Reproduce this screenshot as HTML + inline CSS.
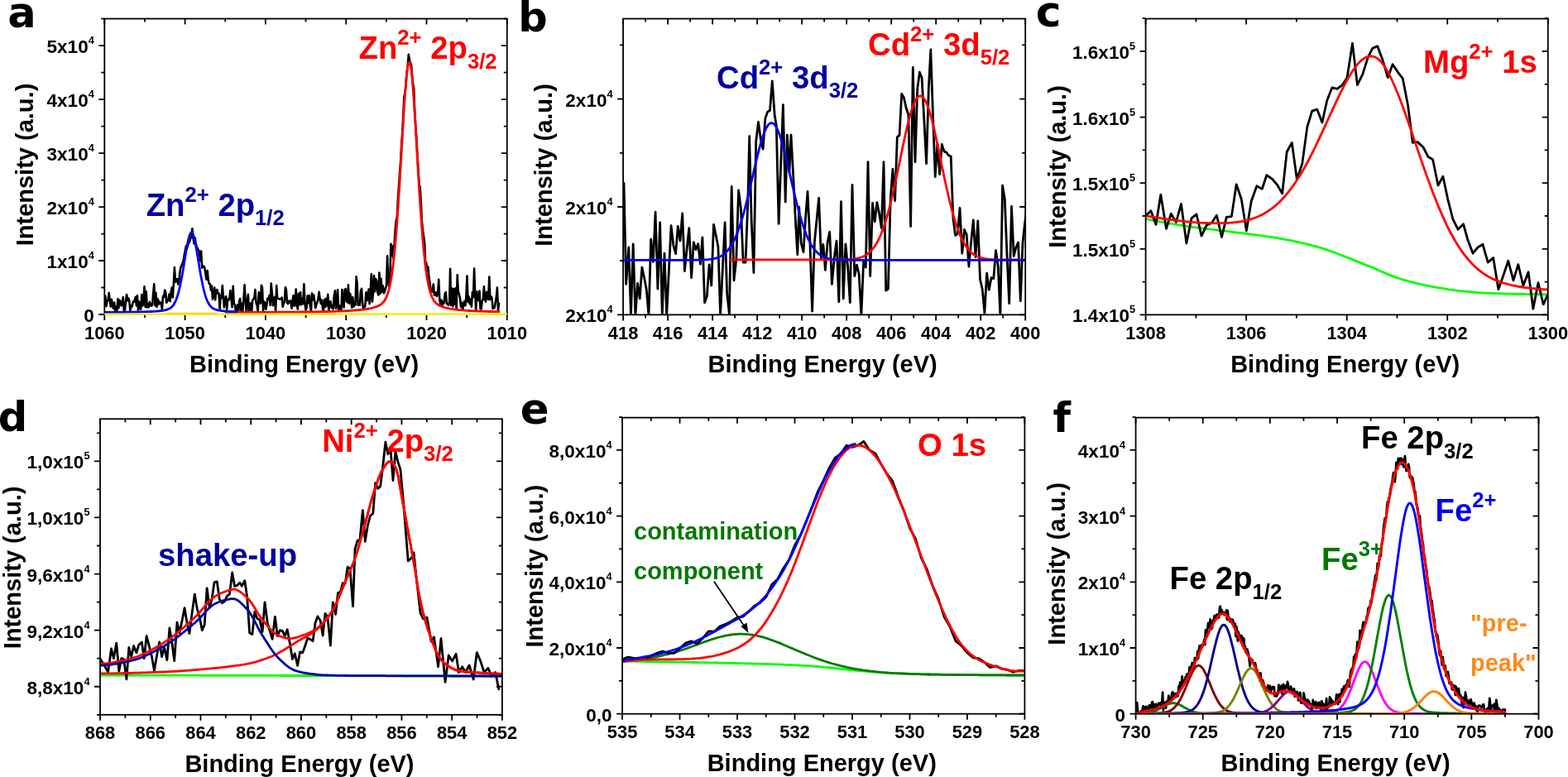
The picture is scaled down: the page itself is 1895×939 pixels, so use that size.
<!DOCTYPE html><html><head><meta charset="utf-8"><style>html,body{margin:0;padding:0;background:#fff;overflow:hidden}svg{display:block}text{font-family:'Liberation Sans', Arial, sans-serif;font-weight:bold}</style></head><body>
<svg width="1895" height="939" viewBox="0 0 1895 939">
<rect width="100%" height="100%" fill="#fff"/>
<text x="9.3" y="33.2" style="font-family:'DejaVu Sans', 'Liberation Sans', sans-serif" font-size="51">a</text>
<text x="626.3" y="37.9" style="font-family:'DejaVu Sans', 'Liberation Sans', sans-serif" font-size="49.5">b</text>
<text x="1251.8" y="32" style="font-family:'DejaVu Sans', 'Liberation Sans', sans-serif" font-size="52">c</text>
<text x="-2.3" y="520.7" style="font-family:'DejaVu Sans', 'Liberation Sans', sans-serif" font-size="49.5">d</text>
<text x="628.8" y="512.2" style="font-family:'DejaVu Sans', 'Liberation Sans', sans-serif" font-size="51.4">e</text>
<text x="1272.6" y="522.2" style="font-family:'DejaVu Sans', 'Liberation Sans', sans-serif" font-size="49.5">f</text>
<clipPath id="clipa"><rect x="126.3" y="22.6" width="486.5" height="357.4"/></clipPath>
<g clip-path="url(#clipa)">
<polyline points="126.3,368.1 127.4,357.9 128.4,370.1 129.5,364.1 130.6,362.6 131.7,354.0 132.7,363.2 133.8,370.5 134.9,361.9 135.9,369.2 137.0,372.7 138.1,365.5 139.2,375.7 140.2,370.9 141.3,376.6 142.4,361.2 143.4,372.2 144.5,362.8 145.6,364.3 146.7,369.5 147.7,365.8 148.8,359.1 149.9,376.9 150.9,375.2 152.0,364.3 153.1,356.0 154.2,363.5 155.2,360.5 156.3,363.6 157.4,375.2 158.4,369.6 159.5,370.6 160.6,365.7 161.7,363.6 162.7,364.5 163.8,359.1 164.9,369.1 165.9,357.2 167.0,374.6 168.1,364.5 169.2,372.8 170.2,373.7 171.3,356.1 172.4,369.4 173.4,365.8 174.5,346.3 175.6,370.7 176.7,352.2 177.7,371.4 178.8,367.3 179.9,371.2 180.9,364.8 182.0,368.4 183.1,369.8 184.2,368.0 185.2,354.1 186.3,343.2 187.4,369.3 188.4,353.8 189.5,370.9 190.6,361.3 191.7,367.8 192.7,364.4 193.8,365.4 194.9,368.0 195.9,373.7 197.0,357.7 198.1,359.3 199.2,350.5 200.2,353.3 201.3,365.8 202.4,363.5 203.4,362.5 204.5,355.6 205.6,364.1 206.7,352.3 207.7,347.4 208.8,359.4 209.9,341.8 210.9,323.1 212.0,340.8 213.1,337.2 214.2,337.4 215.2,343.6 216.3,340.2 217.4,329.1 218.4,323.0 219.5,321.1 220.6,318.0 221.7,314.9 222.7,308.3 223.8,303.0 224.9,297.2 225.9,300.3 227.0,296.3 228.1,293.5 229.2,292.0 230.2,287.6 231.3,287.2 232.4,276.2 233.4,286.3 234.5,294.5 235.6,287.4 236.7,294.4 237.7,298.4 238.8,300.5 239.9,302.2 240.9,304.4 242.0,315.1 243.1,303.5 244.2,323.7 245.2,321.8 246.3,321.7 247.4,323.7 248.4,331.6 249.5,337.9 250.6,327.0 251.7,337.7 252.7,342.9 253.8,343.3 254.9,350.8 255.9,345.5 257.0,361.7 258.1,357.5 259.2,347.5 260.2,362.4 261.3,350.7 262.4,350.2 263.4,354.7 264.5,354.5 265.6,373.2 266.7,357.4 267.7,360.1 268.8,345.0 269.9,359.0 270.9,371.4 272.0,360.8 273.1,358.1 274.2,374.0 275.2,361.8 276.3,362.7 277.4,359.8 278.4,351.1 279.5,361.6 280.6,371.3 281.7,345.8 282.7,366.7 283.8,368.1 284.9,376.2 285.9,373.5 287.0,368.4 288.1,376.3 289.2,363.2 290.2,360.9 291.3,376.4 292.4,367.1 293.4,376.4 294.5,360.3 295.6,344.3 296.7,363.2 297.7,376.5 298.8,365.0 299.9,355.9 300.9,376.5 302.0,370.8 303.1,366.2 304.2,376.6 305.2,363.1 306.3,361.6 307.4,359.6 308.4,350.1 309.5,365.5 310.6,369.1 311.7,376.6 312.7,353.3 313.8,361.3 314.9,366.8 315.9,344.8 317.0,347.8 318.1,375.5 319.2,364.6 320.2,365.9 321.3,373.7 322.4,368.3 323.4,360.5 324.5,361.9 325.6,357.0 326.7,369.0 327.7,342.5 328.8,354.1 329.9,369.1 330.9,363.8 332.0,358.7 333.1,376.7 334.2,345.0 335.2,360.7 336.3,360.7 337.4,361.4 338.4,361.5 339.5,361.3 340.6,359.5 341.7,370.6 342.7,366.7 343.8,365.2 344.9,347.3 345.9,350.1 347.0,365.8 348.1,367.1 349.1,363.8 350.2,365.2 351.3,363.3 352.4,372.7 353.4,365.5 354.5,357.1 355.6,369.8 356.6,366.3 357.7,349.6 358.8,370.1 359.9,373.6 360.9,354.7 362.0,368.1 363.1,353.2 364.1,368.3 365.2,360.4 366.3,367.2 367.4,343.3 368.4,366.3 369.5,374.6 370.6,371.7 371.6,357.3 372.7,366.2 373.8,357.3 374.9,369.9 375.9,376.4 377.0,354.5 378.1,362.5 379.1,356.4 380.2,363.7 381.3,372.3 382.4,367.8 383.4,365.4 384.5,361.5 385.6,352.8 386.6,361.1 387.7,367.0 388.8,362.4 389.9,372.2 390.9,376.1 392.0,362.0 393.1,371.0 394.1,360.8 395.2,369.5 396.3,355.9 397.4,376.0 398.4,365.0 399.5,364.2 400.6,371.9 401.6,369.5 402.7,373.4 403.8,357.5 404.9,351.4 405.9,372.8 407.0,367.1 408.1,350.2 409.1,375.6 410.2,370.0 411.3,369.5 412.4,375.5 413.4,350.0 414.5,367.2 415.6,371.5 416.6,350.3 417.7,349.1 418.8,364.1 419.9,365.3 420.9,344.3 422.0,366.8 423.1,354.7 424.1,359.7 425.2,371.7 426.3,359.2 427.4,370.4 428.4,368.0 429.5,368.5 430.6,334.3 431.6,342.1 432.7,368.7 433.8,367.7 434.9,368.6 435.9,352.1 437.0,348.8 438.1,365.8 439.1,373.4 440.2,370.2 441.3,370.5 442.4,353.2 443.4,363.4 444.5,356.4 445.6,349.6 446.6,367.1 447.7,352.9 448.8,331.2 449.9,364.7 450.9,355.7 452.0,333.1 453.1,352.1 454.1,337.0 455.2,339.7 456.3,353.3 457.4,356.4 458.4,329.5 459.5,354.8 460.6,336.8 461.6,352.6 462.7,345.4 463.8,354.3 464.9,352.3 465.9,348.3 467.0,345.6 468.1,309.3 469.1,337.1 470.2,346.5 471.3,339.1 472.4,294.8 473.4,309.1 474.5,297.6 475.6,312.9 476.6,294.5 477.7,277.7 478.8,266.6 479.9,261.6 480.9,240.7 482.0,224.9 483.1,208.5 484.1,196.2 485.2,176.1 486.3,160.2 487.4,139.0 488.4,116.1 489.5,113.2 490.6,101.7 491.6,88.5 492.7,80.2 493.8,65.8 494.9,72.3 495.9,75.8 497.0,78.1 498.1,91.0 499.1,101.9 500.2,106.5 501.3,136.8 502.4,153.5 503.4,167.5 504.5,188.8 505.6,206.0 506.6,223.3 507.7,226.3 508.8,245.4 509.9,267.3 510.9,277.6 512.0,285.5 513.1,293.2 514.1,318.5 515.2,317.4 516.3,327.2 517.4,322.6 518.4,335.3 519.5,341.2 520.6,350.9 521.6,351.9 522.7,352.6 523.8,343.5 524.9,356.6 525.9,356.8 527.0,353.4 528.1,357.9 529.1,354.3 530.2,337.7 531.3,361.5 532.4,369.2 533.4,362.5 534.5,370.1 535.6,365.0 536.6,366.4 537.7,354.9 538.8,353.1 539.9,366.8 540.9,367.9 542.0,368.9 543.1,365.6 544.1,324.8 545.2,368.9 546.3,348.5 547.4,370.1 548.4,349.2 549.5,367.4 550.6,348.4 551.6,373.7 552.7,332.2 553.8,352.2 554.9,355.9 555.9,360.0 557.0,370.7 558.1,365.5 559.1,374.5 560.2,369.2 561.3,364.0 562.4,369.3 563.4,358.3 564.5,333.5 565.6,364.9 566.6,358.5 567.7,367.3 568.8,361.6 569.9,370.7 570.9,353.2 572.0,358.9 573.1,324.6 574.1,352.3 575.2,375.5 576.3,352.4 577.4,361.0 578.4,363.1 579.5,351.5 580.6,373.4 581.6,373.5 582.7,363.9 583.8,361.6 584.9,346.4 585.9,362.0 587.0,364.6 588.1,352.8 589.1,359.1 590.2,362.0 591.3,334.5 592.4,361.9 593.4,358.2 594.5,360.2 595.6,373.1 596.6,372.1 597.7,371.9 598.8,364.9 599.9,358.6 600.9,347.6 602.0,374.9 603.1,366.7" fill="none" stroke="#000" stroke-width="2.6" stroke-linejoin="round" stroke-linecap="round" />
<polyline points="273.1,377.5 274.2,377.5 275.2,377.5 276.3,377.5 277.4,377.5 278.4,377.5 279.5,377.5 280.6,377.5 281.7,377.5 282.7,377.5 283.8,377.5 284.9,377.5 285.9,377.4 287.0,377.4 288.1,377.4 289.2,377.4 290.2,377.4 291.3,377.4 292.4,377.4 293.4,377.4 294.5,377.4 295.6,377.4 296.7,377.4 297.7,377.4 298.8,377.4 299.9,377.4 300.9,377.4 302.0,377.4 303.1,377.4 304.2,377.4 305.2,377.4 306.3,377.4 307.4,377.4 308.4,377.4 309.5,377.4 310.6,377.4 311.7,377.4 312.7,377.4 313.8,377.4 314.9,377.4 315.9,377.3 317.0,377.3 318.1,377.3 319.2,377.3 320.2,377.3 321.3,377.3 322.4,377.3 323.4,377.3 324.5,377.3 325.6,377.3 326.7,377.3 327.7,377.3 328.8,377.3 329.9,377.3 330.9,377.3 332.0,377.3 333.1,377.3 334.2,377.3 335.2,377.3 336.3,377.2 337.4,377.2 338.4,377.2 339.5,377.2 340.6,377.2 341.7,377.2 342.7,377.2 343.8,377.2 344.9,377.2 345.9,377.2 347.0,377.2 348.1,377.2 349.1,377.2 350.2,377.2 351.3,377.1 352.4,377.1 353.4,377.1 354.5,377.1 355.6,377.1 356.6,377.1 357.7,377.1 358.8,377.1 359.9,377.1 360.9,377.1 362.0,377.0 363.1,377.0 364.1,377.0 365.2,377.0 366.3,377.0 367.4,377.0 368.4,377.0 369.5,377.0 370.6,376.9 371.6,376.9 372.7,376.9 373.8,376.9 374.9,376.9 375.9,376.9 377.0,376.9 378.1,376.8 379.1,376.8 380.2,376.8 381.3,376.8 382.4,376.8 383.4,376.8 384.5,376.7 385.6,376.7 386.6,376.7 387.7,376.7 388.8,376.7 389.9,376.6 390.9,376.6 392.0,376.6 393.1,376.6 394.1,376.5 395.2,376.5 396.3,376.5 397.4,376.5 398.4,376.4 399.5,376.4 400.6,376.4 401.6,376.4 402.7,376.3 403.8,376.3 404.9,376.3 405.9,376.2 407.0,376.2 408.1,376.1 409.1,376.1 410.2,376.1 411.3,376.0 412.4,376.0 413.4,375.9 414.5,375.9 415.6,375.8 416.6,375.8 417.7,375.7 418.8,375.7 419.9,375.6 420.9,375.6 422.0,375.5 423.1,375.4 424.1,375.4 425.2,375.3 426.3,375.2 427.4,375.1 428.4,375.1 429.5,375.0 430.6,374.9 431.6,374.8 432.7,374.7 433.8,374.6 434.9,374.5 435.9,374.4 437.0,374.2 438.1,374.1 439.1,374.0 440.2,373.8 441.3,373.7 442.4,373.5 443.4,373.4 444.5,373.2 445.6,373.0 446.6,372.8 447.7,372.6 448.8,372.3 449.9,372.1 450.9,371.8 452.0,371.5 453.1,371.2 454.1,370.9 455.2,370.5 456.3,370.1 457.4,369.6 458.4,369.0 459.5,368.4 460.6,367.7 461.6,366.8 462.7,365.8 463.8,364.5 464.9,363.0 465.9,361.2 467.0,359.0 468.1,356.4 469.1,353.2 470.2,349.3 471.3,344.7 472.4,339.2 473.4,332.7 474.5,325.1 475.6,316.4 476.6,306.4 477.7,295.0 478.8,282.4 479.9,268.4 480.9,253.2 482.0,236.8 483.1,219.6 484.1,201.6 485.2,183.2 486.3,164.7 487.4,146.6 488.4,129.5 489.5,113.7 490.6,99.9 491.6,88.7 492.7,80.6 493.8,76.0 494.9,75.0 495.9,77.9 497.0,84.4 498.1,94.2 499.1,106.8 500.2,121.7 501.3,138.3 502.4,156.0 503.4,174.3 504.5,192.8 505.6,211.0 506.6,228.7 507.7,245.5 508.8,261.3 509.9,275.8 510.9,289.1 512.0,301.1 513.1,311.7 514.1,321.1 515.2,329.2 516.3,336.2 517.4,342.2 518.4,347.2 519.5,351.4 520.6,354.9 521.6,357.8 522.7,360.2 523.8,362.2 524.9,363.9 525.9,365.2 527.0,366.3 528.1,367.3 529.1,368.1 530.2,368.7 531.3,369.3 532.4,369.8 533.4,370.3 534.5,370.7 535.6,371.1 536.6,371.4 537.7,371.7 538.8,372.0 539.9,372.2 540.9,372.5 542.0,372.7 543.1,372.9 544.1,373.1 545.2,373.3 546.3,373.4 547.4,373.6 548.4,373.8 549.5,373.9 550.6,374.0 551.6,374.2 552.7,374.3 553.8,374.4 554.9,374.5 555.9,374.6 557.0,374.7 558.1,374.8 559.1,374.9 560.2,375.0 561.3,375.1 562.4,375.2 563.4,375.3 564.5,375.3 565.6,375.4 566.6,375.5 567.7,375.5 568.8,375.6 569.9,375.7 570.9,375.7 572.0,375.8 573.1,375.8 574.1,375.9 575.2,375.9 576.3,376.0 577.4,376.0 578.4,376.0 579.5,376.1 580.6,376.1 581.6,376.2 582.7,376.2 583.8,376.2 584.9,376.3 585.9,376.3 587.0,376.3 588.1,376.4 589.1,376.4 590.2,376.4 591.3,376.5 592.4,376.5 593.4,376.5 594.5,376.5 595.6,376.6 596.6,376.6 597.7,376.6 598.8,376.6 599.9,376.7 600.9,376.7 602.0,376.7 603.1,376.7" fill="none" stroke="#ff0000" stroke-width="2.8" stroke-linejoin="round" stroke-linecap="round" />
<polyline points="126.3,377.4 127.4,377.4 128.4,377.4 129.5,377.4 130.6,377.4 131.7,377.4 132.7,377.4 133.8,377.4 134.9,377.4 135.9,377.4 137.0,377.4 138.1,377.4 139.2,377.4 140.2,377.4 141.3,377.3 142.4,377.3 143.4,377.3 144.5,377.3 145.6,377.3 146.7,377.3 147.7,377.3 148.8,377.3 149.9,377.3 150.9,377.3 152.0,377.2 153.1,377.2 154.2,377.2 155.2,377.2 156.3,377.2 157.4,377.2 158.4,377.2 159.5,377.1 160.6,377.1 161.7,377.1 162.7,377.1 163.8,377.1 164.9,377.0 165.9,377.0 167.0,377.0 168.1,377.0 169.2,376.9 170.2,376.9 171.3,376.9 172.4,376.9 173.4,376.8 174.5,376.8 175.6,376.8 176.7,376.7 177.7,376.7 178.8,376.6 179.9,376.6 180.9,376.6 182.0,376.5 183.1,376.5 184.2,376.4 185.2,376.3 186.3,376.3 187.4,376.2 188.4,376.1 189.5,376.1 190.6,376.0 191.7,375.9 192.7,375.8 193.8,375.7 194.9,375.6 195.9,375.4 197.0,375.3 198.1,375.1 199.2,374.9 200.2,374.7 201.3,374.4 202.4,374.1 203.4,373.6 204.5,373.1 205.6,372.5 206.7,371.7 207.7,370.8 208.8,369.6 209.9,368.1 210.9,366.3 212.0,364.2 213.1,361.6 214.2,358.6 215.2,355.1 216.3,351.1 217.4,346.5 218.4,341.4 219.5,335.9 220.6,329.9 221.7,323.6 222.7,317.0 223.8,310.5 224.9,304.0 225.9,297.9 227.0,292.4 228.1,287.7 229.2,284.1 230.2,281.8 231.3,280.9 232.4,281.5 233.4,283.6 234.5,287.0 235.6,291.6 236.7,297.0 237.7,303.0 238.8,309.4 239.9,316.0 240.9,322.5 242.0,328.9 243.1,334.9 244.2,340.5 245.2,345.7 246.3,350.4 247.4,354.5 248.4,358.1 249.5,361.2 250.6,363.8 251.7,366.0 252.7,367.8 253.8,369.4 254.9,370.6 255.9,371.6 257.0,372.4 258.1,373.0 259.2,373.6 260.2,374.0 261.3,374.3 262.4,374.6 263.4,374.9 264.5,375.1 265.6,375.2 266.7,375.4 267.7,375.5 268.8,375.7 269.9,375.8 270.9,375.9 272.0,376.0 273.1,376.0 274.2,376.1 275.2,376.2 276.3,376.3 277.4,376.3 278.4,376.4 279.5,376.4 280.6,376.5 281.7,376.5 282.7,376.6 283.8,376.6 284.9,376.7 285.9,376.7" fill="none" stroke="#0000ff" stroke-width="2.8" stroke-linejoin="round" stroke-linecap="round" />
</g>
<rect x="126.3" y="22.6" width="486.5" height="357.4" fill="none" stroke="#000" stroke-width="1.8"/>
<path d="M126.3 380v7M126.3 22.6v7M174.95 380v4M174.95 22.6v4M223.6 380v7M223.6 22.6v7M272.25 380v4M272.25 22.6v4M320.9 380v7M320.9 22.6v7M369.55 380v4M369.55 22.6v4M418.2 380v7M418.2 22.6v7M466.85 380v4M466.85 22.6v4M515.5 380v7M515.5 22.6v7M564.15 380v4M564.15 22.6v4M612.8 380v7M612.8 22.6v7M126.3 380h-7M612.8 380h-7M126.3 315.02h-7M612.8 315.02h-7M126.3 250.04h-7M612.8 250.04h-7M126.3 185.05h-7M612.8 185.05h-7M126.3 120.07h-7M612.8 120.07h-7M126.3 55.09h-7M612.8 55.09h-7M126.3 347.51h-4M612.8 347.51h-4M126.3 282.53h-4M612.8 282.53h-4M126.3 217.55h-4M612.8 217.55h-4M126.3 152.56h-4M612.8 152.56h-4M126.3 87.58h-4M612.8 87.58h-4M126.3 22.6h-4M612.8 22.6h-4" fill="none" stroke="#000" stroke-width="1.8"/>
<text transform="translate(126.3,409.5) scale(0.955,1)" text-anchor="middle" font-size="22.9">1060</text>
<text transform="translate(223.6,409.5) scale(0.955,1)" text-anchor="middle" font-size="22.9">1050</text>
<text transform="translate(320.9,409.5) scale(0.955,1)" text-anchor="middle" font-size="22.9">1040</text>
<text transform="translate(418.2,409.5) scale(0.955,1)" text-anchor="middle" font-size="22.9">1030</text>
<text transform="translate(515.5,409.5) scale(0.955,1)" text-anchor="middle" font-size="22.9">1020</text>
<text transform="translate(612.8,409.5) scale(0.955,1)" text-anchor="middle" font-size="22.9">1010</text>
<text transform="translate(113.8,389) scale(0.985,1)" text-anchor="end" font-size="22.9">0</text>
<text transform="translate(113.8,324.02) scale(0.985,1)" text-anchor="end" font-size="22.9">1x10<tspan font-size="13.00" dy="-11">4</tspan></text>
<text transform="translate(113.8,259.04) scale(0.985,1)" text-anchor="end" font-size="22.9">2x10<tspan font-size="13.00" dy="-11">4</tspan></text>
<text transform="translate(113.8,194.05) scale(0.985,1)" text-anchor="end" font-size="22.9">3x10<tspan font-size="13.00" dy="-11">4</tspan></text>
<text transform="translate(113.8,129.07) scale(0.985,1)" text-anchor="end" font-size="22.9">4x10<tspan font-size="13.00" dy="-11">4</tspan></text>
<text transform="translate(113.8,64.09) scale(0.985,1)" text-anchor="end" font-size="22.9">5x10<tspan font-size="13.00" dy="-11">4</tspan></text>
<text x="367.55" y="449.8" text-anchor="middle" font-size="29">Binding Energy (eV)</text>
<text transform="translate(40.1,199) rotate(-90)" text-anchor="middle" font-size="29">Intensity (a.u.)</text>
<line x1="199.27" y1="378.4" x2="262.52" y2="378.4" stroke="#ff9900" stroke-width="1"/><line x1="126.3" y1="379.7" x2="612.8" y2="379.7" stroke="#f0f000" stroke-width="2.4"/>
<clipPath id="clipb"><rect x="753.1" y="22.6" width="486.1" height="357.8"/></clipPath>
<g clip-path="url(#clipb)">
<polyline points="754.0,221.3 756.7,343.4 759.8,298.8 762.5,381.2 765.2,295.0 767.9,381.2 770.6,342.4 773.2,360.9 775.9,323.1 778.6,335.7 781.3,350.2 784.0,381.2 786.7,289.1 789.4,316.3 792.1,256.2 794.9,349.2 797.6,268.8 800.3,381.2 803.0,306.2 805.7,381.2 808.4,326.9 811.1,272.7 813.9,296.9 816.6,306.6 819.3,273.3 822.0,291.1 824.7,257.8 827.4,327.5 830.1,300.8 832.8,275.6 835.6,335.7 838.3,292.6 841.0,301.7 843.7,294.6 846.4,319.2 848.9,286.8 851.6,365.7 854.4,357.9 857.1,319.8 859.8,345.0 862.5,271.3 865.2,284.3 867.9,297.9 870.6,381.2 873.3,326.0 876.1,268.8 878.6,354.4 881.4,379.3 884.2,225.3 887.0,338.8 889.8,314.0 892.6,230.0 895.4,251.7 898.2,317.1 901.0,317.1 903.8,245.5 905.7,164.7 908.1,264.2 910.9,329.5 913.7,170.9 916.5,147.5 919.3,167.8 922.1,180.2 924.9,142.9 927.7,135.1 930.5,133.5 933.3,97.8 936.1,138.2 938.3,152.2 941.1,270.4 943.9,192.6 946.4,126.7 949.2,244.0 951.4,163.1 953.9,208.2 956.0,163.1 958.8,214.4 961.6,270.4 963.8,307.7 965.7,250.2 968.2,293.7 971.0,304.6 973.5,264.2 976.0,231.5 978.8,289.1 981.6,376.2 984.4,292.2 987.2,264.2 989.6,239.3 992.4,312.4 994.9,295.3 997.4,326.4 1000.2,292.2 1002.7,280.4 1005.4,343.4 1008.3,311.4 1011.0,291.1 1013.8,364.7 1016.5,243.6 1019.2,360.9 1021.9,295.0 1024.6,322.1 1027.3,365.7 1030.0,223.3 1032.8,333.7 1035.5,320.2 1038.2,331.8 1040.9,381.2 1043.6,316.3 1046.3,323.1 1049.0,195.7 1051.7,333.7 1054.5,245.5 1057.2,267.8 1059.9,244.6 1062.6,258.1 1065.3,275.6 1068.0,195.7 1070.7,351.2 1073.4,349.2 1076.2,240.7 1078.9,204.4 1081.6,242.6 1084.3,165.7 1087.0,163.7 1089.7,113.3 1092.4,118.2 1095.2,130.8 1097.9,138.5 1100.6,273.6 1103.3,81.4 1106.0,195.7 1108.7,107.5 1111.4,87.2 1114.1,94.0 1116.9,146.3 1119.6,197.6 1122.3,107.5 1124.8,60.0 1127.5,138.5 1130.2,213.6 1132.9,173.4 1135.6,210.7 1138.3,174.4 1141.1,183.1 1143.8,184.1 1146.5,188.0 1149.2,188.9 1151.9,264.0 1154.6,284.3 1157.3,282.4 1160.0,251.4 1162.8,306.2 1165.5,277.5 1168.2,283.3 1170.9,322.1 1173.6,293.0 1176.3,265.9 1179.0,310.5 1181.8,266.9 1184.5,337.6 1187.2,349.2 1189.9,378.3 1192.6,330.2 1195.3,350.2 1198.0,335.7 1200.8,336.6 1203.5,302.7 1206.2,322.1 1208.9,381.2 1211.6,224.2 1214.3,240.7 1217.0,308.5 1219.7,366.7 1222.5,249.4 1225.2,309.5 1227.9,298.8 1230.6,293.0 1233.3,363.8 1236.0,293.0 1238.7,268.8 1241.0,250.0" fill="none" stroke="#000" stroke-width="2.8" stroke-linejoin="round" stroke-linecap="round" />
<polyline points="882.7,313.9 885.4,313.9 888.1,313.9 890.8,313.9 893.5,313.9 896.2,313.9 898.9,313.9 901.6,313.9 904.3,313.9 907.0,313.9 909.7,313.9 912.4,313.9 915.1,313.9 917.8,313.9 920.5,313.9 923.2,313.9 925.9,313.9 928.6,313.9 931.3,313.9 934.0,313.9 936.7,313.9 939.4,313.9 942.1,313.9 944.8,313.9 947.5,313.9 950.2,313.9 952.9,313.9 955.6,313.9 958.3,313.9 961.0,313.9 963.7,313.9 966.4,313.9 969.1,313.9 971.8,313.9 974.5,313.9 977.2,313.9 979.9,313.9 982.6,313.9 985.3,313.9 988.0,313.9 990.7,313.9 993.4,313.9 996.2,313.9 998.9,313.9 1001.6,313.9 1004.3,313.9 1007.0,313.9 1009.7,313.9 1012.4,313.8 1015.1,313.8 1017.8,313.8 1020.5,313.7 1023.2,313.6 1025.9,313.5 1028.6,313.3 1031.3,313.0 1034.0,312.6 1036.7,312.1 1039.4,311.4 1042.1,310.5 1044.8,309.2 1047.5,307.6 1050.2,305.6 1052.9,303.0 1055.6,299.8 1058.3,295.9 1061.0,291.2 1063.7,285.5 1066.4,278.9 1069.1,271.2 1071.8,262.5 1074.5,252.7 1077.2,242.0 1079.9,230.3 1082.6,218.0 1085.3,205.1 1088.0,192.0 1090.7,178.9 1093.4,166.2 1096.1,154.2 1098.8,143.3 1101.5,133.8 1104.2,126.1 1106.9,120.4 1109.6,116.9 1112.3,115.7 1115.0,116.9 1117.7,120.4 1120.4,126.1 1123.1,133.8 1125.8,143.3 1128.5,154.2 1131.2,166.2 1133.9,178.9 1136.6,192.0 1139.3,205.1 1142.0,218.0 1144.7,230.3 1147.4,242.0 1150.1,252.7 1152.8,262.5 1155.5,271.2 1158.2,278.9 1160.9,285.5 1163.6,291.2 1166.3,295.9 1169.0,299.8 1171.7,303.0 1174.4,305.6 1177.1,307.6 1179.8,309.2 1182.5,310.5 1185.2,311.4 1187.9,312.1 1190.6,312.6 1193.3,313.0 1196.0,313.3 1198.7,313.5 1201.4,313.6 1204.1,313.7 1206.8,313.8 1209.5,313.8 1212.2,313.8 1214.9,313.9 1217.6,313.9 1220.3,313.9 1223.0,313.9 1225.7,313.9 1228.4,313.9 1231.1,313.9 1233.8,313.9 1236.5,313.9 1239.2,313.9" fill="none" stroke="#ff0000" stroke-width="2.8" stroke-linejoin="round" stroke-linecap="round" />
<polyline points="753.1,314.3 755.8,314.3 758.5,314.3 761.2,314.3 763.9,314.3 766.6,314.3 769.3,314.3 772.0,314.3 774.7,314.3 777.4,314.3 780.1,314.3 782.8,314.3 785.5,314.3 788.2,314.3 790.9,314.3 793.6,314.3 796.3,314.3 799.0,314.3 801.7,314.3 804.4,314.3 807.1,314.3 809.8,314.3 812.5,314.3 815.2,314.3 817.9,314.3 820.6,314.3 823.3,314.3 826.0,314.3 828.7,314.3 831.4,314.3 834.1,314.3 836.8,314.3 839.5,314.2 842.2,314.2 844.9,314.2 847.6,314.1 850.3,314.0 853.0,313.9 855.7,313.7 858.4,313.4 861.1,313.0 863.8,312.4 866.5,311.6 869.2,310.6 871.9,309.2 874.6,307.3 877.3,305.0 880.0,302.1 882.7,298.4 885.4,293.9 888.1,288.6 890.8,282.2 893.5,274.9 896.2,266.5 898.9,257.2 901.6,246.9 904.3,235.9 907.0,224.4 909.7,212.6 912.4,200.8 915.1,189.4 917.8,178.8 920.5,169.2 923.2,161.2 925.9,154.9 928.6,150.7 931.3,148.6 934.0,148.8 936.7,151.3 939.4,156.0 942.1,162.7 944.8,171.0 947.5,180.8 950.2,191.6 952.9,203.1 955.6,214.9 958.3,226.7 961.0,238.2 963.7,249.0 966.4,259.1 969.1,268.3 971.8,276.4 974.5,283.6 977.2,289.7 979.9,294.9 982.6,299.2 985.3,302.7 988.0,305.5 990.7,307.8 993.4,309.5 996.2,310.8 998.9,311.8 1001.6,312.5 1004.3,313.1 1007.0,313.4 1009.7,313.7 1012.4,313.9 1015.1,314.0 1017.8,314.1 1020.5,314.2 1023.2,314.2 1025.9,314.2 1028.6,314.3 1031.3,314.3 1034.0,314.3 1036.7,314.3 1039.4,314.3 1042.1,314.3 1044.8,314.3 1047.5,314.3 1050.2,314.3 1052.9,314.3 1055.6,314.3 1058.3,314.3 1061.0,314.3 1063.7,314.3 1066.4,314.3 1069.1,314.3 1071.8,314.3 1074.5,314.3 1077.2,314.3 1079.9,314.3 1082.6,314.3 1085.3,314.3 1088.0,314.3 1090.7,314.3 1093.4,314.3 1096.1,314.3 1098.8,314.3 1101.5,314.3 1104.2,314.3 1106.9,314.3 1109.6,314.3 1112.3,314.3 1115.0,314.3 1117.7,314.3 1120.4,314.3 1123.1,314.3 1125.8,314.3 1128.5,314.3 1131.2,314.3 1133.9,314.3 1136.6,314.3 1139.3,314.3 1142.0,314.3 1144.7,314.3 1147.4,314.3 1150.1,314.3 1152.8,314.3 1155.5,314.3 1158.2,314.3 1160.9,314.3 1163.6,314.3 1166.3,314.3 1169.0,314.3 1171.7,314.3 1174.4,314.3 1177.1,314.3 1179.8,314.3 1182.5,314.3 1185.2,314.3 1187.9,314.3 1190.6,314.3 1193.3,314.3 1196.0,314.3 1198.7,314.3 1201.4,314.3 1204.1,314.3 1206.8,314.3 1209.5,314.3 1212.2,314.3 1214.9,314.3 1217.6,314.3 1220.3,314.3 1223.0,314.3 1225.7,314.3 1228.4,314.3 1231.1,314.3 1233.8,314.3 1236.5,314.3 1239.2,314.3" fill="none" stroke="#0000ff" stroke-width="2.8" stroke-linejoin="round" stroke-linecap="round" />
</g>
<rect x="753.1" y="22.6" width="486.1" height="357.8" fill="none" stroke="#000" stroke-width="1.8"/>
<path d="M753.1 380.4v7M753.1 22.6v7M780.11 380.4v4M780.11 22.6v4M807.11 380.4v7M807.11 22.6v7M834.12 380.4v4M834.12 22.6v4M861.12 380.4v7M861.12 22.6v7M888.13 380.4v4M888.13 22.6v4M915.13 380.4v7M915.13 22.6v7M942.14 380.4v4M942.14 22.6v4M969.14 380.4v7M969.14 22.6v7M996.15 380.4v4M996.15 22.6v4M1023.16 380.4v7M1023.16 22.6v7M1050.16 380.4v4M1050.16 22.6v4M1077.17 380.4v7M1077.17 22.6v7M1104.17 380.4v4M1104.17 22.6v4M1131.18 380.4v7M1131.18 22.6v7M1158.18 380.4v4M1158.18 22.6v4M1185.19 380.4v7M1185.19 22.6v7M1212.19 380.4v4M1212.19 22.6v4M1239.2 380.4v7M1239.2 22.6v7M753.1 380.4h-7M1239.2 380.4h-7M753.1 250h-7M1239.2 250h-7M753.1 119.6h-7M1239.2 119.6h-7M753.1 315.2h-4M1239.2 315.2h-4M753.1 184.8h-4M1239.2 184.8h-4M753.1 54.4h-4M1239.2 54.4h-4" fill="none" stroke="#000" stroke-width="1.8"/>
<text transform="translate(753.1,409.9) scale(0.955,1)" text-anchor="middle" font-size="22.9">418</text>
<text transform="translate(807.11,409.9) scale(0.955,1)" text-anchor="middle" font-size="22.9">416</text>
<text transform="translate(861.12,409.9) scale(0.955,1)" text-anchor="middle" font-size="22.9">414</text>
<text transform="translate(915.13,409.9) scale(0.955,1)" text-anchor="middle" font-size="22.9">412</text>
<text transform="translate(969.14,409.9) scale(0.955,1)" text-anchor="middle" font-size="22.9">410</text>
<text transform="translate(1023.16,409.9) scale(0.955,1)" text-anchor="middle" font-size="22.9">408</text>
<text transform="translate(1077.17,409.9) scale(0.955,1)" text-anchor="middle" font-size="22.9">406</text>
<text transform="translate(1131.18,409.9) scale(0.955,1)" text-anchor="middle" font-size="22.9">404</text>
<text transform="translate(1185.19,409.9) scale(0.955,1)" text-anchor="middle" font-size="22.9">402</text>
<text transform="translate(1239.2,409.9) scale(0.955,1)" text-anchor="middle" font-size="22.9">400</text>
<text transform="translate(740.6,389.4) scale(0.985,1)" text-anchor="end" font-size="22.9">2x10<tspan font-size="13.00" dy="-11">4</tspan></text>
<text transform="translate(740.6,259) scale(0.985,1)" text-anchor="end" font-size="22.9">2x10<tspan font-size="13.00" dy="-11">4</tspan></text>
<text transform="translate(740.6,128.6) scale(0.985,1)" text-anchor="end" font-size="22.9">2x10<tspan font-size="13.00" dy="-11">4</tspan></text>
<text x="994.15" y="450.2" text-anchor="middle" font-size="29">Binding Energy (eV)</text>
<text transform="translate(666.9,199.5) rotate(-90)" text-anchor="middle" font-size="29">Intensity (a.u.)</text>

<clipPath id="clipc"><rect x="1384.6" y="22.6" width="486.2" height="357.8"/></clipPath>
<g clip-path="url(#clipc)">
<polyline points="1384.6,264.5 1387.0,265.0 1389.5,265.5 1391.9,266.0 1394.4,266.4 1396.8,266.9 1399.3,267.4 1401.7,267.8 1404.1,268.3 1406.6,268.7 1409.0,269.2 1411.5,269.6 1413.9,270.0 1416.4,270.4 1418.8,270.9 1421.2,271.3 1423.7,271.7 1426.1,272.1 1428.6,272.5 1431.0,272.8 1433.5,273.2 1435.9,273.6 1438.4,273.9 1440.8,274.3 1443.2,274.6 1445.7,275.0 1448.1,275.3 1450.6,275.6 1453.0,275.9 1455.5,276.2 1457.9,276.5 1460.3,276.8 1462.8,277.1 1465.2,277.4 1467.7,277.7 1470.1,278.0 1472.6,278.3 1475.0,278.6 1477.4,278.9 1479.9,279.1 1482.3,279.4 1484.8,279.7 1487.2,280.0 1489.7,280.3 1492.1,280.6 1494.5,281.0 1497.0,281.3 1499.4,281.6 1501.9,281.9 1504.3,282.2 1506.8,282.5 1509.2,282.9 1511.6,283.2 1514.1,283.5 1516.5,283.8 1519.0,284.1 1521.4,284.4 1523.9,284.8 1526.3,285.1 1528.7,285.4 1531.2,285.8 1533.6,286.1 1536.1,286.5 1538.5,286.9 1541.0,287.3 1543.4,287.7 1545.9,288.1 1548.3,288.5 1550.7,288.9 1553.2,289.3 1555.6,289.8 1558.1,290.3 1560.5,290.7 1563.0,291.2 1565.4,291.8 1567.8,292.3 1570.3,292.8 1572.7,293.4 1575.2,294.0 1577.6,294.5 1580.1,295.2 1582.5,295.8 1584.9,296.4 1587.4,297.0 1589.8,297.7 1592.3,298.4 1594.7,299.1 1597.2,299.8 1599.6,300.6 1602.0,301.4 1604.5,302.2 1606.9,303.1 1609.4,304.0 1611.8,304.9 1614.3,305.8 1616.7,306.8 1619.1,307.7 1621.6,308.6 1624.0,309.5 1626.5,310.5 1628.9,311.4 1631.4,312.4 1633.8,313.4 1636.3,314.4 1638.7,315.4 1641.1,316.4 1643.6,317.4 1646.0,318.4 1648.5,319.4 1650.9,320.4 1653.4,321.4 1655.8,322.3 1658.2,323.3 1660.7,324.3 1663.1,325.4 1665.6,326.4 1668.0,327.5 1670.5,328.5 1672.9,329.6 1675.3,330.6 1677.8,331.6 1680.2,332.6 1682.7,333.6 1685.1,334.5 1687.6,335.4 1690.0,336.2 1692.4,337.0 1694.9,337.8 1697.3,338.5 1699.8,339.2 1702.2,339.9 1704.7,340.5 1707.1,341.2 1709.5,341.8 1712.0,342.4 1714.4,343.0 1716.9,343.5 1719.3,344.1 1721.8,344.6 1724.2,345.1 1726.7,345.6 1729.1,346.1 1731.5,346.5 1734.0,347.0 1736.4,347.4 1738.9,347.8 1741.3,348.2 1743.8,348.6 1746.2,349.0 1748.6,349.4 1751.1,349.8 1753.5,350.1 1756.0,350.4 1758.4,350.8 1760.9,351.1 1763.3,351.3 1765.7,351.6 1768.2,351.8 1770.6,352.1 1773.1,352.3 1775.5,352.6 1778.0,352.8 1780.4,353.0 1782.8,353.3 1785.3,353.5 1787.7,353.7 1790.2,353.8 1792.6,354.0 1795.1,354.1 1797.5,354.3 1799.9,354.4 1802.4,354.4 1804.8,354.5 1807.3,354.6 1809.7,354.7 1812.2,354.8 1814.6,354.8 1817.0,354.9 1819.5,355.0 1821.9,355.1 1824.4,355.1 1826.8,355.2 1829.3,355.2 1831.7,355.3 1834.2,355.4 1836.6,355.4 1839.0,355.5 1841.5,355.5 1843.9,355.6 1846.4,355.6 1848.8,355.6 1851.3,355.7 1853.7,355.7 1856.1,355.7 1858.6,355.7 1861.0,355.8 1863.5,355.8 1865.9,355.8 1868.4,355.8 1870.8,355.8" fill="none" stroke="#00ff00" stroke-width="2.8" stroke-linejoin="round" stroke-linecap="round" />
<polyline points="1384.0,261.6 1390.9,254.7 1397.0,271.3 1402.8,235.3 1409.5,276.3 1415.3,258.3 1421.4,268.5 1427.5,246.4 1433.9,294.0 1440.0,263.8 1446.0,258.8 1452.1,285.2 1458.2,272.1 1464.3,269.4 1470.4,260.2 1476.5,286.5 1482.3,262.4 1488.4,261.6 1494.2,222.8 1500.3,240.8 1506.4,278.8 1512.3,243.0 1518.9,224.8 1525.3,228.4 1530.8,211.7 1537.7,216.5 1543.8,223.7 1549.7,233.9 1555.2,183.5 1561.3,172.4 1567.4,216.7 1573.8,197.9 1579.8,153.6 1585.7,134.2 1591.8,132.2 1597.9,148.0 1603.7,121.7 1609.8,105.9 1616.1,107.3 1622.3,102.6 1628.1,93.7 1634.5,52.3 1640.4,102.6 1646.8,89.8 1653.2,69.4 1658.8,58.4 1664.7,55.8 1670.8,71.9 1677.2,93.7 1683.1,77.8 1689.5,87.3 1695.3,94.9 1701.5,126.9 1707.3,172.3 1713.2,171.6 1720.1,178.0 1726.0,189.5 1731.6,192.8 1738.0,224.0 1743.9,213.2 1750.0,241.8 1755.9,264.8 1762.0,277.2 1768.5,270.7 1773.9,289.9 1780.1,306.2 1785.9,299.0 1792.0,295.3 1798.2,317.1 1804.7,311.6 1810.9,349.7 1816.7,333.4 1822.8,315.3 1829.0,338.8 1834.8,319.6 1840.9,345.3 1847.1,328.7 1852.9,373.2 1859.0,341.7 1865.2,367.8 1871.0,355.1" fill="none" stroke="#000" stroke-width="2.8" stroke-linejoin="round" stroke-linecap="round" />
<polyline points="1384.6,260.8 1387.0,261.2 1389.5,261.6 1391.9,262.0 1394.4,262.4 1396.8,262.8 1399.3,263.2 1401.7,263.6 1404.1,264.0 1406.6,264.3 1409.0,264.7 1411.5,265.0 1413.9,265.4 1416.4,265.7 1418.8,266.0 1421.2,266.3 1423.7,266.7 1426.1,266.9 1428.6,267.2 1431.0,267.5 1433.5,267.8 1435.9,268.0 1438.4,268.2 1440.8,268.5 1443.2,268.7 1445.7,268.8 1448.1,269.0 1450.6,269.2 1453.0,269.3 1455.5,269.4 1457.9,269.5 1460.3,269.6 1462.8,269.7 1465.2,269.7 1467.7,269.7 1470.1,269.8 1472.6,269.7 1475.0,269.7 1477.4,269.7 1479.9,269.6 1482.3,269.5 1484.8,269.3 1487.2,269.2 1489.7,269.0 1492.1,268.7 1494.5,268.5 1497.0,268.1 1499.4,267.8 1501.9,267.3 1504.3,266.8 1506.8,266.3 1509.2,265.6 1511.6,264.9 1514.1,264.2 1516.5,263.3 1519.0,262.3 1521.4,261.3 1523.9,260.1 1526.3,258.9 1528.7,257.5 1531.2,256.0 1533.6,254.4 1536.1,252.7 1538.5,250.9 1541.0,248.9 1543.4,246.8 1545.9,244.5 1548.3,242.1 1550.7,239.5 1553.2,236.8 1555.6,233.9 1558.1,230.9 1560.5,227.7 1563.0,224.3 1565.4,220.8 1567.8,217.1 1570.3,213.3 1572.7,209.3 1575.2,205.1 1577.6,200.8 1580.1,196.3 1582.5,191.7 1584.9,186.9 1587.4,182.0 1589.8,177.0 1592.3,171.9 1594.7,166.7 1597.2,161.5 1599.6,156.2 1602.0,150.9 1604.5,145.5 1606.9,140.2 1609.4,134.9 1611.8,129.6 1614.3,124.4 1616.7,119.2 1619.1,114.1 1621.6,109.2 1624.0,104.3 1626.5,99.7 1628.9,95.3 1631.4,91.1 1633.8,87.1 1636.3,83.5 1638.7,80.2 1641.1,77.2 1643.6,74.6 1646.0,72.4 1648.5,70.6 1650.9,69.3 1653.4,68.4 1655.8,67.9 1658.2,68.0 1660.7,68.6 1663.1,69.7 1665.6,71.4 1668.0,73.6 1670.5,76.4 1672.9,79.8 1675.3,83.6 1677.8,87.9 1680.2,92.6 1682.7,97.7 1685.1,103.2 1687.6,109.0 1690.0,115.0 1692.4,121.3 1694.9,127.8 1697.3,134.5 1699.8,141.4 1702.2,148.4 1704.7,155.5 1707.1,162.7 1709.5,169.9 1712.0,177.1 1714.4,184.3 1716.9,191.4 1719.3,198.5 1721.8,205.5 1724.2,212.4 1726.7,219.1 1729.1,225.7 1731.5,232.2 1734.0,238.5 1736.4,244.6 1738.9,250.6 1741.3,256.3 1743.8,261.9 1746.2,267.2 1748.6,272.4 1751.1,277.3 1753.5,282.0 1756.0,286.5 1758.4,290.8 1760.9,294.8 1763.3,298.6 1765.7,302.3 1768.2,305.7 1770.6,308.9 1773.1,312.0 1775.5,314.9 1778.0,317.6 1780.4,320.1 1782.8,322.5 1785.3,324.7 1787.7,326.7 1790.2,328.6 1792.6,330.4 1795.1,332.0 1797.5,333.5 1799.9,334.9 1802.4,336.2 1804.8,337.4 1807.3,338.4 1809.7,339.4 1812.2,340.4 1814.6,341.2 1817.0,342.0 1819.5,342.7 1821.9,343.4 1824.4,344.0 1826.8,344.6 1829.3,345.1 1831.7,345.6 1834.2,346.1 1836.6,346.5 1839.0,346.9 1841.5,347.3 1843.9,347.6 1846.4,347.9 1848.8,348.2 1851.3,348.5 1853.7,348.7 1856.1,349.0 1858.6,349.2 1861.0,349.4 1863.5,349.6 1865.9,349.7 1868.4,349.9 1870.8,350.1" fill="none" stroke="#ff0000" stroke-width="2.8" stroke-linejoin="round" stroke-linecap="round" />
</g>
<rect x="1384.6" y="22.6" width="486.2" height="357.8" fill="none" stroke="#000" stroke-width="1.8"/>
<path d="M1384.6 380.4v7M1384.6 22.6v7M1445.38 380.4v4M1445.38 22.6v4M1506.15 380.4v7M1506.15 22.6v7M1566.92 380.4v4M1566.92 22.6v4M1627.7 380.4v7M1627.7 22.6v7M1688.47 380.4v4M1688.47 22.6v4M1749.25 380.4v7M1749.25 22.6v7M1810.03 380.4v4M1810.03 22.6v4M1870.8 380.4v7M1870.8 22.6v7M1384.6 380.4h-7M1870.8 380.4h-7M1384.6 300.8h-7M1870.8 300.8h-7M1384.6 221.2h-7M1870.8 221.2h-7M1384.6 141.6h-7M1870.8 141.6h-7M1384.6 62h-7M1870.8 62h-7M1384.6 340.6h-4M1870.8 340.6h-4M1384.6 261h-4M1870.8 261h-4M1384.6 181.4h-4M1870.8 181.4h-4M1384.6 101.8h-4M1870.8 101.8h-4M1384.6 22.2h-4M1870.8 22.2h-4" fill="none" stroke="#000" stroke-width="1.8"/>
<text transform="translate(1384.6,409.9) scale(0.955,1)" text-anchor="middle" font-size="22.9">1308</text>
<text transform="translate(1506.15,409.9) scale(0.955,1)" text-anchor="middle" font-size="22.9">1306</text>
<text transform="translate(1627.7,409.9) scale(0.955,1)" text-anchor="middle" font-size="22.9">1304</text>
<text transform="translate(1749.25,409.9) scale(0.955,1)" text-anchor="middle" font-size="22.9">1302</text>
<text transform="translate(1870.8,409.9) scale(0.955,1)" text-anchor="middle" font-size="22.9">1300</text>
<text transform="translate(1372.1,389.4) scale(0.985,1)" text-anchor="end" font-size="22.9">1.4x10<tspan font-size="13.00" dy="-11">5</tspan></text>
<text transform="translate(1372.1,309.8) scale(0.985,1)" text-anchor="end" font-size="22.9">1.5x10<tspan font-size="13.00" dy="-11">5</tspan></text>
<text transform="translate(1372.1,230.2) scale(0.985,1)" text-anchor="end" font-size="22.9">1.5x10<tspan font-size="13.00" dy="-11">5</tspan></text>
<text transform="translate(1372.1,150.6) scale(0.985,1)" text-anchor="end" font-size="22.9">1.6x10<tspan font-size="13.00" dy="-11">5</tspan></text>
<text transform="translate(1372.1,71) scale(0.985,1)" text-anchor="end" font-size="22.9">1.6x10<tspan font-size="13.00" dy="-11">5</tspan></text>
<text x="1625.7" y="450.2" text-anchor="middle" font-size="29">Binding Energy (eV)</text>
<text transform="translate(1287.6,201.5) rotate(-90)" text-anchor="middle" font-size="29">Intensity (a.u.)</text>

<clipPath id="clipd"><rect x="121" y="506.3" width="485.9" height="357.5"/></clipPath>
<g clip-path="url(#clipd)">
<polyline points="121.0,816.0 123.0,816.0 125.1,816.0 127.1,816.0 129.1,816.0 131.2,816.0 133.2,816.0 135.2,816.0 137.3,816.0 139.3,816.0 141.3,816.0 143.4,816.0 145.4,816.1 147.4,816.1 149.5,816.1 151.5,816.1 153.5,816.1 155.6,816.1 157.6,816.1 159.6,816.1 161.7,816.1 163.7,816.1 165.7,816.1 167.8,816.1 169.8,816.1 171.8,816.1 173.9,816.1 175.9,816.1 177.9,816.1 180.0,816.1 182.0,816.1 184.0,816.1 186.1,816.1 188.1,816.1 190.1,816.1 192.2,816.1 194.2,816.2 196.2,816.2 198.3,816.2 200.3,816.2 202.3,816.2 204.4,816.2 206.4,816.2 208.4,816.2 210.5,816.2 212.5,816.2 214.5,816.2 216.6,816.2 218.6,816.2 220.6,816.2 222.7,816.2 224.7,816.2 226.7,816.2 228.8,816.2 230.8,816.2 232.8,816.2 234.9,816.2 236.9,816.2 238.9,816.2 241.0,816.2 243.0,816.3 245.0,816.3 247.0,816.3 249.1,816.3 251.1,816.3 253.1,816.3 255.2,816.3 257.2,816.3 259.2,816.3 261.3,816.3 263.3,816.3 265.3,816.3 267.4,816.3 269.4,816.3 271.4,816.3 273.5,816.3 275.5,816.3 277.5,816.3 279.6,816.3 281.6,816.3 283.6,816.3 285.7,816.3 287.7,816.3 289.7,816.3 291.8,816.4 293.8,816.4 295.8,816.4 297.9,816.4 299.9,816.4 301.9,816.4 304.0,816.4 306.0,816.4 308.0,816.4 310.1,816.4 312.1,816.4 314.1,816.4 316.2,816.4 318.2,816.4 320.2,816.4 322.3,816.4 324.3,816.4 326.3,816.4 328.4,816.4 330.4,816.4 332.4,816.4 334.5,816.4 336.5,816.4 338.5,816.4 340.6,816.5 342.6,816.5 344.6,816.5 346.7,816.5 348.7,816.5 350.7,816.5 352.8,816.5 354.8,816.5 356.8,816.5 358.9,816.5 360.9,816.5 362.9,816.5 365.0,816.5 367.0,816.5 369.0,816.5 371.1,816.5 373.1,816.5 375.1,816.5 377.2,816.5 379.2,816.5 381.2,816.5 383.3,816.5 385.3,816.5 387.3,816.5 389.4,816.6 391.4,816.6 393.4,816.6 395.5,816.6 397.5,816.6 399.5,816.6 401.6,816.6 403.6,816.6 405.6,816.6 407.7,816.6 409.7,816.6 411.7,816.6 413.8,816.6 415.8,816.6 417.8,816.6 419.9,816.6 421.9,816.6 423.9,816.6 426.0,816.6 428.0,816.6 430.0,816.6 432.1,816.6 434.1,816.6 436.1,816.6 438.2,816.7 440.2,816.7 442.2,816.7 444.3,816.7 446.3,816.7 448.3,816.7 450.4,816.7 452.4,816.7 454.4,816.7 456.5,816.7 458.5,816.7 460.5,816.7 462.6,816.7 464.6,816.7 466.6,816.7 468.7,816.7 470.7,816.7 472.7,816.7 474.8,816.7 476.8,816.7 478.8,816.7 480.9,816.7 482.9,816.7 484.9,816.7 486.9,816.8 489.0,816.8 491.0,816.8 493.0,816.8 495.1,816.8 497.1,816.8 499.1,816.8 501.2,816.8 503.2,816.8 505.2,816.8 507.3,816.8 509.3,816.8 511.3,816.8 513.4,816.8 515.4,816.8 517.4,816.8 519.5,816.8 521.5,816.8 523.5,816.8 525.6,816.8 527.6,816.8 529.6,816.8 531.7,816.8 533.7,816.8 535.7,816.9 537.8,816.9 539.8,816.9 541.8,816.9 543.9,816.9 545.9,816.9 547.9,816.9 550.0,816.9 552.0,816.9 554.0,816.9 556.1,816.9 558.1,816.9 560.1,816.9 562.2,816.9 564.2,816.9 566.2,816.9 568.3,816.9 570.3,816.9 572.3,816.9 574.4,816.9 576.4,816.9 578.4,816.9 580.5,816.9 582.5,816.9 584.5,817.0 586.6,817.0 588.6,817.0 590.6,817.0 592.7,817.0 594.7,817.0 596.7,817.0 598.8,817.0 600.8,817.0 602.8,817.0 604.9,817.0 606.9,817.0" fill="none" stroke="#00ff00" stroke-width="2.8" stroke-linejoin="round" stroke-linecap="round" />
<polyline points="120.9,795.7 123.8,800.5 126.8,805.3 130.6,812.1 134.5,784.0 137.4,795.7 140.7,777.2 143.8,811.2 146.7,795.7 149.6,796.6 152.9,820.9 155.8,782.5 158.7,793.7 161.6,780.5 164.9,788.9 167.8,779.2 171.3,775.9 174.2,795.7 177.1,768.5 180.6,782.1 183.5,793.7 186.4,810.2 189.3,793.7 192.6,775.9 195.6,793.7 198.5,782.1 201.9,797.6 204.9,758.8 207.8,776.3 210.7,798.6 214.0,752.1 216.9,764.7 219.8,751.1 223.1,734.6 226.0,753.0 228.9,765.6 232.0,741.4 235.3,718.1 238.2,735.6 241.1,745.3 244.3,761.7 247.2,755.0 250.1,710.8 253.2,734.6 256.1,724.0 259.0,703.6 262.3,703.0 265.2,724.0 268.5,728.8 271.4,726.9 274.5,720.1 277.4,718.1 280.7,692.0 283.6,708.4 286.5,707.5 289.8,704.2 292.3,708.4 295.8,701.7 298.7,722.0 301.6,764.7 304.9,766.6 307.8,739.5 310.7,747.2 314.0,749.1 317.1,763.7 320.0,727.8 323.3,753.0 326.2,762.7 329.1,772.4 332.4,745.3 335.3,768.5 338.3,761.7 341.4,762.7 344.3,768.5 347.2,760.8 350.5,778.2 353.4,796.6 356.3,789.8 359.6,804.4 362.5,787.9 365.7,788.9 368.8,780.2 371.7,771.4 374.6,772.4 378.1,774.7 381.0,753.0 383.9,744.9 387.2,750.1 390.1,768.1 393.0,741.4 395.9,745.3 399.4,780.2 402.3,727.8 405.6,742.4 408.5,716.2 411.4,715.2 414.3,704.6 417.2,705.0 420.1,685.2 423.0,687.1 426.5,732.7 429.1,663.1 432.0,653.4 434.9,652.4 438.4,616.6 441.3,654.4 444.2,636.0 447.5,623.4 450.8,620.5 453.7,583.6 456.8,590.4 459.7,587.5 462.6,564.3 465.9,534.2 468.8,548.8 472.1,543.9 475.0,580.7 477.9,545.9 481.0,558.4 483.9,567.2 487.7,608.1 493.2,677.9 497.2,674.5 500.0,667.7 503.4,700.1 508.1,741.0 511.6,747.8 516.0,746.1 521.1,775.0 524.5,769.9 529.6,805.7 533.0,771.6 538.1,824.4 542.2,792.0 546.6,798.9 551.1,790.3 554.5,812.5 558.6,805.7 562.6,812.5 567.1,804.0 572.2,821.0 576.3,788.6 580.7,798.9 585.1,812.5 589.9,807.4 594.3,817.6 598.7,812.5 602.8,832.9" fill="none" stroke="#000" stroke-width="2.8" stroke-linejoin="round" stroke-linecap="round" />
<polyline points="121.0,813.9 123.0,813.9 125.1,813.9 127.1,813.9 129.1,813.9 131.2,813.8 133.2,813.8 135.2,813.8 137.3,813.8 139.3,813.7 141.3,813.7 143.4,813.7 145.4,813.6 147.4,813.6 149.5,813.5 151.5,813.5 153.5,813.5 155.6,813.4 157.6,813.3 159.6,813.3 161.7,813.2 163.7,813.2 165.7,813.1 167.8,813.1 169.8,813.0 171.8,812.9 173.9,812.9 175.9,812.8 177.9,812.7 180.0,812.6 182.0,812.6 184.0,812.5 186.1,812.4 188.1,812.4 190.1,812.3 192.2,812.2 194.2,812.1 196.2,812.1 198.3,812.0 200.3,811.9 202.3,811.8 204.4,811.7 206.4,811.6 208.4,811.5 210.5,811.4 212.5,811.3 214.5,811.1 216.6,811.0 218.6,810.9 220.6,810.7 222.7,810.6 224.7,810.4 226.7,810.3 228.8,810.1 230.8,810.0 232.8,809.8 234.9,809.6 236.9,809.5 238.9,809.3 241.0,809.1 243.0,808.9 245.0,808.8 247.0,808.6 249.1,808.4 251.1,808.2 253.1,808.1 255.2,807.9 257.2,807.7 259.2,807.5 261.3,807.3 263.3,807.1 265.3,806.9 267.4,806.7 269.4,806.4 271.4,806.2 273.5,806.0 275.5,805.7 277.5,805.5 279.6,805.2 281.6,804.9 283.6,804.7 285.7,804.4 287.7,804.1 289.7,803.8 291.8,803.5 293.8,803.1 295.8,802.8 297.9,802.4 299.9,802.1 301.9,801.6 304.0,801.2 306.0,800.7 308.0,800.2 310.1,799.6 312.1,799.0 314.1,798.4 316.2,797.7 318.2,797.0 320.2,796.3 322.3,795.6 324.3,794.8 326.3,794.0 328.4,793.2 330.4,792.3 332.4,791.4 334.5,790.4 336.5,789.3 338.5,788.1 340.6,787.0 342.6,785.7 344.6,784.5 346.7,783.2 348.7,781.9 350.7,780.7 352.8,779.4 354.8,778.1 356.8,776.8 358.9,775.6 360.9,774.4 362.9,773.2 365.0,772.1 367.0,771.0 369.0,769.9 371.1,768.8 373.1,767.6 375.1,766.4 377.2,765.0 379.2,763.6 381.2,762.0 383.3,760.4 385.3,758.6 387.3,756.6 389.4,754.5 391.4,752.3 393.4,749.9 395.5,747.4 397.5,744.7 399.5,741.8 401.6,738.6 403.6,734.9 405.6,730.8 407.7,726.3 409.7,721.6 411.7,716.7 413.8,711.7 415.8,706.7 417.8,701.8 419.9,697.1 421.9,692.5 423.9,687.8 426.0,682.9 428.0,677.7 430.0,671.9 432.1,665.4 434.1,658.5 436.1,651.3 438.2,644.0 440.2,636.9 442.2,629.3 444.3,621.6 446.3,614.0 448.3,606.5 450.4,599.5 452.4,593.0 454.4,586.9 456.5,580.9 458.5,575.5 460.5,570.8 462.6,567.2 464.6,564.0 466.6,561.0 468.7,558.7 470.7,557.6 472.7,557.9 474.8,559.6 476.8,562.3 478.8,566.3 480.9,574.3 482.9,584.9 484.9,596.6 486.9,607.8 489.0,618.6 491.0,630.0 493.0,641.5 495.1,652.5 497.1,663.4 499.1,674.3 501.2,685.8 503.2,698.5 505.2,711.4 507.3,722.8 509.3,732.2 511.3,740.5 513.4,748.0 515.4,754.9 517.4,761.3 519.5,767.2 521.5,772.7 523.5,778.2 525.6,783.5 527.6,788.2 529.6,792.1 531.7,795.2 533.7,797.9 535.7,800.2 537.8,802.1 539.8,803.5 541.8,804.9 543.9,806.2 545.9,807.4 547.9,808.4 550.0,809.3 552.0,810.1 554.0,810.6 556.1,811.0 558.1,811.2 560.1,811.5 562.2,811.7 564.2,811.9 566.2,812.1 568.3,812.2 570.3,812.4 572.3,812.5 574.4,812.7 576.4,812.8 578.4,812.9 580.5,813.1 582.5,813.2 584.5,813.3 586.6,813.5 588.6,813.6 590.6,813.7 592.7,813.8 594.7,813.9 596.7,814.0 598.8,814.1 600.8,814.1 602.8,814.2 604.9,814.3 606.9,814.3" fill="none" stroke="#ff0000" stroke-width="2.8" stroke-linejoin="round" stroke-linecap="round" />
<polyline points="121.0,802.1 123.0,802.0 125.1,801.9 127.1,801.8 129.1,801.6 131.2,801.4 133.2,801.1 135.2,800.8 137.3,800.5 139.3,800.1 141.3,799.7 143.4,799.3 145.4,798.9 147.4,798.4 149.5,798.0 151.5,797.5 153.5,797.0 155.6,796.5 157.6,796.0 159.6,795.4 161.7,794.9 163.7,794.2 165.7,793.5 167.8,792.7 169.8,791.9 171.8,791.0 173.9,790.1 175.9,789.1 177.9,788.1 180.0,787.1 182.0,786.0 184.0,784.9 186.1,783.7 188.1,782.5 190.1,781.4 192.2,780.2 194.2,778.9 196.2,777.7 198.3,776.5 200.3,775.2 202.3,773.9 204.4,772.5 206.4,771.0 208.4,769.5 210.5,768.0 212.5,766.4 214.5,764.7 216.6,763.0 218.6,761.3 220.6,759.5 222.7,757.8 224.7,755.9 226.7,754.1 228.8,752.2 230.8,750.4 232.8,748.5 234.9,746.6 236.9,744.7 238.9,742.6 241.0,740.4 243.0,738.0 245.0,735.6 247.0,733.2 249.1,730.8 251.1,728.4 253.1,726.2 255.2,724.3 257.2,722.5 259.2,721.1 261.3,719.9 263.3,718.8 265.3,717.8 267.4,716.8 269.4,716.0 271.4,715.2 273.5,714.5 275.5,713.8 277.5,713.2 279.6,712.6 281.6,712.2 283.6,712.2 285.7,712.7 287.7,713.6 289.7,714.8 291.8,716.3 293.8,718.0 295.8,719.7 297.9,721.4 299.9,723.4 301.9,725.8 304.0,728.6 306.0,731.7 308.0,735.0 310.1,738.4 312.1,741.7 314.1,744.8 316.2,747.7 318.2,750.2 320.2,752.6 322.3,755.1 324.3,757.5 326.3,759.8 328.4,762.0 330.4,763.9 332.4,765.6 334.5,767.1 336.5,768.1 338.5,769.0 340.6,769.7 342.6,770.4 344.6,770.9 346.7,771.3 348.7,771.5 350.7,771.6 352.8,771.5 354.8,771.2 356.8,770.7 358.9,770.1 360.9,769.5 362.9,768.8 365.0,768.1 367.0,767.4 369.0,766.7 371.1,765.9 373.1,765.0 375.1,764.1 377.2,763.0 379.2,761.9 381.2,760.6 383.3,759.1 385.3,757.5 387.3,755.7 389.4,753.7 391.4,751.6 393.4,749.3 395.5,746.8 397.5,744.2 399.5,741.3 401.6,738.2 403.6,734.5 405.6,730.5 407.7,726.0 409.7,721.3 411.7,716.5 413.8,711.5 415.8,706.5 417.8,701.7 419.9,697.0 421.9,692.4 423.9,687.7 426.0,682.9 428.0,677.7 430.0,671.9 432.1,665.4 434.1,658.4 436.1,651.2 438.2,644.0 440.2,636.9 442.2,629.3 444.3,621.6 446.3,614.0 448.3,606.5 450.4,599.5 452.4,593.1 454.4,586.9 456.5,581.0 458.5,575.5 460.5,570.8 462.6,567.3 464.6,564.0 466.6,561.0 468.7,558.8 470.7,557.6 472.7,557.9 474.8,559.7 476.8,562.3 478.8,566.4 480.9,574.3 482.9,585.0 484.9,596.7 486.9,607.9 489.0,618.7 491.0,630.1 493.0,641.5 495.1,652.6 497.1,663.5 499.1,674.4 501.2,685.9 503.2,698.6 505.2,711.5 507.3,722.9 509.3,732.3 511.3,740.6 513.4,748.1 515.4,755.0 517.4,761.4 519.5,767.3 521.5,772.8 523.5,778.3 525.6,783.6 527.6,788.3 529.6,792.2 531.7,795.3 533.7,798.0 535.7,800.3 537.8,802.1 539.8,803.6 541.8,805.0 543.9,806.3 545.9,807.5 547.9,808.5 550.0,809.4 552.0,810.1 554.0,810.7 556.1,811.0 558.1,811.3 560.1,811.6 562.2,811.8 564.2,812.0 566.2,812.1 568.3,812.3 570.3,812.4 572.3,812.6 574.4,812.7 576.4,812.9 578.4,813.0 580.5,813.1 582.5,813.3 584.5,813.4 586.6,813.5 588.6,813.6 590.6,813.7 592.7,813.8 594.7,813.9 596.7,814.0 598.8,814.1 600.8,814.1 602.8,814.2 604.9,814.3 606.9,814.3" fill="none" stroke="#ff0000" stroke-width="2.8" stroke-linejoin="round" stroke-linecap="round" />
<polyline points="121.0,804.2 123.0,804.1 125.1,804.1 127.1,803.9 129.1,803.8 131.2,803.6 133.2,803.3 135.2,803.0 137.3,802.7 139.3,802.4 141.3,802.1 143.4,801.7 145.4,801.3 147.4,800.9 149.5,800.5 151.5,800.0 153.5,799.6 155.6,799.1 157.6,798.7 159.6,798.2 161.7,797.7 163.7,797.1 165.7,796.5 167.8,795.8 169.8,795.0 171.8,794.2 173.9,793.4 175.9,792.5 177.9,791.5 180.0,790.5 182.0,789.5 184.0,788.5 186.1,787.4 188.1,786.3 190.1,785.2 192.2,784.1 194.2,783.0 196.2,781.8 198.3,780.7 200.3,779.5 202.3,778.3 204.4,777.0 206.4,775.6 208.4,774.2 210.5,772.8 212.5,771.3 214.5,769.8 216.6,768.2 218.6,766.6 220.6,765.0 222.7,763.4 224.7,761.7 226.7,760.1 228.8,758.4 230.8,756.6 232.8,754.9 234.9,753.2 236.9,751.5 238.9,749.6 241.0,747.5 243.0,745.3 245.0,743.1 247.0,740.8 249.1,738.6 251.1,736.5 253.1,734.5 255.2,732.7 257.2,731.1 259.2,729.9 261.3,728.9 263.3,728.0 265.3,727.2 267.4,726.5 269.4,725.9 271.4,725.3 273.5,724.9 275.5,724.4 277.5,724.0 279.6,723.7 281.6,723.6 283.6,723.9 285.7,724.6 287.7,725.8 289.7,727.4 291.8,729.2 293.8,731.2 295.8,733.3 297.9,735.4 299.9,737.7 301.9,740.5 304.0,743.8 306.0,747.4 308.0,751.2 310.1,755.2 312.1,759.1 314.1,762.8 316.2,766.4 318.2,769.6 320.2,772.8 322.3,775.9 324.3,779.1 326.3,782.2 328.4,785.2 330.4,788.0 332.4,790.7 334.5,793.1 336.5,795.3 338.5,797.3 340.6,799.2 342.6,801.1 344.6,802.9 346.7,804.5 348.7,806.1 350.7,807.4 352.8,808.6 354.8,809.6 356.8,810.4 358.9,811.0 360.9,811.6 362.9,812.1 365.0,812.6 367.0,813.0 369.0,813.3 371.1,813.7 373.1,814.0 375.1,814.3 377.2,814.5 379.2,814.8 381.2,815.0 383.3,815.3 385.3,815.5 387.3,815.6 389.4,815.8 391.4,815.9 393.4,815.9 395.5,816.0 397.5,816.1 399.5,816.1 401.6,816.2 403.6,816.2 405.6,816.3 407.7,816.3 409.7,816.4 411.7,816.4 413.8,816.4 415.8,816.5 417.8,816.5 419.9,816.5 421.9,816.5 423.9,816.6 426.0,816.6 428.0,816.6 430.0,816.6 432.1,816.6 434.1,816.6 436.1,816.6 438.2,816.6 440.2,816.6 442.2,816.7 444.3,816.7 446.3,816.7 448.3,816.7 450.4,816.7 452.4,816.7 454.4,816.7 456.5,816.7 458.5,816.7 460.5,816.7 462.6,816.7 464.6,816.7 466.6,816.8 468.7,816.8 470.7,816.8 472.7,816.8 474.8,816.8 476.8,816.8 478.8,816.8 480.9,816.8 482.9,816.8 484.9,816.8 486.9,816.8 489.0,816.8 491.0,816.8 493.0,816.8 495.1,816.8 497.1,816.9 499.1,816.9 501.2,816.9 503.2,816.9 505.2,816.9 507.3,816.9 509.3,816.9 511.3,816.9 513.4,816.9 515.4,816.9 517.4,816.9 519.5,816.9 521.5,816.9 523.5,816.9 525.6,816.9 527.6,816.9 529.6,816.9 531.7,816.9 533.7,816.9 535.7,816.9 537.8,816.9 539.8,816.9 541.8,816.9 543.9,817.0 545.9,817.0 547.9,817.0 550.0,817.0 552.0,817.0 554.0,817.0 556.1,817.0 558.1,817.0 560.1,817.0 562.2,817.0 564.2,817.0 566.2,817.0 568.3,817.0 570.3,817.0 572.3,817.0 574.4,817.0 576.4,817.0 578.4,817.0 580.5,817.0 582.5,817.0 584.5,817.0 586.6,817.0 588.6,817.0 590.6,817.0 592.7,817.0 594.7,817.0 596.7,817.0 598.8,817.0 600.8,817.0 602.8,817.0 604.9,817.0 606.9,817.0" fill="none" stroke="#0000a0" stroke-width="2.8" stroke-linejoin="round" stroke-linecap="round" />
</g>
<rect x="121" y="506.3" width="485.9" height="357.5" fill="none" stroke="#000" stroke-width="1.8"/>
<path d="M121 863.8v7M121 506.3v7M151.37 863.8v4M151.37 506.3v4M181.74 863.8v7M181.74 506.3v7M212.11 863.8v4M212.11 506.3v4M242.47 863.8v7M242.47 506.3v7M272.84 863.8v4M272.84 506.3v4M303.21 863.8v7M303.21 506.3v7M333.58 863.8v4M333.58 506.3v4M363.95 863.8v7M363.95 506.3v7M394.32 863.8v4M394.32 506.3v4M424.69 863.8v7M424.69 506.3v7M455.06 863.8v4M455.06 506.3v4M485.42 863.8v7M485.42 506.3v7M515.79 863.8v4M515.79 506.3v4M546.16 863.8v7M546.16 506.3v7M576.53 863.8v4M576.53 506.3v4M606.9 863.8v7M606.9 506.3v7M121 829.75h-7M606.9 829.75h-7M121 761.65h-7M606.9 761.65h-7M121 693.55h-7M606.9 693.55h-7M121 625.45h-7M606.9 625.45h-7M121 557.35h-7M606.9 557.35h-7M121 863.8h-4M606.9 863.8h-4M121 795.7h-4M606.9 795.7h-4M121 727.6h-4M606.9 727.6h-4M121 659.5h-4M606.9 659.5h-4M121 591.4h-4M606.9 591.4h-4M121 523.3h-4M606.9 523.3h-4" fill="none" stroke="#000" stroke-width="1.8"/>
<text transform="translate(121,893.3) scale(0.955,1)" text-anchor="middle" font-size="22.9">868</text>
<text transform="translate(181.74,893.3) scale(0.955,1)" text-anchor="middle" font-size="22.9">866</text>
<text transform="translate(242.47,893.3) scale(0.955,1)" text-anchor="middle" font-size="22.9">864</text>
<text transform="translate(303.21,893.3) scale(0.955,1)" text-anchor="middle" font-size="22.9">862</text>
<text transform="translate(363.95,893.3) scale(0.955,1)" text-anchor="middle" font-size="22.9">860</text>
<text transform="translate(424.69,893.3) scale(0.955,1)" text-anchor="middle" font-size="22.9">858</text>
<text transform="translate(485.42,893.3) scale(0.955,1)" text-anchor="middle" font-size="22.9">856</text>
<text transform="translate(546.16,893.3) scale(0.955,1)" text-anchor="middle" font-size="22.9">854</text>
<text transform="translate(606.9,893.3) scale(0.955,1)" text-anchor="middle" font-size="22.9">852</text>
<text transform="translate(108.5,838.75) scale(0.985,1)" text-anchor="end" font-size="22.9">8,8x10<tspan font-size="13.00" dy="-11">4</tspan></text>
<text transform="translate(108.5,770.65) scale(0.985,1)" text-anchor="end" font-size="22.9">9,2x10<tspan font-size="13.00" dy="-11">4</tspan></text>
<text transform="translate(108.5,702.55) scale(0.985,1)" text-anchor="end" font-size="22.9">9,6x10<tspan font-size="13.00" dy="-11">4</tspan></text>
<text transform="translate(108.5,634.45) scale(0.985,1)" text-anchor="end" font-size="22.9">1,0x10<tspan font-size="13.00" dy="-11">5</tspan></text>
<text transform="translate(108.5,566.35) scale(0.985,1)" text-anchor="end" font-size="22.9">1,0x10<tspan font-size="13.00" dy="-11">5</tspan></text>
<text x="361.95" y="932.8" text-anchor="middle" font-size="29">Binding Energy (eV)</text>
<text transform="translate(25,685.95) rotate(-90)" text-anchor="middle" font-size="29">Intensity (a.u.)</text>

<clipPath id="clipe"><rect x="752.1" y="504.7" width="486.3" height="358"/></clipPath>
<g clip-path="url(#clipe)">
<polyline points="752.1,799.0 754.5,799.0 757.0,799.1 759.4,799.1 761.9,799.2 764.3,799.2 766.8,799.2 769.2,799.3 771.6,799.3 774.1,799.3 776.5,799.4 779.0,799.4 781.4,799.5 783.9,799.5 786.3,799.5 788.8,799.6 791.2,799.6 793.6,799.7 796.1,799.7 798.5,799.8 801.0,799.8 803.4,799.8 805.9,799.9 808.3,799.9 810.7,800.0 813.2,800.0 815.6,800.1 818.1,800.1 820.5,800.1 823.0,800.2 825.4,800.2 827.9,800.3 830.3,800.3 832.7,800.4 835.2,800.4 837.6,800.5 840.1,800.5 842.5,800.5 845.0,800.6 847.4,800.6 849.8,800.7 852.3,800.7 854.7,800.8 857.2,800.8 859.6,800.9 862.1,800.9 864.5,801.0 867.0,801.0 869.4,801.1 871.8,801.1 874.3,801.2 876.7,801.2 879.2,801.3 881.6,801.3 884.1,801.4 886.5,801.5 888.9,801.5 891.4,801.6 893.8,801.6 896.3,801.7 898.7,801.8 901.2,801.8 903.6,801.9 906.1,801.9 908.5,802.0 910.9,802.1 913.4,802.1 915.8,802.2 918.3,802.3 920.7,802.4 923.2,802.4 925.6,802.5 928.0,802.6 930.5,802.7 932.9,802.7 935.4,802.8 937.8,802.9 940.3,803.0 942.7,803.1 945.2,803.2 947.6,803.3 950.0,803.4 952.5,803.5 954.9,803.6 957.4,803.7 959.8,803.8 962.3,803.9 964.7,804.0 967.1,804.1 969.6,804.3 972.0,804.4 974.5,804.6 976.9,804.7 979.4,804.9 981.8,805.1 984.3,805.3 986.7,805.5 989.1,805.7 991.6,805.9 994.0,806.1 996.5,806.4 998.9,806.6 1001.4,806.8 1003.8,807.0 1006.2,807.2 1008.7,807.5 1011.1,807.7 1013.6,808.0 1016.0,808.2 1018.5,808.5 1020.9,808.8 1023.4,809.1 1025.8,809.3 1028.2,809.6 1030.7,809.9 1033.1,810.1 1035.6,810.4 1038.0,810.6 1040.5,810.8 1042.9,811.0 1045.3,811.2 1047.8,811.4 1050.2,811.6 1052.7,811.8 1055.1,812.0 1057.6,812.2 1060.0,812.4 1062.5,812.6 1064.9,812.8 1067.3,812.9 1069.8,813.1 1072.2,813.2 1074.7,813.4 1077.1,813.5 1079.6,813.6 1082.0,813.7 1084.4,813.8 1086.9,813.9 1089.3,814.0 1091.8,814.1 1094.2,814.2 1096.7,814.3 1099.1,814.4 1101.6,814.4 1104.0,814.5 1106.4,814.6 1108.9,814.7 1111.3,814.7 1113.8,814.8 1116.2,814.9 1118.7,814.9 1121.1,815.0 1123.5,815.0 1126.0,815.1 1128.4,815.1 1130.9,815.2 1133.3,815.2 1135.8,815.2 1138.2,815.3 1140.7,815.3 1143.1,815.3 1145.5,815.4 1148.0,815.4 1150.4,815.4 1152.9,815.5 1155.3,815.5 1157.8,815.5 1160.2,815.5 1162.6,815.6 1165.1,815.6 1167.5,815.6 1170.0,815.6 1172.4,815.7 1174.9,815.7 1177.3,815.7 1179.8,815.7 1182.2,815.7 1184.6,815.8 1187.1,815.8 1189.5,815.8 1192.0,815.8 1194.4,815.8 1196.9,815.9 1199.3,815.9 1201.7,815.9 1204.2,815.9 1206.6,815.9 1209.1,815.9 1211.5,815.9 1214.0,815.9 1216.4,816.0 1218.9,816.0 1221.3,816.0 1223.7,816.0 1226.2,816.0 1228.6,816.0 1231.1,816.0 1233.5,816.0 1236.0,816.0 1238.4,816.0" fill="none" stroke="#00ff00" stroke-width="2.8" stroke-linejoin="round" stroke-linecap="round" />
<polyline points="752.1,797.9 754.5,797.8 757.0,797.7 759.4,797.5 761.9,797.4 764.3,797.2 766.8,797.1 769.2,796.9 771.6,796.7 774.1,796.4 776.5,796.2 779.0,795.9 781.4,795.6 783.9,795.2 786.3,794.9 788.8,794.5 791.2,794.1 793.6,793.6 796.1,793.1 798.5,792.6 801.0,792.1 803.4,791.5 805.9,790.9 808.3,790.3 810.7,789.7 813.2,789.0 815.6,788.3 818.1,787.5 820.5,786.8 823.0,786.0 825.4,785.2 827.9,784.3 830.3,783.5 832.7,782.6 835.2,781.7 837.6,780.8 840.1,779.9 842.5,779.0 845.0,778.1 847.4,777.2 849.8,776.3 852.3,775.4 854.7,774.6 857.2,773.7 859.6,772.9 862.1,772.1 864.5,771.4 867.0,770.7 869.4,770.0 871.8,769.4 874.3,768.8 876.7,768.2 879.2,767.8 881.6,767.4 884.1,767.0 886.5,766.7 888.9,766.5 891.4,766.3 893.8,766.2 896.3,766.2 898.7,766.3 901.2,766.4 903.6,766.6 906.1,766.8 908.5,767.1 910.9,767.5 913.4,768.0 915.8,768.5 918.3,769.1 920.7,769.7 923.2,770.4 925.6,771.1 928.0,771.9 930.5,772.8 932.9,773.6 935.4,774.5 937.8,775.5 940.3,776.4 942.7,777.4 945.2,778.4 947.6,779.5 950.0,780.5 952.5,781.5 954.9,782.6 957.4,783.6 959.8,784.7 962.3,785.7 964.7,786.8 967.1,787.8 969.6,788.8 972.0,789.8 974.5,790.9 976.9,791.8 979.4,792.8 981.8,793.8 984.3,794.7 986.7,795.6 989.1,796.5 991.6,797.4 994.0,798.2 996.5,799.0 998.9,799.8 1001.4,800.6 1003.8,801.3 1006.2,802.0 1008.7,802.6 1011.1,803.3 1013.6,803.9 1016.0,804.6 1018.5,805.2 1020.9,805.7 1023.4,806.3 1025.8,806.8 1028.2,807.3 1030.7,807.8 1033.1,808.3 1035.6,808.7 1038.0,809.1 1040.5,809.5 1042.9,809.9 1045.3,810.2 1047.8,810.5 1050.2,810.8 1052.7,811.1 1055.1,811.4 1057.6,811.7 1060.0,811.9 1062.5,812.2 1064.9,812.4 1067.3,812.6 1069.8,812.8 1072.2,813.0 1074.7,813.2 1077.1,813.3 1079.6,813.5 1082.0,813.6 1084.4,813.7 1086.9,813.8 1089.3,813.9 1091.8,814.0 1094.2,814.1 1096.7,814.2 1099.1,814.3 1101.6,814.4 1104.0,814.5 1106.4,814.6 1108.9,814.6 1111.3,814.7 1113.8,814.8 1116.2,814.8 1118.7,814.9 1121.1,815.0 1123.5,815.0 1126.0,815.1 1128.4,815.1 1130.9,815.2 1133.3,815.2 1135.8,815.2 1138.2,815.3 1140.7,815.3 1143.1,815.3 1145.5,815.4 1148.0,815.4 1150.4,815.4 1152.9,815.5 1155.3,815.5 1157.8,815.5 1160.2,815.5 1162.6,815.6 1165.1,815.6 1167.5,815.6 1170.0,815.6 1172.4,815.7 1174.9,815.7 1177.3,815.7 1179.8,815.7 1182.2,815.7 1184.6,815.8 1187.1,815.8 1189.5,815.8 1192.0,815.8 1194.4,815.8 1196.9,815.9 1199.3,815.9 1201.7,815.9 1204.2,815.9 1206.6,815.9 1209.1,815.9 1211.5,815.9 1214.0,815.9 1216.4,816.0 1218.9,816.0 1221.3,816.0 1223.7,816.0 1226.2,816.0 1228.6,816.0 1231.1,816.0 1233.5,816.0 1236.0,816.0 1238.4,816.0" fill="none" stroke="#007a00" stroke-width="2.8" stroke-linejoin="round" stroke-linecap="round" />
<polyline points="752.1,796.9 759.0,794.1 766.0,795.4 772.9,795.8 779.9,796.4 786.8,792.5 793.8,789.4 800.7,787.2 807.7,789.2 814.6,789.4 821.6,783.6 828.5,777.2 835.5,774.9 842.4,778.1 849.4,771.2 856.3,762.8 863.3,763.2 870.2,756.7 877.1,754.2 884.1,750.7 891.0,746.2 898.0,745.1 904.9,738.9 911.9,732.1 918.8,728.2 925.8,721.6 932.7,706.6 939.7,700.0 946.6,687.0 953.6,676.4 960.5,659.1 967.5,646.8 974.4,630.1 981.4,612.6 988.3,594.3 995.2,580.6 1002.2,565.4 1009.1,553.4 1016.1,548.3 1023.0,538.4 1030.0,540.3 1036.9,538.2 1043.9,533.5 1050.8,544.0 1057.8,548.0 1064.7,560.6 1071.7,572.5 1078.6,581.1 1085.6,600.8 1092.5,617.4 1099.5,638.1 1106.4,651.0 1113.4,674.3 1120.3,688.1 1127.2,708.0 1134.2,723.8 1141.1,745.5 1148.1,757.6 1155.0,774.7 1162.0,780.4 1168.9,788.8 1175.9,794.8 1182.8,795.7 1189.8,800.4 1196.7,806.7 1203.7,804.8 1210.6,808.3 1217.6,809.5 1224.5,812.2 1231.5,810.3 1238.4,810.6" fill="none" stroke="#000" stroke-width="2.8" stroke-linejoin="round" stroke-linecap="round" />
<polyline points="752.1,800.0 754.5,799.6 757.0,799.2 759.4,798.9 761.9,798.6 764.3,798.3 766.8,798.1 769.2,797.8 771.6,797.7 774.1,797.5 776.5,797.4 779.0,797.2 781.4,797.1 783.9,797.1 786.3,797.0 788.8,796.9 791.2,796.9 793.6,796.9 796.1,796.8 798.5,796.8 801.0,796.8 803.4,796.8 805.9,796.8 808.3,796.8 810.7,796.8 813.2,796.8 815.6,796.8 818.1,796.7 820.5,796.7 823.0,796.6 825.4,796.6 827.9,796.5 830.3,796.4 832.7,796.3 835.2,796.2 837.6,796.0 840.1,795.8 842.5,795.6 845.0,795.4 847.4,795.1 849.8,794.8 852.3,794.5 854.7,794.1 857.2,793.7 859.6,793.3 862.1,792.8 864.5,792.3 867.0,791.7 869.4,791.1 871.8,790.4 874.3,789.7 876.7,788.9 879.2,788.1 881.6,787.3 884.1,786.3 886.5,785.3 888.9,784.2 891.4,783.0 893.8,781.7 896.3,780.3 898.7,778.8 901.2,777.1 903.6,775.3 906.1,773.4 908.5,771.2 910.9,769.0 913.4,766.5 915.8,763.8 918.3,761.0 920.7,757.9 923.2,754.6 925.6,751.1 928.0,747.5 930.5,743.6 932.9,739.5 935.4,735.3 937.8,730.9 940.3,726.3 942.7,721.6 945.2,716.7 947.6,711.6 950.0,706.3 952.5,700.8 954.9,695.0 957.4,689.1 959.8,682.9 962.3,676.6 964.7,670.2 967.1,663.7 969.6,657.2 972.0,650.5 974.5,643.8 976.9,637.0 979.4,630.3 981.8,623.6 984.3,617.0 986.7,610.5 989.1,604.2 991.6,598.0 994.0,592.1 996.5,586.4 998.9,581.0 1001.4,575.9 1003.8,571.1 1006.2,566.5 1008.7,562.3 1011.1,558.4 1013.6,554.8 1016.0,551.5 1018.5,548.5 1020.9,545.9 1023.4,543.7 1025.8,541.8 1028.2,540.3 1030.7,539.1 1033.1,538.4 1035.6,538.0 1038.0,538.0 1040.5,538.4 1042.9,539.2 1045.3,540.3 1047.8,541.8 1050.2,543.7 1052.7,545.8 1055.1,548.3 1057.6,551.1 1060.0,554.2 1062.5,557.5 1064.9,561.2 1067.3,565.1 1069.8,569.2 1072.2,573.6 1074.7,578.3 1077.1,583.1 1079.6,588.2 1082.0,593.5 1084.4,599.0 1086.9,604.6 1089.3,610.4 1091.8,616.3 1094.2,622.4 1096.7,628.6 1099.1,634.9 1101.6,641.2 1104.0,647.6 1106.4,654.1 1108.9,660.6 1111.3,667.1 1113.8,673.6 1116.2,680.1 1118.7,686.6 1121.1,693.0 1123.5,699.3 1126.0,705.6 1128.4,711.8 1130.9,717.9 1133.3,723.8 1135.8,729.6 1138.2,735.3 1140.7,740.8 1143.1,746.1 1145.5,751.1 1148.0,756.0 1150.4,760.6 1152.9,765.0 1155.3,769.1 1157.8,772.9 1160.2,776.5 1162.6,779.7 1165.1,782.6 1167.5,785.3 1170.0,787.7 1172.4,790.0 1174.9,791.9 1177.3,793.8 1179.8,795.4 1182.2,796.9 1184.6,798.2 1187.1,799.4 1189.5,800.5 1192.0,801.5 1194.4,802.5 1196.9,803.4 1199.3,804.3 1201.7,805.1 1204.2,805.9 1206.6,806.7 1209.1,807.4 1211.5,808.1 1214.0,808.7 1216.4,809.3 1218.9,809.8 1221.3,810.3 1223.7,810.6 1226.2,810.9 1228.6,811.1 1231.1,811.2 1233.5,811.2 1236.0,811.1 1238.4,811.0" fill="none" stroke="#ff0000" stroke-width="2.8" stroke-linejoin="round" stroke-linecap="round" />
<polyline points="752.1,798.9 754.5,798.3 757.0,797.8 759.4,797.3 761.9,796.8 764.3,796.4 766.8,795.9 769.2,795.5 771.6,795.0 774.1,794.6 776.5,794.1 779.0,793.7 781.4,793.2 783.9,792.8 786.3,792.3 788.8,791.8 791.2,791.3 793.6,790.8 796.1,790.3 798.5,789.7 801.0,789.1 803.4,788.5 805.9,787.9 808.3,787.2 810.7,786.5 813.2,785.7 815.6,785.0 818.1,784.2 820.5,783.3 823.0,782.4 825.4,781.5 827.9,780.5 830.3,779.6 832.7,778.5 835.2,777.5 837.6,776.4 840.1,775.2 842.5,774.1 845.0,772.9 847.4,771.7 849.8,770.5 852.3,769.2 854.7,767.9 857.2,766.6 859.6,765.3 862.1,764.0 864.5,762.7 867.0,761.3 869.4,760.0 871.8,758.7 874.3,757.3 876.7,756.0 879.2,754.6 881.6,753.3 884.1,751.9 886.5,750.6 888.9,749.2 891.4,747.8 893.8,746.3 896.3,744.8 898.7,743.3 901.2,741.7 903.6,740.0 906.1,738.2 908.5,736.4 910.9,734.4 913.4,732.3 915.8,730.1 918.3,727.8 920.7,725.3 923.2,722.6 925.6,719.8 928.0,716.8 930.5,713.7 932.9,710.4 935.4,707.0 937.8,703.5 940.3,699.8 942.7,695.9 945.2,692.0 947.6,687.8 950.0,683.4 952.5,678.9 954.9,674.1 957.4,669.1 959.8,663.9 962.3,658.5 964.7,653.0 967.1,647.4 969.6,641.7 972.0,635.9 974.5,630.1 976.9,624.1 979.4,618.2 981.8,612.3 984.3,606.4 986.7,600.6 989.1,595.0 991.6,589.5 994.0,584.2 996.5,579.1 998.9,574.3 1001.4,569.7 1003.8,565.3 1006.2,561.3 1008.7,557.5 1011.1,553.9 1013.6,550.7 1016.0,547.8 1018.5,545.2 1020.9,542.9 1023.4,540.9 1025.8,539.3 1028.2,538.0 1030.7,537.1 1033.1,536.5" fill="none" stroke="#0000ff" stroke-width="2.8" stroke-linejoin="round" stroke-linecap="round" />
</g>
<rect x="752.1" y="504.7" width="486.3" height="358" fill="none" stroke="#000" stroke-width="1.8"/>
<path d="M752.1 862.7v7M752.1 504.7v7M786.84 862.7v4M786.84 504.7v4M821.57 862.7v7M821.57 504.7v7M856.31 862.7v4M856.31 504.7v4M891.04 862.7v7M891.04 504.7v7M925.78 862.7v4M925.78 504.7v4M960.51 862.7v7M960.51 504.7v7M995.25 862.7v4M995.25 504.7v4M1029.99 862.7v7M1029.99 504.7v7M1064.72 862.7v4M1064.72 504.7v4M1099.46 862.7v7M1099.46 504.7v7M1134.19 862.7v4M1134.19 504.7v4M1168.93 862.7v7M1168.93 504.7v7M1203.66 862.7v4M1203.66 504.7v4M1238.4 862.7v7M1238.4 504.7v7M752.1 862.7h-7M1238.4 862.7h-7M752.1 783h-7M1238.4 783h-7M752.1 703.3h-7M1238.4 703.3h-7M752.1 623.6h-7M1238.4 623.6h-7M752.1 543.9h-7M1238.4 543.9h-7M752.1 822.85h-4M1238.4 822.85h-4M752.1 743.15h-4M1238.4 743.15h-4M752.1 663.45h-4M1238.4 663.45h-4M752.1 583.75h-4M1238.4 583.75h-4M752.1 504.05h-4M1238.4 504.05h-4" fill="none" stroke="#000" stroke-width="1.8"/>
<text transform="translate(752.1,892.2) scale(0.955,1)" text-anchor="middle" font-size="22.9">535</text>
<text transform="translate(821.57,892.2) scale(0.955,1)" text-anchor="middle" font-size="22.9">534</text>
<text transform="translate(891.04,892.2) scale(0.955,1)" text-anchor="middle" font-size="22.9">533</text>
<text transform="translate(960.51,892.2) scale(0.955,1)" text-anchor="middle" font-size="22.9">532</text>
<text transform="translate(1029.99,892.2) scale(0.955,1)" text-anchor="middle" font-size="22.9">531</text>
<text transform="translate(1099.46,892.2) scale(0.955,1)" text-anchor="middle" font-size="22.9">530</text>
<text transform="translate(1168.93,892.2) scale(0.955,1)" text-anchor="middle" font-size="22.9">529</text>
<text transform="translate(1238.4,892.2) scale(0.955,1)" text-anchor="middle" font-size="22.9">528</text>
<text transform="translate(739.6,871.7) scale(0.985,1)" text-anchor="end" font-size="22.9">0,0</text>
<text transform="translate(739.6,792) scale(0.985,1)" text-anchor="end" font-size="22.9">2,0x10<tspan font-size="13.00" dy="-11">4</tspan></text>
<text transform="translate(739.6,712.3) scale(0.985,1)" text-anchor="end" font-size="22.9">4,0x10<tspan font-size="13.00" dy="-11">4</tspan></text>
<text transform="translate(739.6,632.6) scale(0.985,1)" text-anchor="end" font-size="22.9">6,0x10<tspan font-size="13.00" dy="-11">4</tspan></text>
<text transform="translate(739.6,552.9) scale(0.985,1)" text-anchor="end" font-size="22.9">8,0x10<tspan font-size="13.00" dy="-11">4</tspan></text>
<text x="993.25" y="931.7" text-anchor="middle" font-size="29">Binding Energy (eV)</text>
<text transform="translate(655.5,684.2) rotate(-90)" text-anchor="middle" font-size="29">Intensity (a.u.)</text>

<clipPath id="clipf"><rect x="1372.6" y="504.7" width="486.9" height="358"/></clipPath>
<g clip-path="url(#clipf)">
<polyline points="1372.6,862.2 1373.4,862.2 1374.2,849.2 1375.0,858.7 1375.8,862.2 1376.7,862.2 1377.5,861.1 1378.3,862.2 1379.1,859.3 1379.9,860.1 1380.7,858.4 1381.5,853.3 1382.3,854.0 1383.1,858.7 1384.0,854.7 1384.8,861.9 1385.6,854.0 1386.4,862.2 1387.2,856.2 1388.0,861.7 1388.8,852.4 1389.6,852.6 1390.5,856.0 1391.3,856.6 1392.1,848.9 1392.9,848.2 1393.7,856.3 1394.5,851.2 1395.3,859.3 1396.1,855.8 1396.9,851.0 1397.8,854.6 1398.6,857.1 1399.4,852.6 1400.2,849.8 1401.0,850.5 1401.8,851.4 1402.6,849.3 1403.4,854.0 1404.2,851.4 1405.1,836.6 1405.9,858.5 1406.7,848.6 1407.5,849.2 1408.3,850.8 1409.1,855.7 1409.9,847.6 1410.7,850.5 1411.6,847.5 1412.4,840.7 1413.2,849.1 1414.0,849.4 1414.8,843.7 1415.6,843.9 1416.4,837.3 1417.2,836.4 1418.0,840.2 1418.9,843.5 1419.7,838.2 1420.5,840.4 1421.3,842.2 1422.1,837.8 1422.9,838.7 1423.7,841.2 1424.5,829.4 1425.3,836.3 1426.2,824.6 1427.0,832.7 1427.8,830.6 1428.6,817.4 1429.4,822.9 1430.2,825.7 1431.0,822.9 1431.8,823.6 1432.7,818.1 1433.5,822.4 1434.3,814.6 1435.1,816.0 1435.9,814.1 1436.7,819.2 1437.5,806.5 1438.3,809.2 1439.1,813.9 1440.0,804.9 1440.8,800.9 1441.6,805.3 1442.4,801.3 1443.2,804.0 1444.0,795.2 1444.8,797.9 1445.6,798.0 1446.4,797.7 1447.3,787.4 1448.1,795.7 1448.9,784.6 1449.7,780.3 1450.5,780.7 1451.3,783.3 1452.1,779.6 1452.9,780.9 1453.8,779.3 1454.6,776.8 1455.4,772.7 1456.2,779.2 1457.0,761.3 1457.8,761.4 1458.6,764.6 1459.4,759.8 1460.2,752.9 1461.1,758.3 1461.9,756.7 1462.7,748.3 1463.5,759.9 1464.3,760.0 1465.1,758.2 1465.9,749.7 1466.7,750.9 1467.5,744.4 1468.4,748.4 1469.2,743.6 1470.0,746.8 1470.8,742.7 1471.6,747.2 1472.4,745.5 1473.2,746.3 1474.0,734.3 1474.8,732.8 1475.7,741.3 1476.5,737.1 1477.3,740.8 1478.1,740.4 1478.9,740.0 1479.7,743.2 1480.5,742.2 1481.3,742.4 1482.2,737.5 1483.0,748.8 1483.8,738.2 1484.6,748.2 1485.4,746.1 1486.2,751.1 1487.0,747.9 1487.8,749.5 1488.6,750.5 1489.5,748.6 1490.3,750.7 1491.1,754.0 1491.9,755.7 1492.7,753.9 1493.5,769.0 1494.3,757.4 1495.1,761.8 1495.9,774.6 1496.8,763.9 1497.6,771.4 1498.4,772.8 1499.2,771.1 1500.0,767.9 1500.8,769.2 1501.6,777.1 1502.4,771.0 1503.3,771.8 1504.1,782.6 1504.9,781.0 1505.7,788.6 1506.5,787.2 1507.3,784.7 1508.1,787.5 1508.9,790.7 1509.7,797.1 1510.6,805.2 1511.4,795.7 1512.2,796.0 1513.0,799.6 1513.8,798.3 1514.6,802.3 1515.4,802.8 1516.2,802.8 1517.0,801.2 1517.9,806.6 1518.7,811.3 1519.5,809.6 1520.3,817.1 1521.1,816.6 1521.9,814.0 1522.7,823.2 1523.5,813.5 1524.4,824.3 1525.2,828.7 1526.0,821.9 1526.8,824.0 1527.6,829.7 1528.4,833.1 1529.2,830.5 1530.0,830.9 1530.8,834.8 1531.7,833.2 1532.5,828.2 1533.3,833.1 1534.1,834.4 1534.9,829.0 1535.7,837.0 1536.5,832.7 1537.3,831.3 1538.1,830.1 1539.0,832.4 1539.8,830.2 1540.6,841.1 1541.4,840.9 1542.2,841.5 1543.0,841.3 1543.8,838.7 1544.6,838.4 1545.4,827.7 1546.3,835.6 1547.1,832.0 1547.9,832.4 1548.7,828.5 1549.5,838.5 1550.3,833.7 1551.1,827.0 1551.9,834.9 1552.8,832.5 1553.6,828.7 1554.4,831.7 1555.2,829.9 1556.0,824.0 1556.8,827.2 1557.6,835.6 1558.4,835.2 1559.2,835.2 1560.1,829.7 1560.9,832.4 1561.7,835.5 1562.5,838.5 1563.3,832.8 1564.1,832.5 1564.9,841.8 1565.7,838.1 1566.5,836.8 1567.4,836.0 1568.2,836.9 1569.0,846.5 1569.8,844.6 1570.6,839.7 1571.4,837.0 1572.2,849.3 1573.0,849.5 1573.9,848.6 1574.7,847.8 1575.5,837.5 1576.3,840.5 1577.1,848.5 1577.9,845.6 1578.7,848.3 1579.5,845.7 1580.3,845.7 1581.2,851.0 1582.0,847.7 1582.8,849.7 1583.6,851.1 1584.4,851.4 1585.2,855.5 1586.0,856.7 1586.8,846.0 1587.6,850.7 1588.5,849.5 1589.3,855.3 1590.1,848.2 1590.9,855.8 1591.7,855.6 1592.5,855.3 1593.3,849.2 1594.1,852.3 1595.0,848.9 1595.8,854.8 1596.6,857.1 1597.4,847.2 1598.2,849.9 1599.0,852.5 1599.8,850.9 1600.6,858.9 1601.4,852.2 1602.3,853.6 1603.1,844.1 1603.9,858.3 1604.7,852.5 1605.5,854.7 1606.3,851.6 1607.1,842.4 1607.9,844.2 1608.7,845.0 1609.6,851.6 1610.4,847.2 1611.2,850.5 1612.0,849.4 1612.8,848.7 1613.6,850.8 1614.4,847.3 1615.2,839.3 1616.0,842.4 1616.9,851.0 1617.7,839.3 1618.5,848.2 1619.3,848.4 1620.1,838.4 1620.9,841.1 1621.7,833.0 1622.5,840.5 1623.4,833.0 1624.2,829.5 1625.0,831.7 1625.8,829.9 1626.6,827.7 1627.4,829.1 1628.2,825.8 1629.0,821.9 1629.8,826.3 1630.7,830.0 1631.5,818.3 1632.3,812.8 1633.1,809.1 1633.9,812.8 1634.7,806.6 1635.5,804.8 1636.3,793.7 1637.1,794.1 1638.0,790.8 1638.8,796.0 1639.6,787.9 1640.4,775.7 1641.2,784.4 1642.0,783.8 1642.8,781.3 1643.6,761.8 1644.5,770.7 1645.3,770.5 1646.1,766.9 1646.9,755.7 1647.7,751.9 1648.5,754.8 1649.3,752.6 1650.1,753.5 1650.9,751.0 1651.8,744.7 1652.6,746.2 1653.4,735.7 1654.2,734.1 1655.0,733.6 1655.8,732.8 1656.6,725.8 1657.4,728.6 1658.2,721.8 1659.1,712.7 1659.9,713.0 1660.7,705.2 1661.5,700.9 1662.3,694.9 1663.1,701.9 1663.9,695.6 1664.7,681.0 1665.6,687.2 1666.4,681.8 1667.2,671.7 1668.0,670.2 1668.8,672.1 1669.6,659.2 1670.4,654.6 1671.2,652.2 1672.0,638.4 1672.9,632.3 1673.7,626.5 1674.5,626.7 1675.3,625.5 1676.1,613.6 1676.9,606.6 1677.7,608.2 1678.5,601.3 1679.3,600.7 1680.2,593.5 1681.0,589.1 1681.8,585.6 1682.6,582.4 1683.4,575.0 1684.2,571.1 1685.0,579.0 1685.8,582.4 1686.7,572.1 1687.5,558.9 1688.3,563.7 1689.1,566.6 1689.9,554.0 1690.7,557.3 1691.5,556.7 1692.3,554.0 1693.1,553.8 1694.0,561.0 1694.8,555.1 1695.6,556.2 1696.4,564.3 1697.2,554.7 1698.0,551.2 1698.8,562.5 1699.6,569.2 1700.4,563.4 1701.3,565.4 1702.1,560.9 1702.9,564.4 1703.7,576.3 1704.5,577.9 1705.3,578.0 1706.1,576.0 1706.9,577.0 1707.7,580.9 1708.6,583.9 1709.4,595.0 1710.2,593.5 1711.0,599.0 1711.8,608.3 1712.6,613.0 1713.4,613.9 1714.2,622.3 1715.1,625.7 1715.9,623.4 1716.7,636.3 1717.5,640.6 1718.3,646.6 1719.1,654.8 1719.9,657.4 1720.7,670.4 1721.5,670.7 1722.4,677.9 1723.2,684.5 1724.0,688.3 1724.8,697.4 1725.6,703.6 1726.4,708.8 1727.2,709.1 1728.0,713.9 1728.8,720.5 1729.7,728.4 1730.5,726.1 1731.3,735.4 1732.1,739.2 1732.9,746.0 1733.7,749.7 1734.5,761.3 1735.3,764.2 1736.2,770.5 1737.0,766.8 1737.8,771.5 1738.6,777.2 1739.4,788.6 1740.2,792.2 1741.0,786.3 1741.8,794.5 1742.6,803.6 1743.5,793.8 1744.3,799.9 1745.1,808.2 1745.9,808.8 1746.7,804.3 1747.5,816.7 1748.3,816.7 1749.1,817.7 1749.9,811.9 1750.8,818.2 1751.6,825.9 1752.4,824.4 1753.2,827.3 1754.0,824.6 1754.8,833.2 1755.6,827.7 1756.4,833.7 1757.3,832.6 1758.1,828.7 1758.9,839.8 1759.7,830.0 1760.5,833.2 1761.3,837.8 1762.1,832.7 1762.9,832.1 1763.7,839.8 1764.6,839.5 1765.4,841.0 1766.2,845.0 1767.0,852.9 1767.8,842.9 1768.6,855.2 1769.4,847.0 1770.2,846.4 1771.0,836.6 1771.9,841.9 1772.7,849.7 1773.5,851.4 1774.3,846.4 1775.1,851.4 1775.9,854.3 1776.7,848.9 1777.5,845.1 1778.3,848.1 1779.2,851.2 1780.0,853.9 1780.8,856.2 1781.6,849.7 1782.4,853.8 1783.2,852.9 1784.0,854.4 1784.8,858.9 1785.7,859.9 1786.5,853.0 1787.3,852.7 1788.1,852.5 1788.9,853.3 1789.7,853.9 1790.5,855.1 1791.3,853.8 1792.1,851.7 1793.0,851.4 1793.8,856.4 1794.6,862.2 1795.4,858.6 1796.2,859.0 1797.0,857.8 1797.8,855.9 1798.6,862.2 1799.4,855.3 1800.3,843.9 1801.1,851.7 1801.9,857.4 1802.7,852.7 1803.5,853.3 1804.3,853.3 1805.1,851.6 1805.9,857.5 1806.8,850.2 1807.6,862.2 1808.4,845.9 1809.2,851.5 1810.0,857.4 1810.8,858.9 1811.6,855.9 1812.4,858.5 1813.2,858.2 1814.1,858.1 1814.9,860.0 1815.7,858.8 1816.5,857.6 1817.3,857.5 1818.1,861.8 1818.9,857.7" fill="none" stroke="#000" stroke-width="2.8" stroke-linejoin="round" stroke-linecap="round" />
<polyline points="1372.6,862.5 1373.4,862.5 1374.2,862.5 1375.0,862.5 1375.8,862.5 1376.7,862.4 1377.5,862.4 1378.3,862.4 1379.1,862.3 1379.9,862.3 1380.7,862.2 1381.5,862.2 1382.3,862.1 1383.1,862.1 1384.0,862.0 1384.8,861.9 1385.6,861.8 1386.4,861.7 1387.2,861.6 1388.0,861.4 1388.8,861.3 1389.6,861.1 1390.5,860.9 1391.3,860.7 1392.1,860.5 1392.9,860.3 1393.7,860.0 1394.5,859.7 1395.3,859.4 1396.1,859.1 1396.9,858.8 1397.8,858.4 1398.6,858.0 1399.4,857.6 1400.2,857.2 1401.0,856.8 1401.8,856.3 1402.6,855.9 1403.4,855.4 1404.2,855.0 1405.1,854.5 1405.9,854.0 1406.7,853.6 1407.5,853.1 1408.3,852.7 1409.1,852.3 1409.9,851.8 1410.7,851.5 1411.6,851.1 1412.4,850.8 1413.2,850.5 1414.0,850.3 1414.8,850.1 1415.6,849.9 1416.4,849.8 1417.2,849.7 1418.0,849.7 1418.9,849.7 1419.7,849.8 1420.5,850.0 1421.3,850.1 1422.1,850.4 1422.9,850.6 1423.7,850.9 1424.5,851.3 1425.3,851.6 1426.2,852.0 1427.0,852.4 1427.8,852.9 1428.6,853.3 1429.4,853.8 1430.2,854.2 1431.0,854.7 1431.8,855.2 1432.7,855.6 1433.5,856.1 1434.3,856.5 1435.1,857.0 1435.9,857.4 1436.7,857.8 1437.5,858.2 1438.3,858.5 1439.1,858.9 1440.0,859.2 1440.8,859.5 1441.6,859.8 1442.4,860.1 1443.2,860.4 1444.0,860.6 1444.8,860.8 1445.6,861.0 1446.4,861.2 1447.3,861.3 1448.1,861.5 1448.9,861.6 1449.7,861.7 1450.5,861.8 1451.3,861.9 1452.1,862.0 1452.9,862.1 1453.8,862.2 1454.6,862.2 1455.4,862.3 1456.2,862.3 1457.0,862.3 1457.8,862.4 1458.6,862.4 1459.4,862.4 1460.2,862.5 1461.1,862.5 1461.9,862.5 1462.7,862.5 1463.5,862.5 1464.3,862.5 1465.1,862.5 1465.9,862.6 1466.7,862.6 1467.5,862.6 1468.4,862.6 1469.2,862.6 1470.0,862.6 1470.8,862.6 1471.6,862.6 1472.4,862.6 1473.2,862.6 1474.0,862.6 1474.8,862.6 1475.7,862.6 1476.5,862.6 1477.3,862.6 1478.1,862.6 1478.9,862.6 1479.7,862.6 1480.5,862.6 1481.3,862.6 1482.2,862.6 1483.0,862.6 1483.8,862.6 1484.6,862.6 1485.4,862.6 1486.2,862.6 1487.0,862.6 1487.8,862.6 1488.6,862.6 1489.5,862.6 1490.3,862.6 1491.1,862.6 1491.9,862.6 1492.7,862.6 1493.5,862.6 1494.3,862.6 1495.1,862.6 1495.9,862.6 1496.8,862.6 1497.6,862.7 1498.4,862.7 1499.2,862.7 1500.0,862.7 1500.8,862.7 1501.6,862.7 1502.4,862.7 1503.3,862.7 1504.1,862.7 1504.9,862.7 1505.7,862.7 1506.5,862.7 1507.3,862.7 1508.1,862.7 1508.9,862.7 1509.7,862.7 1510.6,862.7 1511.4,862.7 1512.2,862.7 1513.0,862.7 1513.8,862.7 1514.6,862.7 1515.4,862.7 1516.2,862.7 1517.0,862.7 1517.9,862.7 1518.7,862.7 1519.5,862.7 1520.3,862.7 1521.1,862.7 1521.9,862.7 1522.7,862.7 1523.5,862.7 1524.4,862.7 1525.2,862.7 1526.0,862.7 1526.8,862.7 1527.6,862.7 1528.4,862.7 1529.2,862.7 1530.0,862.7 1530.8,862.7 1531.7,862.7 1532.5,862.7 1533.3,862.7 1534.1,862.7 1534.9,862.7 1535.7,862.7 1536.5,862.7 1537.3,862.7 1538.1,862.7 1539.0,862.7 1539.8,862.7 1540.6,862.7 1541.4,862.7 1542.2,862.7 1543.0,862.7 1543.8,862.7 1544.6,862.7 1545.4,862.7 1546.3,862.7 1547.1,862.7 1547.9,862.7 1548.7,862.7 1549.5,862.7 1550.3,862.7 1551.1,862.7 1551.9,862.7 1552.8,862.7 1553.6,862.7 1554.4,862.7 1555.2,862.7 1556.0,862.7 1556.8,862.7 1557.6,862.7 1558.4,862.7 1559.2,862.7 1560.1,862.7 1560.9,862.7 1561.7,862.7 1562.5,862.7 1563.3,862.7 1564.1,862.7 1564.9,862.7 1565.7,862.7 1566.5,862.7 1567.4,862.7 1568.2,862.7 1569.0,862.7 1569.8,862.7 1570.6,862.7 1571.4,862.7 1572.2,862.7 1573.0,862.7 1573.9,862.7 1574.7,862.7 1575.5,862.7 1576.3,862.7 1577.1,862.7 1577.9,862.7 1578.7,862.7 1579.5,862.7 1580.3,862.7 1581.2,862.7 1582.0,862.7 1582.8,862.7 1583.6,862.7 1584.4,862.7 1585.2,862.7 1586.0,862.7 1586.8,862.7 1587.6,862.7 1588.5,862.7 1589.3,862.7 1590.1,862.7 1590.9,862.7 1591.7,862.7 1592.5,862.7 1593.3,862.7 1594.1,862.7 1595.0,862.7 1595.8,862.7 1596.6,862.7 1597.4,862.7 1598.2,862.7 1599.0,862.7 1599.8,862.7 1600.6,862.7 1601.4,862.7 1602.3,862.7 1603.1,862.7 1603.9,862.7 1604.7,862.7 1605.5,862.7 1606.3,862.7 1607.1,862.7 1607.9,862.7 1608.7,862.7 1609.6,862.7 1610.4,862.7 1611.2,862.7 1612.0,862.7 1612.8,862.7 1613.6,862.7 1614.4,862.7 1615.2,862.7 1616.0,862.7 1616.9,862.7 1617.7,862.7 1618.5,862.7 1619.3,862.7 1620.1,862.7 1620.9,862.7 1621.7,862.7 1622.5,862.7 1623.4,862.7 1624.2,862.7 1625.0,862.7 1625.8,862.7 1626.6,862.7 1627.4,862.7 1628.2,862.7 1629.0,862.7 1629.8,862.7 1630.7,862.7 1631.5,862.7 1632.3,862.7 1633.1,862.7 1633.9,862.7 1634.7,862.7 1635.5,862.7 1636.3,862.7 1637.1,862.7 1638.0,862.7 1638.8,862.7 1639.6,862.7 1640.4,862.7 1641.2,862.7 1642.0,862.7 1642.8,862.7 1643.6,862.7 1644.5,862.7 1645.3,862.7 1646.1,862.7 1646.9,862.7 1647.7,862.7 1648.5,862.7 1649.3,862.7 1650.1,862.7 1650.9,862.7 1651.8,862.7 1652.6,862.7 1653.4,862.7 1654.2,862.7 1655.0,862.7 1655.8,862.7 1656.6,862.7 1657.4,862.7 1658.2,862.7 1659.1,862.7 1659.9,862.7 1660.7,862.7 1661.5,862.7 1662.3,862.7 1663.1,862.7 1663.9,862.7 1664.7,862.7 1665.6,862.7 1666.4,862.7 1667.2,862.7 1668.0,862.7 1668.8,862.7 1669.6,862.7 1670.4,862.7 1671.2,862.7 1672.0,862.7 1672.9,862.7 1673.7,862.7 1674.5,862.7 1675.3,862.7 1676.1,862.7 1676.9,862.7 1677.7,862.7 1678.5,862.7 1679.3,862.7 1680.2,862.7 1681.0,862.7 1681.8,862.7 1682.6,862.7 1683.4,862.7 1684.2,862.7 1685.0,862.7 1685.8,862.7 1686.7,862.7 1687.5,862.7 1688.3,862.7 1689.1,862.7 1689.9,862.7 1690.7,862.7 1691.5,862.7 1692.3,862.7 1693.1,862.7 1694.0,862.7 1694.8,862.7 1695.6,862.7 1696.4,862.7 1697.2,862.7 1698.0,862.7 1698.8,862.7 1699.6,862.7 1700.4,862.7 1701.3,862.7 1702.1,862.7 1702.9,862.7 1703.7,862.7 1704.5,862.7 1705.3,862.7 1706.1,862.7 1706.9,862.7 1707.7,862.7 1708.6,862.7 1709.4,862.7 1710.2,862.7 1711.0,862.7 1711.8,862.7 1712.6,862.7 1713.4,862.7 1714.2,862.7 1715.1,862.7 1715.9,862.7 1716.7,862.7 1717.5,862.7 1718.3,862.7 1719.1,862.7 1719.9,862.7 1720.7,862.7 1721.5,862.7 1722.4,862.7 1723.2,862.7 1724.0,862.7 1724.8,862.7 1725.6,862.7 1726.4,862.7 1727.2,862.7 1728.0,862.7 1728.8,862.7 1729.7,862.7 1730.5,862.7 1731.3,862.7 1732.1,862.7 1732.9,862.7 1733.7,862.7 1734.5,862.7 1735.3,862.7 1736.2,862.7 1737.0,862.7 1737.8,862.7 1738.6,862.7 1739.4,862.7 1740.2,862.7 1741.0,862.7 1741.8,862.7 1742.6,862.7 1743.5,862.7 1744.3,862.7 1745.1,862.7 1745.9,862.7 1746.7,862.7 1747.5,862.7 1748.3,862.7 1749.1,862.7 1749.9,862.7 1750.8,862.7 1751.6,862.7 1752.4,862.7 1753.2,862.7 1754.0,862.7 1754.8,862.7 1755.6,862.7 1756.4,862.7 1757.3,862.7 1758.1,862.7 1758.9,862.7 1759.7,862.7 1760.5,862.7 1761.3,862.7 1762.1,862.7 1762.9,862.7 1763.7,862.7 1764.6,862.7 1765.4,862.7 1766.2,862.7 1767.0,862.7 1767.8,862.7 1768.6,862.7 1769.4,862.7 1770.2,862.7 1771.0,862.7 1771.9,862.7 1772.7,862.7 1773.5,862.7 1774.3,862.7 1775.1,862.7 1775.9,862.7 1776.7,862.7 1777.5,862.7 1778.3,862.7 1779.2,862.7 1780.0,862.7 1780.8,862.7 1781.6,862.7 1782.4,862.7 1783.2,862.7 1784.0,862.7 1784.8,862.7 1785.7,862.7 1786.5,862.7 1787.3,862.7 1788.1,862.7 1788.9,862.7 1789.7,862.7 1790.5,862.7 1791.3,862.7 1792.1,862.7 1793.0,862.7 1793.8,862.7 1794.6,862.7 1795.4,862.7 1796.2,862.7 1797.0,862.7 1797.8,862.7 1798.6,862.7 1799.4,862.7 1800.3,862.7 1801.1,862.7 1801.9,862.7 1802.7,862.7 1803.5,862.7 1804.3,862.7 1805.1,862.7 1805.9,862.7 1806.8,862.7 1807.6,862.7 1808.4,862.7 1809.2,862.7 1810.0,862.7 1810.8,862.7 1811.6,862.7 1812.4,862.7 1813.2,862.7 1814.1,862.7 1814.9,862.7 1815.7,862.7 1816.5,862.7 1817.3,862.7 1818.1,862.7 1818.9,862.7" fill="none" stroke="#108010" stroke-width="2.9" stroke-linejoin="round" stroke-linecap="round" />
<polyline points="1372.6,862.4 1373.4,862.4 1374.2,862.4 1375.0,862.4 1375.8,862.4 1376.7,862.4 1377.5,862.4 1378.3,862.4 1379.1,862.4 1379.9,862.4 1380.7,862.4 1381.5,862.4 1382.3,862.4 1383.1,862.3 1384.0,862.3 1384.8,862.3 1385.6,862.3 1386.4,862.3 1387.2,862.3 1388.0,862.3 1388.8,862.3 1389.6,862.3 1390.5,862.2 1391.3,862.2 1392.1,862.2 1392.9,862.2 1393.7,862.2 1394.5,862.2 1395.3,862.1 1396.1,862.1 1396.9,862.1 1397.8,862.1 1398.6,862.0 1399.4,862.0 1400.2,861.9 1401.0,861.9 1401.8,861.8 1402.6,861.8 1403.4,861.7 1404.2,861.6 1405.1,861.5 1405.9,861.4 1406.7,861.3 1407.5,861.1 1408.3,860.9 1409.1,860.7 1409.9,860.5 1410.7,860.3 1411.6,860.0 1412.4,859.7 1413.2,859.4 1414.0,859.0 1414.8,858.5 1415.6,858.0 1416.4,857.5 1417.2,856.9 1418.0,856.3 1418.9,855.5 1419.7,854.7 1420.5,853.9 1421.3,852.9 1422.1,851.9 1422.9,850.8 1423.7,849.7 1424.5,848.4 1425.3,847.1 1426.2,845.7 1427.0,844.2 1427.8,842.6 1428.6,840.9 1429.4,839.2 1430.2,837.4 1431.0,835.6 1431.8,833.7 1432.7,831.7 1433.5,829.8 1434.3,827.8 1435.1,825.8 1435.9,823.8 1436.7,821.8 1437.5,819.9 1438.3,818.0 1439.1,816.2 1440.0,814.4 1440.8,812.7 1441.6,811.2 1442.4,809.8 1443.2,808.5 1444.0,807.3 1444.8,806.4 1445.6,805.6 1446.4,805.0 1447.3,804.5 1448.1,804.3 1448.9,804.3 1449.7,804.5 1450.5,804.9 1451.3,805.4 1452.1,806.2 1452.9,807.1 1453.8,808.2 1454.6,809.5 1455.4,810.9 1456.2,812.4 1457.0,814.1 1457.8,815.8 1458.6,817.6 1459.4,819.5 1460.2,821.4 1461.1,823.4 1461.9,825.4 1462.7,827.4 1463.5,829.4 1464.3,831.4 1465.1,833.3 1465.9,835.2 1466.7,837.1 1467.5,838.9 1468.4,840.6 1469.2,842.3 1470.0,843.8 1470.8,845.4 1471.6,846.8 1472.4,848.2 1473.2,849.4 1474.0,850.6 1474.8,851.7 1475.7,852.8 1476.5,853.7 1477.3,854.6 1478.1,855.4 1478.9,856.1 1479.7,856.8 1480.5,857.4 1481.3,857.9 1482.2,858.4 1483.0,858.9 1483.8,859.3 1484.6,859.6 1485.4,860.0 1486.2,860.2 1487.0,860.5 1487.8,860.7 1488.6,860.9 1489.5,861.1 1490.3,861.2 1491.1,861.4 1491.9,861.5 1492.7,861.6 1493.5,861.7 1494.3,861.7 1495.1,861.8 1495.9,861.9 1496.8,861.9 1497.6,862.0 1498.4,862.0 1499.2,862.0 1500.0,862.1 1500.8,862.1 1501.6,862.1 1502.4,862.2 1503.3,862.2 1504.1,862.2 1504.9,862.2 1505.7,862.2 1506.5,862.2 1507.3,862.3 1508.1,862.3 1508.9,862.3 1509.7,862.3 1510.6,862.3 1511.4,862.3 1512.2,862.3 1513.0,862.3 1513.8,862.3 1514.6,862.4 1515.4,862.4 1516.2,862.4 1517.0,862.4 1517.9,862.4 1518.7,862.4 1519.5,862.4 1520.3,862.4 1521.1,862.4 1521.9,862.4 1522.7,862.4 1523.5,862.4 1524.4,862.4 1525.2,862.4 1526.0,862.4 1526.8,862.4 1527.6,862.5 1528.4,862.5 1529.2,862.5 1530.0,862.5 1530.8,862.5 1531.7,862.5 1532.5,862.5 1533.3,862.5 1534.1,862.5 1534.9,862.5 1535.7,862.5 1536.5,862.5 1537.3,862.5 1538.1,862.5 1539.0,862.5 1539.8,862.5 1540.6,862.5 1541.4,862.5 1542.2,862.5 1543.0,862.5 1543.8,862.5 1544.6,862.5 1545.4,862.5 1546.3,862.5 1547.1,862.5 1547.9,862.5 1548.7,862.5 1549.5,862.5 1550.3,862.5 1551.1,862.6 1551.9,862.6 1552.8,862.6 1553.6,862.6 1554.4,862.6 1555.2,862.6 1556.0,862.6 1556.8,862.6 1557.6,862.6 1558.4,862.6 1559.2,862.6 1560.1,862.6 1560.9,862.6 1561.7,862.6 1562.5,862.6 1563.3,862.6 1564.1,862.6 1564.9,862.6 1565.7,862.6 1566.5,862.6 1567.4,862.6 1568.2,862.6 1569.0,862.6 1569.8,862.6 1570.6,862.6 1571.4,862.6 1572.2,862.6 1573.0,862.6 1573.9,862.6 1574.7,862.6 1575.5,862.6 1576.3,862.6 1577.1,862.6 1577.9,862.6 1578.7,862.6 1579.5,862.6 1580.3,862.6 1581.2,862.6 1582.0,862.6 1582.8,862.6 1583.6,862.6 1584.4,862.6 1585.2,862.6 1586.0,862.6 1586.8,862.6 1587.6,862.6 1588.5,862.6 1589.3,862.6 1590.1,862.6 1590.9,862.6 1591.7,862.6 1592.5,862.6 1593.3,862.6 1594.1,862.6 1595.0,862.6 1595.8,862.6 1596.6,862.6 1597.4,862.6 1598.2,862.6 1599.0,862.6 1599.8,862.6 1600.6,862.6 1601.4,862.6 1602.3,862.6 1603.1,862.6 1603.9,862.6 1604.7,862.6 1605.5,862.6 1606.3,862.6 1607.1,862.6 1607.9,862.6 1608.7,862.6 1609.6,862.6 1610.4,862.6 1611.2,862.6 1612.0,862.6 1612.8,862.6 1613.6,862.6 1614.4,862.6 1615.2,862.6 1616.0,862.6 1616.9,862.6 1617.7,862.6 1618.5,862.6 1619.3,862.6 1620.1,862.6 1620.9,862.6 1621.7,862.6 1622.5,862.6 1623.4,862.6 1624.2,862.6 1625.0,862.6 1625.8,862.6 1626.6,862.6 1627.4,862.6 1628.2,862.7 1629.0,862.7 1629.8,862.7 1630.7,862.7 1631.5,862.7 1632.3,862.7 1633.1,862.7 1633.9,862.7 1634.7,862.7 1635.5,862.7 1636.3,862.7 1637.1,862.7 1638.0,862.7 1638.8,862.7 1639.6,862.7 1640.4,862.7 1641.2,862.7 1642.0,862.7 1642.8,862.7 1643.6,862.7 1644.5,862.7 1645.3,862.7 1646.1,862.7 1646.9,862.7 1647.7,862.7 1648.5,862.7 1649.3,862.7 1650.1,862.7 1650.9,862.7 1651.8,862.7 1652.6,862.7 1653.4,862.7 1654.2,862.7 1655.0,862.7 1655.8,862.7 1656.6,862.7 1657.4,862.7 1658.2,862.7 1659.1,862.7 1659.9,862.7 1660.7,862.7 1661.5,862.7 1662.3,862.7 1663.1,862.7 1663.9,862.7 1664.7,862.7 1665.6,862.7 1666.4,862.7 1667.2,862.7 1668.0,862.7 1668.8,862.7 1669.6,862.7 1670.4,862.7 1671.2,862.7 1672.0,862.7 1672.9,862.7 1673.7,862.7 1674.5,862.7 1675.3,862.7 1676.1,862.7 1676.9,862.7 1677.7,862.7 1678.5,862.7 1679.3,862.7 1680.2,862.7 1681.0,862.7 1681.8,862.7 1682.6,862.7 1683.4,862.7 1684.2,862.7 1685.0,862.7 1685.8,862.7 1686.7,862.7 1687.5,862.7 1688.3,862.7 1689.1,862.7 1689.9,862.7 1690.7,862.7 1691.5,862.7 1692.3,862.7 1693.1,862.7 1694.0,862.7 1694.8,862.7 1695.6,862.7 1696.4,862.7 1697.2,862.7 1698.0,862.7 1698.8,862.7 1699.6,862.7 1700.4,862.7 1701.3,862.7 1702.1,862.7 1702.9,862.7 1703.7,862.7 1704.5,862.7 1705.3,862.7 1706.1,862.7 1706.9,862.7 1707.7,862.7 1708.6,862.7 1709.4,862.7 1710.2,862.7 1711.0,862.7 1711.8,862.7 1712.6,862.7 1713.4,862.7 1714.2,862.7 1715.1,862.7 1715.9,862.7 1716.7,862.7 1717.5,862.7 1718.3,862.7 1719.1,862.7 1719.9,862.7 1720.7,862.7 1721.5,862.7 1722.4,862.7 1723.2,862.7 1724.0,862.7 1724.8,862.7 1725.6,862.7 1726.4,862.7 1727.2,862.7 1728.0,862.7 1728.8,862.7 1729.7,862.7 1730.5,862.7 1731.3,862.7 1732.1,862.7 1732.9,862.7 1733.7,862.7 1734.5,862.7 1735.3,862.7 1736.2,862.7 1737.0,862.7 1737.8,862.7 1738.6,862.7 1739.4,862.7 1740.2,862.7 1741.0,862.7 1741.8,862.7 1742.6,862.7 1743.5,862.7 1744.3,862.7 1745.1,862.7 1745.9,862.7 1746.7,862.7 1747.5,862.7 1748.3,862.7 1749.1,862.7 1749.9,862.7 1750.8,862.7 1751.6,862.7 1752.4,862.7 1753.2,862.7 1754.0,862.7 1754.8,862.7 1755.6,862.7 1756.4,862.7 1757.3,862.7 1758.1,862.7 1758.9,862.7 1759.7,862.7 1760.5,862.7 1761.3,862.7 1762.1,862.7 1762.9,862.7 1763.7,862.7 1764.6,862.7 1765.4,862.7 1766.2,862.7 1767.0,862.7 1767.8,862.7 1768.6,862.7 1769.4,862.7 1770.2,862.7 1771.0,862.7 1771.9,862.7 1772.7,862.7 1773.5,862.7 1774.3,862.7 1775.1,862.7 1775.9,862.7 1776.7,862.7 1777.5,862.7 1778.3,862.7 1779.2,862.7 1780.0,862.7 1780.8,862.7 1781.6,862.7 1782.4,862.7 1783.2,862.7 1784.0,862.7 1784.8,862.7 1785.7,862.7 1786.5,862.7 1787.3,862.7 1788.1,862.7 1788.9,862.7 1789.7,862.7 1790.5,862.7 1791.3,862.7 1792.1,862.7 1793.0,862.7 1793.8,862.7 1794.6,862.7 1795.4,862.7 1796.2,862.7 1797.0,862.7 1797.8,862.7 1798.6,862.7 1799.4,862.7 1800.3,862.7 1801.1,862.7 1801.9,862.7 1802.7,862.7 1803.5,862.7 1804.3,862.7 1805.1,862.7 1805.9,862.7 1806.8,862.7 1807.6,862.7 1808.4,862.7 1809.2,862.7 1810.0,862.7 1810.8,862.7 1811.6,862.7 1812.4,862.7 1813.2,862.7 1814.1,862.7 1814.9,862.7 1815.7,862.7 1816.5,862.7 1817.3,862.7 1818.1,862.7 1818.9,862.7" fill="none" stroke="#800000" stroke-width="2.9" stroke-linejoin="round" stroke-linecap="round" />
<polyline points="1372.6,862.4 1373.4,862.4 1374.2,862.4 1375.0,862.4 1375.8,862.4 1376.7,862.4 1377.5,862.4 1378.3,862.4 1379.1,862.4 1379.9,862.4 1380.7,862.4 1381.5,862.4 1382.3,862.4 1383.1,862.4 1384.0,862.4 1384.8,862.4 1385.6,862.4 1386.4,862.3 1387.2,862.3 1388.0,862.3 1388.8,862.3 1389.6,862.3 1390.5,862.3 1391.3,862.3 1392.1,862.3 1392.9,862.3 1393.7,862.3 1394.5,862.3 1395.3,862.3 1396.1,862.3 1396.9,862.3 1397.8,862.2 1398.6,862.2 1399.4,862.2 1400.2,862.2 1401.0,862.2 1401.8,862.2 1402.6,862.2 1403.4,862.2 1404.2,862.2 1405.1,862.2 1405.9,862.1 1406.7,862.1 1407.5,862.1 1408.3,862.1 1409.1,862.1 1409.9,862.1 1410.7,862.1 1411.6,862.1 1412.4,862.0 1413.2,862.0 1414.0,862.0 1414.8,862.0 1415.6,862.0 1416.4,861.9 1417.2,861.9 1418.0,861.9 1418.9,861.9 1419.7,861.9 1420.5,861.8 1421.3,861.8 1422.1,861.8 1422.9,861.7 1423.7,861.7 1424.5,861.7 1425.3,861.6 1426.2,861.6 1427.0,861.5 1427.8,861.4 1428.6,861.4 1429.4,861.3 1430.2,861.2 1431.0,861.1 1431.8,861.0 1432.7,860.8 1433.5,860.7 1434.3,860.5 1435.1,860.3 1435.9,860.1 1436.7,859.8 1437.5,859.5 1438.3,859.2 1439.1,858.8 1440.0,858.4 1440.8,857.9 1441.6,857.4 1442.4,856.8 1443.2,856.1 1444.0,855.3 1444.8,854.5 1445.6,853.6 1446.4,852.5 1447.3,851.4 1448.1,850.2 1448.9,848.8 1449.7,847.3 1450.5,845.7 1451.3,844.0 1452.1,842.1 1452.9,840.1 1453.8,837.9 1454.6,835.6 1455.4,833.2 1456.2,830.6 1457.0,827.9 1457.8,825.0 1458.6,822.0 1459.4,818.9 1460.2,815.6 1461.1,812.3 1461.9,808.9 1462.7,805.4 1463.5,801.9 1464.3,798.3 1465.1,794.7 1465.9,791.1 1466.7,787.6 1467.5,784.1 1468.4,780.7 1469.2,777.4 1470.0,774.2 1470.8,771.2 1471.6,768.4 1472.4,765.7 1473.2,763.4 1474.0,761.2 1474.8,759.4 1475.7,757.9 1476.5,756.7 1477.3,755.8 1478.1,755.3 1478.9,755.1 1479.7,755.3 1480.5,755.8 1481.3,756.7 1482.2,757.9 1483.0,759.4 1483.8,761.2 1484.6,763.4 1485.4,765.7 1486.2,768.4 1487.0,771.2 1487.8,774.2 1488.6,777.4 1489.5,780.7 1490.3,784.1 1491.1,787.6 1491.9,791.1 1492.7,794.7 1493.5,798.3 1494.3,801.9 1495.1,805.4 1495.9,808.9 1496.8,812.3 1497.6,815.6 1498.4,818.9 1499.2,822.0 1500.0,825.0 1500.8,827.9 1501.6,830.6 1502.4,833.2 1503.3,835.6 1504.1,837.9 1504.9,840.1 1505.7,842.1 1506.5,844.0 1507.3,845.7 1508.1,847.3 1508.9,848.8 1509.7,850.2 1510.6,851.4 1511.4,852.5 1512.2,853.6 1513.0,854.5 1513.8,855.3 1514.6,856.1 1515.4,856.8 1516.2,857.4 1517.0,857.9 1517.9,858.4 1518.7,858.8 1519.5,859.2 1520.3,859.5 1521.1,859.8 1521.9,860.1 1522.7,860.3 1523.5,860.5 1524.4,860.7 1525.2,860.8 1526.0,861.0 1526.8,861.1 1527.6,861.2 1528.4,861.3 1529.2,861.4 1530.0,861.4 1530.8,861.5 1531.7,861.6 1532.5,861.6 1533.3,861.7 1534.1,861.7 1534.9,861.7 1535.7,861.8 1536.5,861.8 1537.3,861.8 1538.1,861.9 1539.0,861.9 1539.8,861.9 1540.6,861.9 1541.4,861.9 1542.2,862.0 1543.0,862.0 1543.8,862.0 1544.6,862.0 1545.4,862.0 1546.3,862.1 1547.1,862.1 1547.9,862.1 1548.7,862.1 1549.5,862.1 1550.3,862.1 1551.1,862.1 1551.9,862.1 1552.8,862.2 1553.6,862.2 1554.4,862.2 1555.2,862.2 1556.0,862.2 1556.8,862.2 1557.6,862.2 1558.4,862.2 1559.2,862.2 1560.1,862.2 1560.9,862.3 1561.7,862.3 1562.5,862.3 1563.3,862.3 1564.1,862.3 1564.9,862.3 1565.7,862.3 1566.5,862.3 1567.4,862.3 1568.2,862.3 1569.0,862.3 1569.8,862.3 1570.6,862.3 1571.4,862.3 1572.2,862.4 1573.0,862.4 1573.9,862.4 1574.7,862.4 1575.5,862.4 1576.3,862.4 1577.1,862.4 1577.9,862.4 1578.7,862.4 1579.5,862.4 1580.3,862.4 1581.2,862.4 1582.0,862.4 1582.8,862.4 1583.6,862.4 1584.4,862.4 1585.2,862.4 1586.0,862.4 1586.8,862.4 1587.6,862.4 1588.5,862.4 1589.3,862.4 1590.1,862.5 1590.9,862.5 1591.7,862.5 1592.5,862.5 1593.3,862.5 1594.1,862.5 1595.0,862.5 1595.8,862.5 1596.6,862.5 1597.4,862.5 1598.2,862.5 1599.0,862.5 1599.8,862.5 1600.6,862.5 1601.4,862.5 1602.3,862.5 1603.1,862.5 1603.9,862.5 1604.7,862.5 1605.5,862.5 1606.3,862.5 1607.1,862.5 1607.9,862.5 1608.7,862.5 1609.6,862.5 1610.4,862.5 1611.2,862.5 1612.0,862.5 1612.8,862.5 1613.6,862.5 1614.4,862.5 1615.2,862.5 1616.0,862.5 1616.9,862.5 1617.7,862.5 1618.5,862.5 1619.3,862.5 1620.1,862.5 1620.9,862.5 1621.7,862.5 1622.5,862.6 1623.4,862.6 1624.2,862.6 1625.0,862.6 1625.8,862.6 1626.6,862.6 1627.4,862.6 1628.2,862.6 1629.0,862.6 1629.8,862.6 1630.7,862.6 1631.5,862.6 1632.3,862.6 1633.1,862.6 1633.9,862.6 1634.7,862.6 1635.5,862.6 1636.3,862.6 1637.1,862.6 1638.0,862.6 1638.8,862.6 1639.6,862.6 1640.4,862.6 1641.2,862.6 1642.0,862.6 1642.8,862.6 1643.6,862.6 1644.5,862.6 1645.3,862.6 1646.1,862.6 1646.9,862.6 1647.7,862.6 1648.5,862.6 1649.3,862.6 1650.1,862.6 1650.9,862.6 1651.8,862.6 1652.6,862.6 1653.4,862.6 1654.2,862.6 1655.0,862.6 1655.8,862.6 1656.6,862.6 1657.4,862.6 1658.2,862.6 1659.1,862.6 1659.9,862.6 1660.7,862.6 1661.5,862.6 1662.3,862.6 1663.1,862.6 1663.9,862.6 1664.7,862.6 1665.6,862.6 1666.4,862.6 1667.2,862.6 1668.0,862.6 1668.8,862.6 1669.6,862.6 1670.4,862.6 1671.2,862.6 1672.0,862.6 1672.9,862.6 1673.7,862.6 1674.5,862.6 1675.3,862.6 1676.1,862.6 1676.9,862.6 1677.7,862.6 1678.5,862.6 1679.3,862.6 1680.2,862.6 1681.0,862.6 1681.8,862.6 1682.6,862.6 1683.4,862.6 1684.2,862.6 1685.0,862.6 1685.8,862.6 1686.7,862.6 1687.5,862.6 1688.3,862.6 1689.1,862.6 1689.9,862.6 1690.7,862.6 1691.5,862.6 1692.3,862.6 1693.1,862.6 1694.0,862.6 1694.8,862.6 1695.6,862.6 1696.4,862.6 1697.2,862.6 1698.0,862.6 1698.8,862.6 1699.6,862.6 1700.4,862.6 1701.3,862.6 1702.1,862.6 1702.9,862.6 1703.7,862.6 1704.5,862.6 1705.3,862.6 1706.1,862.6 1706.9,862.6 1707.7,862.6 1708.6,862.6 1709.4,862.6 1710.2,862.6 1711.0,862.6 1711.8,862.6 1712.6,862.6 1713.4,862.6 1714.2,862.6 1715.1,862.6 1715.9,862.6 1716.7,862.6 1717.5,862.6 1718.3,862.6 1719.1,862.6 1719.9,862.6 1720.7,862.6 1721.5,862.6 1722.4,862.6 1723.2,862.6 1724.0,862.6 1724.8,862.6 1725.6,862.6 1726.4,862.6 1727.2,862.6 1728.0,862.6 1728.8,862.7 1729.7,862.7 1730.5,862.7 1731.3,862.7 1732.1,862.7 1732.9,862.7 1733.7,862.7 1734.5,862.7 1735.3,862.7 1736.2,862.7 1737.0,862.7 1737.8,862.7 1738.6,862.7 1739.4,862.7 1740.2,862.7 1741.0,862.7 1741.8,862.7 1742.6,862.7 1743.5,862.7 1744.3,862.7 1745.1,862.7 1745.9,862.7 1746.7,862.7 1747.5,862.7 1748.3,862.7 1749.1,862.7 1749.9,862.7 1750.8,862.7 1751.6,862.7 1752.4,862.7 1753.2,862.7 1754.0,862.7 1754.8,862.7 1755.6,862.7 1756.4,862.7 1757.3,862.7 1758.1,862.7 1758.9,862.7 1759.7,862.7 1760.5,862.7 1761.3,862.7 1762.1,862.7 1762.9,862.7 1763.7,862.7 1764.6,862.7 1765.4,862.7 1766.2,862.7 1767.0,862.7 1767.8,862.7 1768.6,862.7 1769.4,862.7 1770.2,862.7 1771.0,862.7 1771.9,862.7 1772.7,862.7 1773.5,862.7 1774.3,862.7 1775.1,862.7 1775.9,862.7 1776.7,862.7 1777.5,862.7 1778.3,862.7 1779.2,862.7 1780.0,862.7 1780.8,862.7 1781.6,862.7 1782.4,862.7 1783.2,862.7 1784.0,862.7 1784.8,862.7 1785.7,862.7 1786.5,862.7 1787.3,862.7 1788.1,862.7 1788.9,862.7 1789.7,862.7 1790.5,862.7 1791.3,862.7 1792.1,862.7 1793.0,862.7 1793.8,862.7 1794.6,862.7 1795.4,862.7 1796.2,862.7 1797.0,862.7 1797.8,862.7 1798.6,862.7 1799.4,862.7 1800.3,862.7 1801.1,862.7 1801.9,862.7 1802.7,862.7 1803.5,862.7 1804.3,862.7 1805.1,862.7 1805.9,862.7 1806.8,862.7 1807.6,862.7 1808.4,862.7 1809.2,862.7 1810.0,862.7 1810.8,862.7 1811.6,862.7 1812.4,862.7 1813.2,862.7 1814.1,862.7 1814.9,862.7 1815.7,862.7 1816.5,862.7 1817.3,862.7 1818.1,862.7 1818.9,862.7" fill="none" stroke="#000090" stroke-width="2.9" stroke-linejoin="round" stroke-linecap="round" />
<polyline points="1372.6,862.6 1373.4,862.6 1374.2,862.6 1375.0,862.6 1375.8,862.6 1376.7,862.6 1377.5,862.6 1378.3,862.6 1379.1,862.6 1379.9,862.6 1380.7,862.6 1381.5,862.6 1382.3,862.6 1383.1,862.6 1384.0,862.6 1384.8,862.6 1385.6,862.6 1386.4,862.6 1387.2,862.6 1388.0,862.6 1388.8,862.6 1389.6,862.6 1390.5,862.6 1391.3,862.6 1392.1,862.6 1392.9,862.6 1393.7,862.6 1394.5,862.6 1395.3,862.6 1396.1,862.6 1396.9,862.6 1397.8,862.6 1398.6,862.6 1399.4,862.6 1400.2,862.6 1401.0,862.6 1401.8,862.6 1402.6,862.6 1403.4,862.6 1404.2,862.6 1405.1,862.6 1405.9,862.6 1406.7,862.6 1407.5,862.6 1408.3,862.6 1409.1,862.6 1409.9,862.6 1410.7,862.6 1411.6,862.6 1412.4,862.6 1413.2,862.5 1414.0,862.5 1414.8,862.5 1415.6,862.5 1416.4,862.5 1417.2,862.5 1418.0,862.5 1418.9,862.5 1419.7,862.5 1420.5,862.5 1421.3,862.5 1422.1,862.5 1422.9,862.5 1423.7,862.5 1424.5,862.5 1425.3,862.5 1426.2,862.5 1427.0,862.5 1427.8,862.5 1428.6,862.5 1429.4,862.5 1430.2,862.5 1431.0,862.5 1431.8,862.5 1432.7,862.5 1433.5,862.5 1434.3,862.5 1435.1,862.5 1435.9,862.4 1436.7,862.4 1437.5,862.4 1438.3,862.4 1439.1,862.4 1440.0,862.4 1440.8,862.4 1441.6,862.4 1442.4,862.4 1443.2,862.4 1444.0,862.4 1444.8,862.4 1445.6,862.4 1446.4,862.4 1447.3,862.4 1448.1,862.3 1448.9,862.3 1449.7,862.3 1450.5,862.3 1451.3,862.3 1452.1,862.3 1452.9,862.3 1453.8,862.3 1454.6,862.3 1455.4,862.2 1456.2,862.2 1457.0,862.2 1457.8,862.2 1458.6,862.2 1459.4,862.1 1460.2,862.1 1461.1,862.1 1461.9,862.1 1462.7,862.0 1463.5,862.0 1464.3,861.9 1465.1,861.9 1465.9,861.8 1466.7,861.7 1467.5,861.7 1468.4,861.6 1469.2,861.5 1470.0,861.3 1470.8,861.2 1471.6,861.0 1472.4,860.9 1473.2,860.7 1474.0,860.4 1474.8,860.2 1475.7,859.9 1476.5,859.6 1477.3,859.2 1478.1,858.8 1478.9,858.3 1479.7,857.8 1480.5,857.3 1481.3,856.6 1482.2,856.0 1483.0,855.2 1483.8,854.4 1484.6,853.5 1485.4,852.6 1486.2,851.5 1487.0,850.4 1487.8,849.3 1488.6,848.0 1489.5,846.7 1490.3,845.2 1491.1,843.8 1491.9,842.2 1492.7,840.6 1493.5,838.9 1494.3,837.2 1495.1,835.4 1495.9,833.6 1496.8,831.7 1497.6,829.8 1498.4,828.0 1499.2,826.1 1500.0,824.2 1500.8,822.4 1501.6,820.6 1502.4,818.9 1503.3,817.2 1504.1,815.7 1504.9,814.2 1505.7,812.9 1506.5,811.7 1507.3,810.6 1508.1,809.7 1508.9,808.9 1509.7,808.3 1510.6,807.9 1511.4,807.7 1512.2,807.7 1513.0,807.9 1513.8,808.2 1514.6,808.8 1515.4,809.5 1516.2,810.4 1517.0,811.4 1517.9,812.6 1518.7,813.9 1519.5,815.4 1520.3,816.9 1521.1,818.6 1521.9,820.3 1522.7,822.0 1523.5,823.9 1524.4,825.7 1525.2,827.6 1526.0,829.5 1526.8,831.3 1527.6,833.2 1528.4,835.0 1529.2,836.8 1530.0,838.6 1530.8,840.3 1531.7,841.9 1532.5,843.5 1533.3,845.0 1534.1,846.4 1534.9,847.7 1535.7,849.0 1536.5,850.2 1537.3,851.3 1538.1,852.4 1539.0,853.3 1539.8,854.2 1540.6,855.1 1541.4,855.8 1542.2,856.5 1543.0,857.1 1543.8,857.7 1544.6,858.2 1545.4,858.7 1546.3,859.1 1547.1,859.5 1547.9,859.8 1548.7,860.1 1549.5,860.4 1550.3,860.6 1551.1,860.8 1551.9,861.0 1552.8,861.2 1553.6,861.3 1554.4,861.4 1555.2,861.5 1556.0,861.6 1556.8,861.7 1557.6,861.8 1558.4,861.9 1559.2,861.9 1560.1,862.0 1560.9,862.0 1561.7,862.0 1562.5,862.1 1563.3,862.1 1564.1,862.1 1564.9,862.2 1565.7,862.2 1566.5,862.2 1567.4,862.2 1568.2,862.2 1569.0,862.3 1569.8,862.3 1570.6,862.3 1571.4,862.3 1572.2,862.3 1573.0,862.3 1573.9,862.3 1574.7,862.3 1575.5,862.3 1576.3,862.4 1577.1,862.4 1577.9,862.4 1578.7,862.4 1579.5,862.4 1580.3,862.4 1581.2,862.4 1582.0,862.4 1582.8,862.4 1583.6,862.4 1584.4,862.4 1585.2,862.4 1586.0,862.4 1586.8,862.4 1587.6,862.4 1588.5,862.5 1589.3,862.5 1590.1,862.5 1590.9,862.5 1591.7,862.5 1592.5,862.5 1593.3,862.5 1594.1,862.5 1595.0,862.5 1595.8,862.5 1596.6,862.5 1597.4,862.5 1598.2,862.5 1599.0,862.5 1599.8,862.5 1600.6,862.5 1601.4,862.5 1602.3,862.5 1603.1,862.5 1603.9,862.5 1604.7,862.5 1605.5,862.5 1606.3,862.5 1607.1,862.5 1607.9,862.5 1608.7,862.5 1609.6,862.5 1610.4,862.5 1611.2,862.5 1612.0,862.6 1612.8,862.6 1613.6,862.6 1614.4,862.6 1615.2,862.6 1616.0,862.6 1616.9,862.6 1617.7,862.6 1618.5,862.6 1619.3,862.6 1620.1,862.6 1620.9,862.6 1621.7,862.6 1622.5,862.6 1623.4,862.6 1624.2,862.6 1625.0,862.6 1625.8,862.6 1626.6,862.6 1627.4,862.6 1628.2,862.6 1629.0,862.6 1629.8,862.6 1630.7,862.6 1631.5,862.6 1632.3,862.6 1633.1,862.6 1633.9,862.6 1634.7,862.6 1635.5,862.6 1636.3,862.6 1637.1,862.6 1638.0,862.6 1638.8,862.6 1639.6,862.6 1640.4,862.6 1641.2,862.6 1642.0,862.6 1642.8,862.6 1643.6,862.6 1644.5,862.6 1645.3,862.6 1646.1,862.6 1646.9,862.6 1647.7,862.6 1648.5,862.6 1649.3,862.6 1650.1,862.6 1650.9,862.6 1651.8,862.6 1652.6,862.6 1653.4,862.6 1654.2,862.6 1655.0,862.6 1655.8,862.6 1656.6,862.6 1657.4,862.6 1658.2,862.6 1659.1,862.6 1659.9,862.6 1660.7,862.6 1661.5,862.6 1662.3,862.6 1663.1,862.6 1663.9,862.6 1664.7,862.6 1665.6,862.6 1666.4,862.6 1667.2,862.6 1668.0,862.6 1668.8,862.6 1669.6,862.6 1670.4,862.6 1671.2,862.6 1672.0,862.6 1672.9,862.6 1673.7,862.6 1674.5,862.6 1675.3,862.6 1676.1,862.6 1676.9,862.6 1677.7,862.6 1678.5,862.6 1679.3,862.6 1680.2,862.6 1681.0,862.6 1681.8,862.6 1682.6,862.6 1683.4,862.6 1684.2,862.6 1685.0,862.6 1685.8,862.7 1686.7,862.7 1687.5,862.7 1688.3,862.7 1689.1,862.7 1689.9,862.7 1690.7,862.7 1691.5,862.7 1692.3,862.7 1693.1,862.7 1694.0,862.7 1694.8,862.7 1695.6,862.7 1696.4,862.7 1697.2,862.7 1698.0,862.7 1698.8,862.7 1699.6,862.7 1700.4,862.7 1701.3,862.7 1702.1,862.7 1702.9,862.7 1703.7,862.7 1704.5,862.7 1705.3,862.7 1706.1,862.7 1706.9,862.7 1707.7,862.7 1708.6,862.7 1709.4,862.7 1710.2,862.7 1711.0,862.7 1711.8,862.7 1712.6,862.7 1713.4,862.7 1714.2,862.7 1715.1,862.7 1715.9,862.7 1716.7,862.7 1717.5,862.7 1718.3,862.7 1719.1,862.7 1719.9,862.7 1720.7,862.7 1721.5,862.7 1722.4,862.7 1723.2,862.7 1724.0,862.7 1724.8,862.7 1725.6,862.7 1726.4,862.7 1727.2,862.7 1728.0,862.7 1728.8,862.7 1729.7,862.7 1730.5,862.7 1731.3,862.7 1732.1,862.7 1732.9,862.7 1733.7,862.7 1734.5,862.7 1735.3,862.7 1736.2,862.7 1737.0,862.7 1737.8,862.7 1738.6,862.7 1739.4,862.7 1740.2,862.7 1741.0,862.7 1741.8,862.7 1742.6,862.7 1743.5,862.7 1744.3,862.7 1745.1,862.7 1745.9,862.7 1746.7,862.7 1747.5,862.7 1748.3,862.7 1749.1,862.7 1749.9,862.7 1750.8,862.7 1751.6,862.7 1752.4,862.7 1753.2,862.7 1754.0,862.7 1754.8,862.7 1755.6,862.7 1756.4,862.7 1757.3,862.7 1758.1,862.7 1758.9,862.7 1759.7,862.7 1760.5,862.7 1761.3,862.7 1762.1,862.7 1762.9,862.7 1763.7,862.7 1764.6,862.7 1765.4,862.7 1766.2,862.7 1767.0,862.7 1767.8,862.7 1768.6,862.7 1769.4,862.7 1770.2,862.7 1771.0,862.7 1771.9,862.7 1772.7,862.7 1773.5,862.7 1774.3,862.7 1775.1,862.7 1775.9,862.7 1776.7,862.7 1777.5,862.7 1778.3,862.7 1779.2,862.7 1780.0,862.7 1780.8,862.7 1781.6,862.7 1782.4,862.7 1783.2,862.7 1784.0,862.7 1784.8,862.7 1785.7,862.7 1786.5,862.7 1787.3,862.7 1788.1,862.7 1788.9,862.7 1789.7,862.7 1790.5,862.7 1791.3,862.7 1792.1,862.7 1793.0,862.7 1793.8,862.7 1794.6,862.7 1795.4,862.7 1796.2,862.7 1797.0,862.7 1797.8,862.7 1798.6,862.7 1799.4,862.7 1800.3,862.7 1801.1,862.7 1801.9,862.7 1802.7,862.7 1803.5,862.7 1804.3,862.7 1805.1,862.7 1805.9,862.7 1806.8,862.7 1807.6,862.7 1808.4,862.7 1809.2,862.7 1810.0,862.7 1810.8,862.7 1811.6,862.7 1812.4,862.7 1813.2,862.7 1814.1,862.7 1814.9,862.7 1815.7,862.7 1816.5,862.7 1817.3,862.7 1818.1,862.7 1818.9,862.7" fill="none" stroke="#808000" stroke-width="2.9" stroke-linejoin="round" stroke-linecap="round" />
<polyline points="1372.6,862.7 1373.4,862.7 1374.2,862.7 1375.0,862.7 1375.8,862.7 1376.7,862.7 1377.5,862.7 1378.3,862.7 1379.1,862.7 1379.9,862.7 1380.7,862.7 1381.5,862.7 1382.3,862.7 1383.1,862.7 1384.0,862.7 1384.8,862.7 1385.6,862.7 1386.4,862.7 1387.2,862.7 1388.0,862.7 1388.8,862.7 1389.6,862.7 1390.5,862.7 1391.3,862.7 1392.1,862.7 1392.9,862.7 1393.7,862.7 1394.5,862.7 1395.3,862.7 1396.1,862.7 1396.9,862.7 1397.8,862.7 1398.6,862.7 1399.4,862.7 1400.2,862.7 1401.0,862.7 1401.8,862.7 1402.6,862.7 1403.4,862.7 1404.2,862.7 1405.1,862.7 1405.9,862.7 1406.7,862.7 1407.5,862.7 1408.3,862.7 1409.1,862.7 1409.9,862.7 1410.7,862.7 1411.6,862.7 1412.4,862.7 1413.2,862.7 1414.0,862.7 1414.8,862.7 1415.6,862.7 1416.4,862.7 1417.2,862.7 1418.0,862.7 1418.9,862.7 1419.7,862.7 1420.5,862.7 1421.3,862.7 1422.1,862.7 1422.9,862.7 1423.7,862.7 1424.5,862.7 1425.3,862.7 1426.2,862.7 1427.0,862.7 1427.8,862.7 1428.6,862.7 1429.4,862.7 1430.2,862.7 1431.0,862.7 1431.8,862.7 1432.7,862.7 1433.5,862.7 1434.3,862.7 1435.1,862.7 1435.9,862.7 1436.7,862.7 1437.5,862.7 1438.3,862.7 1439.1,862.7 1440.0,862.7 1440.8,862.6 1441.6,862.6 1442.4,862.6 1443.2,862.6 1444.0,862.6 1444.8,862.6 1445.6,862.6 1446.4,862.6 1447.3,862.6 1448.1,862.6 1448.9,862.6 1449.7,862.6 1450.5,862.6 1451.3,862.6 1452.1,862.6 1452.9,862.6 1453.8,862.6 1454.6,862.6 1455.4,862.6 1456.2,862.6 1457.0,862.6 1457.8,862.6 1458.6,862.6 1459.4,862.6 1460.2,862.6 1461.1,862.6 1461.9,862.6 1462.7,862.6 1463.5,862.6 1464.3,862.6 1465.1,862.6 1465.9,862.6 1466.7,862.6 1467.5,862.6 1468.4,862.6 1469.2,862.6 1470.0,862.6 1470.8,862.6 1471.6,862.6 1472.4,862.6 1473.2,862.6 1474.0,862.6 1474.8,862.6 1475.7,862.6 1476.5,862.6 1477.3,862.6 1478.1,862.6 1478.9,862.6 1479.7,862.6 1480.5,862.6 1481.3,862.6 1482.2,862.6 1483.0,862.6 1483.8,862.6 1484.6,862.6 1485.4,862.6 1486.2,862.6 1487.0,862.6 1487.8,862.6 1488.6,862.6 1489.5,862.6 1490.3,862.6 1491.1,862.6 1491.9,862.5 1492.7,862.5 1493.5,862.5 1494.3,862.5 1495.1,862.5 1495.9,862.5 1496.8,862.5 1497.6,862.5 1498.4,862.5 1499.2,862.5 1500.0,862.5 1500.8,862.5 1501.6,862.5 1502.4,862.5 1503.3,862.5 1504.1,862.5 1504.9,862.5 1505.7,862.5 1506.5,862.4 1507.3,862.4 1508.1,862.4 1508.9,862.4 1509.7,862.4 1510.6,862.4 1511.4,862.3 1512.2,862.3 1513.0,862.3 1513.8,862.3 1514.6,862.2 1515.4,862.2 1516.2,862.1 1517.0,862.1 1517.9,862.0 1518.7,862.0 1519.5,861.9 1520.3,861.8 1521.1,861.7 1521.9,861.6 1522.7,861.4 1523.5,861.3 1524.4,861.1 1525.2,860.9 1526.0,860.7 1526.8,860.5 1527.6,860.2 1528.4,859.9 1529.2,859.6 1530.0,859.3 1530.8,858.9 1531.7,858.5 1532.5,858.0 1533.3,857.5 1534.1,857.0 1534.9,856.4 1535.7,855.8 1536.5,855.1 1537.3,854.4 1538.1,853.7 1539.0,852.9 1539.8,852.1 1540.6,851.3 1541.4,850.4 1542.2,849.5 1543.0,848.6 1543.8,847.7 1544.6,846.7 1545.4,845.8 1546.3,844.8 1547.1,843.9 1547.9,843.0 1548.7,842.1 1549.5,841.2 1550.3,840.3 1551.1,839.6 1551.9,838.8 1552.8,838.1 1553.6,837.5 1554.4,837.0 1555.2,836.5 1556.0,836.2 1556.8,835.9 1557.6,835.7 1558.4,835.6 1559.2,835.6 1560.1,835.7 1560.9,835.9 1561.7,836.2 1562.5,836.6 1563.3,837.1 1564.1,837.6 1564.9,838.3 1565.7,839.0 1566.5,839.7 1567.4,840.5 1568.2,841.4 1569.0,842.2 1569.8,843.1 1570.6,844.1 1571.4,845.0 1572.2,846.0 1573.0,846.9 1573.9,847.9 1574.7,848.8 1575.5,849.7 1576.3,850.6 1577.1,851.4 1577.9,852.3 1578.7,853.1 1579.5,853.8 1580.3,854.6 1581.2,855.3 1582.0,855.9 1582.8,856.5 1583.6,857.1 1584.4,857.6 1585.2,858.1 1586.0,858.5 1586.8,859.0 1587.6,859.3 1588.5,859.7 1589.3,860.0 1590.1,860.3 1590.9,860.5 1591.7,860.8 1592.5,861.0 1593.3,861.2 1594.1,861.3 1595.0,861.5 1595.8,861.6 1596.6,861.7 1597.4,861.8 1598.2,861.9 1599.0,862.0 1599.8,862.0 1600.6,862.1 1601.4,862.2 1602.3,862.2 1603.1,862.2 1603.9,862.3 1604.7,862.3 1605.5,862.3 1606.3,862.4 1607.1,862.4 1607.9,862.4 1608.7,862.4 1609.6,862.4 1610.4,862.4 1611.2,862.4 1612.0,862.5 1612.8,862.5 1613.6,862.5 1614.4,862.5 1615.2,862.5 1616.0,862.5 1616.9,862.5 1617.7,862.5 1618.5,862.5 1619.3,862.5 1620.1,862.5 1620.9,862.5 1621.7,862.5 1622.5,862.5 1623.4,862.5 1624.2,862.5 1625.0,862.5 1625.8,862.5 1626.6,862.6 1627.4,862.6 1628.2,862.6 1629.0,862.6 1629.8,862.6 1630.7,862.6 1631.5,862.6 1632.3,862.6 1633.1,862.6 1633.9,862.6 1634.7,862.6 1635.5,862.6 1636.3,862.6 1637.1,862.6 1638.0,862.6 1638.8,862.6 1639.6,862.6 1640.4,862.6 1641.2,862.6 1642.0,862.6 1642.8,862.6 1643.6,862.6 1644.5,862.6 1645.3,862.6 1646.1,862.6 1646.9,862.6 1647.7,862.6 1648.5,862.6 1649.3,862.6 1650.1,862.6 1650.9,862.6 1651.8,862.6 1652.6,862.6 1653.4,862.6 1654.2,862.6 1655.0,862.6 1655.8,862.6 1656.6,862.6 1657.4,862.6 1658.2,862.6 1659.1,862.6 1659.9,862.6 1660.7,862.6 1661.5,862.6 1662.3,862.6 1663.1,862.6 1663.9,862.6 1664.7,862.6 1665.6,862.6 1666.4,862.6 1667.2,862.6 1668.0,862.6 1668.8,862.6 1669.6,862.6 1670.4,862.6 1671.2,862.6 1672.0,862.6 1672.9,862.6 1673.7,862.6 1674.5,862.6 1675.3,862.6 1676.1,862.6 1676.9,862.6 1677.7,862.7 1678.5,862.7 1679.3,862.7 1680.2,862.7 1681.0,862.7 1681.8,862.7 1682.6,862.7 1683.4,862.7 1684.2,862.7 1685.0,862.7 1685.8,862.7 1686.7,862.7 1687.5,862.7 1688.3,862.7 1689.1,862.7 1689.9,862.7 1690.7,862.7 1691.5,862.7 1692.3,862.7 1693.1,862.7 1694.0,862.7 1694.8,862.7 1695.6,862.7 1696.4,862.7 1697.2,862.7 1698.0,862.7 1698.8,862.7 1699.6,862.7 1700.4,862.7 1701.3,862.7 1702.1,862.7 1702.9,862.7 1703.7,862.7 1704.5,862.7 1705.3,862.7 1706.1,862.7 1706.9,862.7 1707.7,862.7 1708.6,862.7 1709.4,862.7 1710.2,862.7 1711.0,862.7 1711.8,862.7 1712.6,862.7 1713.4,862.7 1714.2,862.7 1715.1,862.7 1715.9,862.7 1716.7,862.7 1717.5,862.7 1718.3,862.7 1719.1,862.7 1719.9,862.7 1720.7,862.7 1721.5,862.7 1722.4,862.7 1723.2,862.7 1724.0,862.7 1724.8,862.7 1725.6,862.7 1726.4,862.7 1727.2,862.7 1728.0,862.7 1728.8,862.7 1729.7,862.7 1730.5,862.7 1731.3,862.7 1732.1,862.7 1732.9,862.7 1733.7,862.7 1734.5,862.7 1735.3,862.7 1736.2,862.7 1737.0,862.7 1737.8,862.7 1738.6,862.7 1739.4,862.7 1740.2,862.7 1741.0,862.7 1741.8,862.7 1742.6,862.7 1743.5,862.7 1744.3,862.7 1745.1,862.7 1745.9,862.7 1746.7,862.7 1747.5,862.7 1748.3,862.7 1749.1,862.7 1749.9,862.7 1750.8,862.7 1751.6,862.7 1752.4,862.7 1753.2,862.7 1754.0,862.7 1754.8,862.7 1755.6,862.7 1756.4,862.7 1757.3,862.7 1758.1,862.7 1758.9,862.7 1759.7,862.7 1760.5,862.7 1761.3,862.7 1762.1,862.7 1762.9,862.7 1763.7,862.7 1764.6,862.7 1765.4,862.7 1766.2,862.7 1767.0,862.7 1767.8,862.7 1768.6,862.7 1769.4,862.7 1770.2,862.7 1771.0,862.7 1771.9,862.7 1772.7,862.7 1773.5,862.7 1774.3,862.7 1775.1,862.7 1775.9,862.7 1776.7,862.7 1777.5,862.7 1778.3,862.7 1779.2,862.7 1780.0,862.7 1780.8,862.7 1781.6,862.7 1782.4,862.7 1783.2,862.7 1784.0,862.7 1784.8,862.7 1785.7,862.7 1786.5,862.7 1787.3,862.7 1788.1,862.7 1788.9,862.7 1789.7,862.7 1790.5,862.7 1791.3,862.7 1792.1,862.7 1793.0,862.7 1793.8,862.7 1794.6,862.7 1795.4,862.7 1796.2,862.7 1797.0,862.7 1797.8,862.7 1798.6,862.7 1799.4,862.7 1800.3,862.7 1801.1,862.7 1801.9,862.7 1802.7,862.7 1803.5,862.7 1804.3,862.7 1805.1,862.7 1805.9,862.7 1806.8,862.7 1807.6,862.7 1808.4,862.7 1809.2,862.7 1810.0,862.7 1810.8,862.7 1811.6,862.7 1812.4,862.7 1813.2,862.7 1814.1,862.7 1814.9,862.7 1815.7,862.7 1816.5,862.7 1817.3,862.7 1818.1,862.7 1818.9,862.7" fill="none" stroke="#800080" stroke-width="2.9" stroke-linejoin="round" stroke-linecap="round" />
<polyline points="1372.6,862.7 1373.4,862.7 1374.2,862.7 1375.0,862.7 1375.8,862.7 1376.7,862.7 1377.5,862.7 1378.3,862.7 1379.1,862.7 1379.9,862.7 1380.7,862.7 1381.5,862.7 1382.3,862.7 1383.1,862.7 1384.0,862.7 1384.8,862.7 1385.6,862.7 1386.4,862.7 1387.2,862.7 1388.0,862.7 1388.8,862.7 1389.6,862.7 1390.5,862.7 1391.3,862.7 1392.1,862.7 1392.9,862.7 1393.7,862.7 1394.5,862.7 1395.3,862.7 1396.1,862.7 1396.9,862.7 1397.8,862.7 1398.6,862.7 1399.4,862.7 1400.2,862.7 1401.0,862.7 1401.8,862.7 1402.6,862.7 1403.4,862.7 1404.2,862.7 1405.1,862.7 1405.9,862.7 1406.7,862.7 1407.5,862.7 1408.3,862.7 1409.1,862.7 1409.9,862.7 1410.7,862.7 1411.6,862.7 1412.4,862.7 1413.2,862.7 1414.0,862.7 1414.8,862.7 1415.6,862.7 1416.4,862.7 1417.2,862.7 1418.0,862.7 1418.9,862.7 1419.7,862.7 1420.5,862.7 1421.3,862.7 1422.1,862.7 1422.9,862.7 1423.7,862.7 1424.5,862.7 1425.3,862.7 1426.2,862.7 1427.0,862.7 1427.8,862.7 1428.6,862.7 1429.4,862.7 1430.2,862.7 1431.0,862.7 1431.8,862.7 1432.7,862.7 1433.5,862.7 1434.3,862.7 1435.1,862.7 1435.9,862.7 1436.7,862.7 1437.5,862.7 1438.3,862.7 1439.1,862.7 1440.0,862.7 1440.8,862.7 1441.6,862.7 1442.4,862.7 1443.2,862.7 1444.0,862.7 1444.8,862.7 1445.6,862.7 1446.4,862.7 1447.3,862.7 1448.1,862.7 1448.9,862.7 1449.7,862.7 1450.5,862.7 1451.3,862.7 1452.1,862.7 1452.9,862.7 1453.8,862.7 1454.6,862.7 1455.4,862.7 1456.2,862.7 1457.0,862.7 1457.8,862.7 1458.6,862.7 1459.4,862.7 1460.2,862.7 1461.1,862.7 1461.9,862.7 1462.7,862.7 1463.5,862.7 1464.3,862.7 1465.1,862.7 1465.9,862.7 1466.7,862.7 1467.5,862.7 1468.4,862.6 1469.2,862.6 1470.0,862.6 1470.8,862.6 1471.6,862.6 1472.4,862.6 1473.2,862.6 1474.0,862.6 1474.8,862.6 1475.7,862.6 1476.5,862.6 1477.3,862.6 1478.1,862.6 1478.9,862.6 1479.7,862.6 1480.5,862.6 1481.3,862.6 1482.2,862.6 1483.0,862.6 1483.8,862.6 1484.6,862.6 1485.4,862.6 1486.2,862.6 1487.0,862.6 1487.8,862.6 1488.6,862.6 1489.5,862.6 1490.3,862.6 1491.1,862.6 1491.9,862.6 1492.7,862.6 1493.5,862.6 1494.3,862.6 1495.1,862.6 1495.9,862.6 1496.8,862.6 1497.6,862.6 1498.4,862.6 1499.2,862.6 1500.0,862.6 1500.8,862.6 1501.6,862.6 1502.4,862.6 1503.3,862.6 1504.1,862.6 1504.9,862.6 1505.7,862.6 1506.5,862.6 1507.3,862.6 1508.1,862.6 1508.9,862.6 1509.7,862.6 1510.6,862.6 1511.4,862.6 1512.2,862.6 1513.0,862.6 1513.8,862.6 1514.6,862.6 1515.4,862.6 1516.2,862.6 1517.0,862.6 1517.9,862.6 1518.7,862.6 1519.5,862.6 1520.3,862.6 1521.1,862.6 1521.9,862.6 1522.7,862.6 1523.5,862.6 1524.4,862.6 1525.2,862.6 1526.0,862.6 1526.8,862.6 1527.6,862.6 1528.4,862.6 1529.2,862.6 1530.0,862.6 1530.8,862.6 1531.7,862.6 1532.5,862.6 1533.3,862.6 1534.1,862.6 1534.9,862.6 1535.7,862.6 1536.5,862.6 1537.3,862.6 1538.1,862.6 1539.0,862.6 1539.8,862.6 1540.6,862.6 1541.4,862.6 1542.2,862.6 1543.0,862.6 1543.8,862.6 1544.6,862.6 1545.4,862.6 1546.3,862.5 1547.1,862.5 1547.9,862.5 1548.7,862.5 1549.5,862.5 1550.3,862.5 1551.1,862.5 1551.9,862.5 1552.8,862.5 1553.6,862.5 1554.4,862.5 1555.2,862.5 1556.0,862.5 1556.8,862.5 1557.6,862.5 1558.4,862.5 1559.2,862.5 1560.1,862.5 1560.9,862.5 1561.7,862.5 1562.5,862.5 1563.3,862.5 1564.1,862.5 1564.9,862.5 1565.7,862.5 1566.5,862.5 1567.4,862.5 1568.2,862.5 1569.0,862.5 1569.8,862.4 1570.6,862.4 1571.4,862.4 1572.2,862.4 1573.0,862.4 1573.9,862.4 1574.7,862.4 1575.5,862.4 1576.3,862.4 1577.1,862.4 1577.9,862.4 1578.7,862.4 1579.5,862.4 1580.3,862.4 1581.2,862.4 1582.0,862.4 1582.8,862.3 1583.6,862.3 1584.4,862.3 1585.2,862.3 1586.0,862.3 1586.8,862.3 1587.6,862.3 1588.5,862.3 1589.3,862.3 1590.1,862.3 1590.9,862.2 1591.7,862.2 1592.5,862.2 1593.3,862.2 1594.1,862.2 1595.0,862.2 1595.8,862.1 1596.6,862.1 1597.4,862.1 1598.2,862.1 1599.0,862.0 1599.8,862.0 1600.6,862.0 1601.4,861.9 1602.3,861.9 1603.1,861.8 1603.9,861.8 1604.7,861.7 1605.5,861.6 1606.3,861.5 1607.1,861.4 1607.9,861.3 1608.7,861.1 1609.6,861.0 1610.4,860.8 1611.2,860.5 1612.0,860.3 1612.8,860.0 1613.6,859.7 1614.4,859.4 1615.2,859.0 1616.0,858.5 1616.9,858.0 1617.7,857.4 1618.5,856.8 1619.3,856.1 1620.1,855.4 1620.9,854.5 1621.7,853.6 1622.5,852.6 1623.4,851.5 1624.2,850.4 1625.0,849.1 1625.8,847.8 1626.6,846.3 1627.4,844.8 1628.2,843.1 1629.0,841.4 1629.8,839.6 1630.7,837.7 1631.5,835.8 1632.3,833.7 1633.1,831.6 1633.9,829.5 1634.7,827.3 1635.5,825.1 1636.3,822.9 1637.1,820.7 1638.0,818.6 1638.8,816.4 1639.6,814.3 1640.4,812.3 1641.2,810.4 1642.0,808.6 1642.8,806.9 1643.6,805.3 1644.5,803.9 1645.3,802.7 1646.1,801.7 1646.9,800.9 1647.7,800.3 1648.5,799.9 1649.3,799.7 1650.1,799.8 1650.9,800.1 1651.8,800.6 1652.6,801.4 1653.4,802.3 1654.2,803.4 1655.0,804.8 1655.8,806.2 1656.6,807.9 1657.4,809.6 1658.2,811.5 1659.1,813.5 1659.9,815.6 1660.7,817.7 1661.5,819.9 1662.3,822.1 1663.1,824.3 1663.9,826.5 1664.7,828.6 1665.6,830.8 1666.4,832.9 1667.2,835.0 1668.0,836.9 1668.8,838.9 1669.6,840.7 1670.4,842.5 1671.2,844.1 1672.0,845.7 1672.9,847.2 1673.7,848.6 1674.5,849.9 1675.3,851.1 1676.1,852.2 1676.9,853.2 1677.7,854.2 1678.5,855.1 1679.3,855.8 1680.2,856.6 1681.0,857.2 1681.8,857.8 1682.6,858.3 1683.4,858.8 1684.2,859.2 1685.0,859.6 1685.8,859.9 1686.7,860.2 1687.5,860.5 1688.3,860.7 1689.1,860.9 1689.9,861.1 1690.7,861.2 1691.5,861.3 1692.3,861.5 1693.1,861.6 1694.0,861.6 1694.8,861.7 1695.6,861.8 1696.4,861.9 1697.2,861.9 1698.0,862.0 1698.8,862.0 1699.6,862.0 1700.4,862.1 1701.3,862.1 1702.1,862.1 1702.9,862.1 1703.7,862.2 1704.5,862.2 1705.3,862.2 1706.1,862.2 1706.9,862.2 1707.7,862.2 1708.6,862.3 1709.4,862.3 1710.2,862.3 1711.0,862.3 1711.8,862.3 1712.6,862.3 1713.4,862.3 1714.2,862.3 1715.1,862.3 1715.9,862.3 1716.7,862.4 1717.5,862.4 1718.3,862.4 1719.1,862.4 1719.9,862.4 1720.7,862.4 1721.5,862.4 1722.4,862.4 1723.2,862.4 1724.0,862.4 1724.8,862.4 1725.6,862.4 1726.4,862.4 1727.2,862.4 1728.0,862.4 1728.8,862.4 1729.7,862.5 1730.5,862.5 1731.3,862.5 1732.1,862.5 1732.9,862.5 1733.7,862.5 1734.5,862.5 1735.3,862.5 1736.2,862.5 1737.0,862.5 1737.8,862.5 1738.6,862.5 1739.4,862.5 1740.2,862.5 1741.0,862.5 1741.8,862.5 1742.6,862.5 1743.5,862.5 1744.3,862.5 1745.1,862.5 1745.9,862.5 1746.7,862.5 1747.5,862.5 1748.3,862.5 1749.1,862.5 1749.9,862.5 1750.8,862.5 1751.6,862.5 1752.4,862.5 1753.2,862.5 1754.0,862.6 1754.8,862.6 1755.6,862.6 1756.4,862.6 1757.3,862.6 1758.1,862.6 1758.9,862.6 1759.7,862.6 1760.5,862.6 1761.3,862.6 1762.1,862.6 1762.9,862.6 1763.7,862.6 1764.6,862.6 1765.4,862.6 1766.2,862.6 1767.0,862.6 1767.8,862.6 1768.6,862.6 1769.4,862.6 1770.2,862.6 1771.0,862.6 1771.9,862.6 1772.7,862.6 1773.5,862.6 1774.3,862.6 1775.1,862.6 1775.9,862.6 1776.7,862.6 1777.5,862.6 1778.3,862.6 1779.2,862.6 1780.0,862.6 1780.8,862.6 1781.6,862.6 1782.4,862.6 1783.2,862.6 1784.0,862.6 1784.8,862.6 1785.7,862.6 1786.5,862.6 1787.3,862.6 1788.1,862.6 1788.9,862.6 1789.7,862.6 1790.5,862.6 1791.3,862.6 1792.1,862.6 1793.0,862.6 1793.8,862.6 1794.6,862.6 1795.4,862.6 1796.2,862.6 1797.0,862.6 1797.8,862.6 1798.6,862.6 1799.4,862.6 1800.3,862.6 1801.1,862.6 1801.9,862.6 1802.7,862.6 1803.5,862.6 1804.3,862.6 1805.1,862.6 1805.9,862.6 1806.8,862.6 1807.6,862.6 1808.4,862.6 1809.2,862.6 1810.0,862.6 1810.8,862.6 1811.6,862.6 1812.4,862.6 1813.2,862.6 1814.1,862.6 1814.9,862.6 1815.7,862.6 1816.5,862.6 1817.3,862.6 1818.1,862.6 1818.9,862.6" fill="none" stroke="#ff00ff" stroke-width="2.9" stroke-linejoin="round" stroke-linecap="round" />
<polyline points="1372.6,862.7 1373.4,862.7 1374.2,862.7 1375.0,862.7 1375.8,862.7 1376.7,862.6 1377.5,862.6 1378.3,862.6 1379.1,862.6 1379.9,862.6 1380.7,862.6 1381.5,862.6 1382.3,862.6 1383.1,862.6 1384.0,862.6 1384.8,862.6 1385.6,862.6 1386.4,862.6 1387.2,862.6 1388.0,862.6 1388.8,862.6 1389.6,862.6 1390.5,862.6 1391.3,862.6 1392.1,862.6 1392.9,862.6 1393.7,862.6 1394.5,862.6 1395.3,862.6 1396.1,862.6 1396.9,862.6 1397.8,862.6 1398.6,862.6 1399.4,862.6 1400.2,862.6 1401.0,862.6 1401.8,862.6 1402.6,862.6 1403.4,862.6 1404.2,862.6 1405.1,862.6 1405.9,862.6 1406.7,862.6 1407.5,862.6 1408.3,862.6 1409.1,862.6 1409.9,862.6 1410.7,862.6 1411.6,862.6 1412.4,862.6 1413.2,862.6 1414.0,862.6 1414.8,862.6 1415.6,862.6 1416.4,862.6 1417.2,862.6 1418.0,862.6 1418.9,862.6 1419.7,862.6 1420.5,862.6 1421.3,862.6 1422.1,862.6 1422.9,862.6 1423.7,862.6 1424.5,862.6 1425.3,862.6 1426.2,862.6 1427.0,862.6 1427.8,862.6 1428.6,862.6 1429.4,862.6 1430.2,862.6 1431.0,862.6 1431.8,862.6 1432.7,862.6 1433.5,862.6 1434.3,862.6 1435.1,862.6 1435.9,862.6 1436.7,862.6 1437.5,862.6 1438.3,862.6 1439.1,862.6 1440.0,862.6 1440.8,862.6 1441.6,862.6 1442.4,862.6 1443.2,862.6 1444.0,862.6 1444.8,862.6 1445.6,862.6 1446.4,862.6 1447.3,862.6 1448.1,862.6 1448.9,862.6 1449.7,862.6 1450.5,862.6 1451.3,862.6 1452.1,862.6 1452.9,862.6 1453.8,862.6 1454.6,862.6 1455.4,862.6 1456.2,862.6 1457.0,862.6 1457.8,862.6 1458.6,862.6 1459.4,862.6 1460.2,862.6 1461.1,862.6 1461.9,862.6 1462.7,862.6 1463.5,862.6 1464.3,862.6 1465.1,862.6 1465.9,862.6 1466.7,862.6 1467.5,862.6 1468.4,862.6 1469.2,862.6 1470.0,862.6 1470.8,862.6 1471.6,862.6 1472.4,862.6 1473.2,862.6 1474.0,862.6 1474.8,862.6 1475.7,862.6 1476.5,862.6 1477.3,862.6 1478.1,862.6 1478.9,862.6 1479.7,862.6 1480.5,862.6 1481.3,862.6 1482.2,862.6 1483.0,862.6 1483.8,862.6 1484.6,862.6 1485.4,862.6 1486.2,862.6 1487.0,862.6 1487.8,862.6 1488.6,862.6 1489.5,862.6 1490.3,862.6 1491.1,862.6 1491.9,862.6 1492.7,862.6 1493.5,862.6 1494.3,862.6 1495.1,862.6 1495.9,862.6 1496.8,862.6 1497.6,862.6 1498.4,862.6 1499.2,862.6 1500.0,862.6 1500.8,862.6 1501.6,862.6 1502.4,862.6 1503.3,862.6 1504.1,862.6 1504.9,862.5 1505.7,862.5 1506.5,862.5 1507.3,862.5 1508.1,862.5 1508.9,862.5 1509.7,862.5 1510.6,862.5 1511.4,862.5 1512.2,862.5 1513.0,862.5 1513.8,862.5 1514.6,862.5 1515.4,862.5 1516.2,862.5 1517.0,862.5 1517.9,862.5 1518.7,862.5 1519.5,862.5 1520.3,862.5 1521.1,862.5 1521.9,862.5 1522.7,862.5 1523.5,862.5 1524.4,862.5 1525.2,862.5 1526.0,862.5 1526.8,862.5 1527.6,862.5 1528.4,862.5 1529.2,862.5 1530.0,862.5 1530.8,862.5 1531.7,862.5 1532.5,862.5 1533.3,862.5 1534.1,862.5 1534.9,862.5 1535.7,862.5 1536.5,862.5 1537.3,862.5 1538.1,862.5 1539.0,862.5 1539.8,862.5 1540.6,862.5 1541.4,862.5 1542.2,862.5 1543.0,862.5 1543.8,862.5 1544.6,862.4 1545.4,862.4 1546.3,862.4 1547.1,862.4 1547.9,862.4 1548.7,862.4 1549.5,862.4 1550.3,862.4 1551.1,862.4 1551.9,862.4 1552.8,862.4 1553.6,862.4 1554.4,862.4 1555.2,862.4 1556.0,862.4 1556.8,862.4 1557.6,862.4 1558.4,862.4 1559.2,862.4 1560.1,862.4 1560.9,862.4 1561.7,862.4 1562.5,862.4 1563.3,862.4 1564.1,862.4 1564.9,862.4 1565.7,862.3 1566.5,862.3 1567.4,862.3 1568.2,862.3 1569.0,862.3 1569.8,862.3 1570.6,862.3 1571.4,862.3 1572.2,862.3 1573.0,862.3 1573.9,862.3 1574.7,862.3 1575.5,862.3 1576.3,862.3 1577.1,862.3 1577.9,862.3 1578.7,862.3 1579.5,862.2 1580.3,862.2 1581.2,862.2 1582.0,862.2 1582.8,862.2 1583.6,862.2 1584.4,862.2 1585.2,862.2 1586.0,862.2 1586.8,862.2 1587.6,862.2 1588.5,862.2 1589.3,862.1 1590.1,862.1 1590.9,862.1 1591.7,862.1 1592.5,862.1 1593.3,862.1 1594.1,862.1 1595.0,862.1 1595.8,862.1 1596.6,862.1 1597.4,862.0 1598.2,862.0 1599.0,862.0 1599.8,862.0 1600.6,862.0 1601.4,862.0 1602.3,862.0 1603.1,861.9 1603.9,861.9 1604.7,861.9 1605.5,861.9 1606.3,861.9 1607.1,861.9 1607.9,861.8 1608.7,861.8 1609.6,861.8 1610.4,861.8 1611.2,861.8 1612.0,861.7 1612.8,861.7 1613.6,861.7 1614.4,861.7 1615.2,861.6 1616.0,861.6 1616.9,861.6 1617.7,861.5 1618.5,861.5 1619.3,861.4 1620.1,861.4 1620.9,861.3 1621.7,861.3 1622.5,861.2 1623.4,861.2 1624.2,861.1 1625.0,861.0 1625.8,860.9 1626.6,860.8 1627.4,860.7 1628.2,860.6 1629.0,860.4 1629.8,860.3 1630.7,860.1 1631.5,859.9 1632.3,859.6 1633.1,859.3 1633.9,859.0 1634.7,858.7 1635.5,858.3 1636.3,857.8 1637.1,857.3 1638.0,856.8 1638.8,856.1 1639.6,855.4 1640.4,854.7 1641.2,853.8 1642.0,852.8 1642.8,851.8 1643.6,850.6 1644.5,849.3 1645.3,847.9 1646.1,846.3 1646.9,844.6 1647.7,842.8 1648.5,840.8 1649.3,838.6 1650.1,836.3 1650.9,833.8 1651.8,831.1 1652.6,828.3 1653.4,825.3 1654.2,822.1 1655.0,818.7 1655.8,815.2 1656.6,811.5 1657.4,807.7 1658.2,803.7 1659.1,799.6 1659.9,795.3 1660.7,791.0 1661.5,786.5 1662.3,782.0 1663.1,777.5 1663.9,772.9 1664.7,768.4 1665.6,763.8 1666.4,759.4 1667.2,755.0 1668.0,750.7 1668.8,746.6 1669.6,742.7 1670.4,738.9 1671.2,735.4 1672.0,732.2 1672.9,729.3 1673.7,726.7 1674.5,724.5 1675.3,722.6 1676.1,721.2 1676.9,720.1 1677.7,719.5 1678.5,719.2 1679.3,719.5 1680.2,720.1 1681.0,721.2 1681.8,722.6 1682.6,724.5 1683.4,726.7 1684.2,729.3 1685.0,732.2 1685.8,735.4 1686.7,738.9 1687.5,742.7 1688.3,746.6 1689.1,750.7 1689.9,755.0 1690.7,759.4 1691.5,763.8 1692.3,768.4 1693.1,772.9 1694.0,777.5 1694.8,782.0 1695.6,786.5 1696.4,791.0 1697.2,795.3 1698.0,799.6 1698.8,803.7 1699.6,807.7 1700.4,811.5 1701.3,815.2 1702.1,818.7 1702.9,822.1 1703.7,825.3 1704.5,828.3 1705.3,831.1 1706.1,833.8 1706.9,836.3 1707.7,838.6 1708.6,840.8 1709.4,842.8 1710.2,844.6 1711.0,846.3 1711.8,847.9 1712.6,849.3 1713.4,850.6 1714.2,851.8 1715.1,852.8 1715.9,853.8 1716.7,854.7 1717.5,855.4 1718.3,856.1 1719.1,856.8 1719.9,857.3 1720.7,857.8 1721.5,858.3 1722.4,858.7 1723.2,859.0 1724.0,859.3 1724.8,859.6 1725.6,859.9 1726.4,860.1 1727.2,860.3 1728.0,860.4 1728.8,860.6 1729.7,860.7 1730.5,860.8 1731.3,860.9 1732.1,861.0 1732.9,861.1 1733.7,861.2 1734.5,861.2 1735.3,861.3 1736.2,861.3 1737.0,861.4 1737.8,861.4 1738.6,861.5 1739.4,861.5 1740.2,861.6 1741.0,861.6 1741.8,861.6 1742.6,861.7 1743.5,861.7 1744.3,861.7 1745.1,861.7 1745.9,861.8 1746.7,861.8 1747.5,861.8 1748.3,861.8 1749.1,861.8 1749.9,861.9 1750.8,861.9 1751.6,861.9 1752.4,861.9 1753.2,861.9 1754.0,861.9 1754.8,862.0 1755.6,862.0 1756.4,862.0 1757.3,862.0 1758.1,862.0 1758.9,862.0 1759.7,862.0 1760.5,862.1 1761.3,862.1 1762.1,862.1 1762.9,862.1 1763.7,862.1 1764.6,862.1 1765.4,862.1 1766.2,862.1 1767.0,862.1 1767.8,862.1 1768.6,862.2 1769.4,862.2 1770.2,862.2 1771.0,862.2 1771.9,862.2 1772.7,862.2 1773.5,862.2 1774.3,862.2 1775.1,862.2 1775.9,862.2 1776.7,862.2 1777.5,862.2 1778.3,862.3 1779.2,862.3 1780.0,862.3 1780.8,862.3 1781.6,862.3 1782.4,862.3 1783.2,862.3 1784.0,862.3 1784.8,862.3 1785.7,862.3 1786.5,862.3 1787.3,862.3 1788.1,862.3 1788.9,862.3 1789.7,862.3 1790.5,862.3 1791.3,862.3 1792.1,862.4 1793.0,862.4 1793.8,862.4 1794.6,862.4 1795.4,862.4 1796.2,862.4 1797.0,862.4 1797.8,862.4 1798.6,862.4 1799.4,862.4 1800.3,862.4 1801.1,862.4 1801.9,862.4 1802.7,862.4 1803.5,862.4 1804.3,862.4 1805.1,862.4 1805.9,862.4 1806.8,862.4 1807.6,862.4 1808.4,862.4 1809.2,862.4 1810.0,862.4 1810.8,862.4 1811.6,862.4 1812.4,862.4 1813.2,862.5 1814.1,862.5 1814.9,862.5 1815.7,862.5 1816.5,862.5 1817.3,862.5 1818.1,862.5 1818.9,862.5" fill="none" stroke="#008000" stroke-width="2.9" stroke-linejoin="round" stroke-linecap="round" />
<polyline points="1372.6,862.3 1373.4,862.3 1374.2,862.3 1375.0,862.3 1375.8,862.3 1376.7,862.3 1377.5,862.3 1378.3,862.3 1379.1,862.3 1379.9,862.3 1380.7,862.3 1381.5,862.3 1382.3,862.3 1383.1,862.3 1384.0,862.3 1384.8,862.3 1385.6,862.3 1386.4,862.3 1387.2,862.3 1388.0,862.3 1388.8,862.3 1389.6,862.3 1390.5,862.3 1391.3,862.3 1392.1,862.3 1392.9,862.3 1393.7,862.3 1394.5,862.3 1395.3,862.3 1396.1,862.3 1396.9,862.3 1397.8,862.3 1398.6,862.3 1399.4,862.3 1400.2,862.3 1401.0,862.3 1401.8,862.3 1402.6,862.3 1403.4,862.3 1404.2,862.3 1405.1,862.3 1405.9,862.3 1406.7,862.3 1407.5,862.3 1408.3,862.3 1409.1,862.2 1409.9,862.2 1410.7,862.2 1411.6,862.2 1412.4,862.2 1413.2,862.2 1414.0,862.2 1414.8,862.2 1415.6,862.2 1416.4,862.2 1417.2,862.2 1418.0,862.2 1418.9,862.2 1419.7,862.2 1420.5,862.2 1421.3,862.2 1422.1,862.2 1422.9,862.2 1423.7,862.2 1424.5,862.2 1425.3,862.2 1426.2,862.2 1427.0,862.2 1427.8,862.2 1428.6,862.2 1429.4,862.2 1430.2,862.2 1431.0,862.2 1431.8,862.2 1432.7,862.2 1433.5,862.2 1434.3,862.2 1435.1,862.2 1435.9,862.2 1436.7,862.2 1437.5,862.1 1438.3,862.1 1439.1,862.1 1440.0,862.1 1440.8,862.1 1441.6,862.1 1442.4,862.1 1443.2,862.1 1444.0,862.1 1444.8,862.1 1445.6,862.1 1446.4,862.1 1447.3,862.1 1448.1,862.1 1448.9,862.1 1449.7,862.1 1450.5,862.1 1451.3,862.1 1452.1,862.1 1452.9,862.1 1453.8,862.1 1454.6,862.1 1455.4,862.1 1456.2,862.1 1457.0,862.1 1457.8,862.1 1458.6,862.0 1459.4,862.0 1460.2,862.0 1461.1,862.0 1461.9,862.0 1462.7,862.0 1463.5,862.0 1464.3,862.0 1465.1,862.0 1465.9,862.0 1466.7,862.0 1467.5,862.0 1468.4,862.0 1469.2,862.0 1470.0,862.0 1470.8,862.0 1471.6,862.0 1472.4,862.0 1473.2,862.0 1474.0,862.0 1474.8,862.0 1475.7,861.9 1476.5,861.9 1477.3,861.9 1478.1,861.9 1478.9,861.9 1479.7,861.9 1480.5,861.9 1481.3,861.9 1482.2,861.9 1483.0,861.9 1483.8,861.9 1484.6,861.9 1485.4,861.9 1486.2,861.9 1487.0,861.9 1487.8,861.9 1488.6,861.9 1489.5,861.9 1490.3,861.8 1491.1,861.8 1491.9,861.8 1492.7,861.8 1493.5,861.8 1494.3,861.8 1495.1,861.8 1495.9,861.8 1496.8,861.8 1497.6,861.8 1498.4,861.8 1499.2,861.8 1500.0,861.8 1500.8,861.8 1501.6,861.7 1502.4,861.7 1503.3,861.7 1504.1,861.7 1504.9,861.7 1505.7,861.7 1506.5,861.7 1507.3,861.7 1508.1,861.7 1508.9,861.7 1509.7,861.7 1510.6,861.7 1511.4,861.6 1512.2,861.6 1513.0,861.6 1513.8,861.6 1514.6,861.6 1515.4,861.6 1516.2,861.6 1517.0,861.6 1517.9,861.6 1518.7,861.6 1519.5,861.6 1520.3,861.5 1521.1,861.5 1521.9,861.5 1522.7,861.5 1523.5,861.5 1524.4,861.5 1525.2,861.5 1526.0,861.5 1526.8,861.5 1527.6,861.5 1528.4,861.4 1529.2,861.4 1530.0,861.4 1530.8,861.4 1531.7,861.4 1532.5,861.4 1533.3,861.4 1534.1,861.4 1534.9,861.3 1535.7,861.3 1536.5,861.3 1537.3,861.3 1538.1,861.3 1539.0,861.3 1539.8,861.3 1540.6,861.2 1541.4,861.2 1542.2,861.2 1543.0,861.2 1543.8,861.2 1544.6,861.2 1545.4,861.2 1546.3,861.1 1547.1,861.1 1547.9,861.1 1548.7,861.1 1549.5,861.1 1550.3,861.1 1551.1,861.0 1551.9,861.0 1552.8,861.0 1553.6,861.0 1554.4,861.0 1555.2,861.0 1556.0,860.9 1556.8,860.9 1557.6,860.9 1558.4,860.9 1559.2,860.9 1560.1,860.8 1560.9,860.8 1561.7,860.8 1562.5,860.8 1563.3,860.8 1564.1,860.7 1564.9,860.7 1565.7,860.7 1566.5,860.7 1567.4,860.6 1568.2,860.6 1569.0,860.6 1569.8,860.6 1570.6,860.5 1571.4,860.5 1572.2,860.5 1573.0,860.5 1573.9,860.4 1574.7,860.4 1575.5,860.4 1576.3,860.4 1577.1,860.3 1577.9,860.3 1578.7,860.3 1579.5,860.2 1580.3,860.2 1581.2,860.2 1582.0,860.1 1582.8,860.1 1583.6,860.1 1584.4,860.0 1585.2,860.0 1586.0,860.0 1586.8,859.9 1587.6,859.9 1588.5,859.8 1589.3,859.8 1590.1,859.8 1590.9,859.7 1591.7,859.7 1592.5,859.6 1593.3,859.6 1594.1,859.6 1595.0,859.5 1595.8,859.5 1596.6,859.4 1597.4,859.4 1598.2,859.3 1599.0,859.3 1599.8,859.2 1600.6,859.2 1601.4,859.1 1602.3,859.1 1603.1,859.0 1603.9,858.9 1604.7,858.9 1605.5,858.8 1606.3,858.8 1607.1,858.7 1607.9,858.6 1608.7,858.6 1609.6,858.5 1610.4,858.4 1611.2,858.4 1612.0,858.3 1612.8,858.2 1613.6,858.1 1614.4,858.1 1615.2,858.0 1616.0,857.9 1616.9,857.8 1617.7,857.7 1618.5,857.6 1619.3,857.5 1620.1,857.4 1620.9,857.3 1621.7,857.2 1622.5,857.1 1623.4,857.0 1624.2,856.9 1625.0,856.8 1625.8,856.7 1626.6,856.6 1627.4,856.4 1628.2,856.3 1629.0,856.2 1629.8,856.0 1630.7,855.8 1631.5,855.7 1632.3,855.5 1633.1,855.3 1633.9,855.2 1634.7,855.0 1635.5,854.8 1636.3,854.5 1637.1,854.3 1638.0,854.1 1638.8,853.8 1639.6,853.5 1640.4,853.2 1641.2,852.9 1642.0,852.6 1642.8,852.2 1643.6,851.8 1644.5,851.4 1645.3,850.9 1646.1,850.4 1646.9,849.9 1647.7,849.4 1648.5,848.8 1649.3,848.1 1650.1,847.4 1650.9,846.6 1651.8,845.8 1652.6,844.9 1653.4,844.0 1654.2,843.0 1655.0,841.9 1655.8,840.7 1656.6,839.4 1657.4,838.0 1658.2,836.6 1659.1,835.0 1659.9,833.3 1660.7,831.5 1661.5,829.6 1662.3,827.5 1663.1,825.4 1663.9,823.0 1664.7,820.6 1665.6,817.9 1666.4,815.2 1667.2,812.2 1668.0,809.1 1668.8,805.8 1669.6,802.4 1670.4,798.8 1671.2,795.0 1672.0,791.1 1672.9,786.9 1673.7,782.6 1674.5,778.1 1675.3,773.5 1676.1,768.6 1676.9,763.6 1677.7,758.5 1678.5,753.2 1679.3,747.8 1680.2,742.2 1681.0,736.5 1681.8,730.7 1682.6,724.8 1683.4,718.8 1684.2,712.7 1685.0,706.6 1685.8,700.5 1686.7,694.3 1687.5,688.1 1688.3,682.0 1689.1,675.9 1689.9,670.0 1690.7,664.1 1691.5,658.3 1692.3,652.7 1693.1,647.3 1694.0,642.2 1694.8,637.2 1695.6,632.6 1696.4,628.3 1697.2,624.3 1698.0,620.7 1698.8,617.5 1699.6,614.7 1700.4,612.4 1701.3,610.6 1702.1,609.2 1702.9,608.3 1703.7,608.0 1704.5,608.1 1705.3,608.8 1706.1,610.0 1706.9,611.6 1707.7,613.8 1708.6,616.3 1709.4,619.4 1710.2,622.8 1711.0,626.6 1711.8,630.8 1712.6,635.3 1713.4,640.2 1714.2,645.2 1715.1,650.5 1715.9,656.1 1716.7,661.7 1717.5,667.6 1718.3,673.5 1719.1,679.6 1719.9,685.7 1720.7,691.8 1721.5,698.0 1722.4,704.1 1723.2,710.3 1724.0,716.4 1724.8,722.4 1725.6,728.3 1726.4,734.2 1727.2,739.9 1728.0,745.6 1728.8,751.0 1729.7,756.4 1730.5,761.6 1731.3,766.7 1732.1,771.6 1732.9,776.3 1733.7,780.8 1734.5,785.2 1735.3,789.4 1736.2,793.5 1737.0,797.3 1737.8,801.0 1738.6,804.5 1739.4,807.8 1740.2,811.0 1741.0,814.0 1741.8,816.8 1742.6,819.5 1743.5,822.1 1744.3,824.4 1745.1,826.7 1745.9,828.8 1746.7,830.8 1747.5,832.6 1748.3,834.3 1749.1,836.0 1749.9,837.5 1750.8,838.9 1751.6,840.2 1752.4,841.4 1753.2,842.5 1754.0,843.6 1754.8,844.6 1755.6,845.5 1756.4,846.3 1757.3,847.1 1758.1,847.8 1758.9,848.5 1759.7,849.1 1760.5,849.7 1761.3,850.2 1762.1,850.7 1762.9,851.2 1763.7,851.6 1764.6,852.0 1765.4,852.4 1766.2,852.8 1767.0,853.1 1767.8,853.4 1768.6,853.7 1769.4,854.0 1770.2,854.2 1771.0,854.4 1771.9,854.7 1772.7,854.9 1773.5,855.1 1774.3,855.3 1775.1,855.5 1775.9,855.6 1776.7,855.8 1777.5,855.9 1778.3,856.1 1779.2,856.2 1780.0,856.4 1780.8,856.5 1781.6,856.6 1782.4,856.8 1783.2,856.9 1784.0,857.0 1784.8,857.1 1785.7,857.2 1786.5,857.3 1787.3,857.4 1788.1,857.5 1788.9,857.6 1789.7,857.7 1790.5,857.8 1791.3,857.9 1792.1,857.9 1793.0,858.0 1793.8,858.1 1794.6,858.2 1795.4,858.3 1796.2,858.3 1797.0,858.4 1797.8,858.5 1798.6,858.5 1799.4,858.6 1800.3,858.7 1801.1,858.7 1801.9,858.8 1802.7,858.9 1803.5,858.9 1804.3,859.0 1805.1,859.0 1805.9,859.1 1806.8,859.1 1807.6,859.2 1808.4,859.3 1809.2,859.3 1810.0,859.4 1810.8,859.4 1811.6,859.4 1812.4,859.5 1813.2,859.5 1814.1,859.6 1814.9,859.6 1815.7,859.7 1816.5,859.7 1817.3,859.8 1818.1,859.8 1818.9,859.8" fill="none" stroke="#0000ff" stroke-width="2.9" stroke-linejoin="round" stroke-linecap="round" />
<polyline points="1372.6,862.7 1373.4,862.7 1374.2,862.7 1375.0,862.7 1375.8,862.7 1376.7,862.7 1377.5,862.7 1378.3,862.7 1379.1,862.7 1379.9,862.7 1380.7,862.7 1381.5,862.7 1382.3,862.7 1383.1,862.7 1384.0,862.7 1384.8,862.7 1385.6,862.7 1386.4,862.7 1387.2,862.7 1388.0,862.7 1388.8,862.7 1389.6,862.7 1390.5,862.7 1391.3,862.7 1392.1,862.7 1392.9,862.7 1393.7,862.7 1394.5,862.7 1395.3,862.7 1396.1,862.7 1396.9,862.7 1397.8,862.7 1398.6,862.7 1399.4,862.7 1400.2,862.7 1401.0,862.7 1401.8,862.7 1402.6,862.7 1403.4,862.7 1404.2,862.7 1405.1,862.7 1405.9,862.7 1406.7,862.7 1407.5,862.7 1408.3,862.7 1409.1,862.7 1409.9,862.7 1410.7,862.7 1411.6,862.7 1412.4,862.7 1413.2,862.7 1414.0,862.7 1414.8,862.7 1415.6,862.7 1416.4,862.7 1417.2,862.7 1418.0,862.7 1418.9,862.7 1419.7,862.7 1420.5,862.7 1421.3,862.7 1422.1,862.7 1422.9,862.7 1423.7,862.7 1424.5,862.7 1425.3,862.7 1426.2,862.7 1427.0,862.7 1427.8,862.7 1428.6,862.7 1429.4,862.7 1430.2,862.7 1431.0,862.7 1431.8,862.7 1432.7,862.7 1433.5,862.7 1434.3,862.7 1435.1,862.7 1435.9,862.7 1436.7,862.7 1437.5,862.7 1438.3,862.7 1439.1,862.7 1440.0,862.7 1440.8,862.7 1441.6,862.7 1442.4,862.7 1443.2,862.7 1444.0,862.7 1444.8,862.7 1445.6,862.7 1446.4,862.7 1447.3,862.7 1448.1,862.7 1448.9,862.7 1449.7,862.7 1450.5,862.7 1451.3,862.7 1452.1,862.7 1452.9,862.7 1453.8,862.7 1454.6,862.7 1455.4,862.7 1456.2,862.7 1457.0,862.7 1457.8,862.7 1458.6,862.7 1459.4,862.7 1460.2,862.7 1461.1,862.7 1461.9,862.7 1462.7,862.7 1463.5,862.7 1464.3,862.7 1465.1,862.7 1465.9,862.7 1466.7,862.7 1467.5,862.7 1468.4,862.7 1469.2,862.7 1470.0,862.7 1470.8,862.7 1471.6,862.7 1472.4,862.7 1473.2,862.7 1474.0,862.7 1474.8,862.7 1475.7,862.7 1476.5,862.7 1477.3,862.7 1478.1,862.7 1478.9,862.7 1479.7,862.7 1480.5,862.7 1481.3,862.7 1482.2,862.7 1483.0,862.7 1483.8,862.7 1484.6,862.7 1485.4,862.7 1486.2,862.7 1487.0,862.7 1487.8,862.7 1488.6,862.7 1489.5,862.7 1490.3,862.7 1491.1,862.7 1491.9,862.7 1492.7,862.7 1493.5,862.7 1494.3,862.7 1495.1,862.7 1495.9,862.7 1496.8,862.7 1497.6,862.7 1498.4,862.7 1499.2,862.7 1500.0,862.7 1500.8,862.7 1501.6,862.7 1502.4,862.7 1503.3,862.7 1504.1,862.7 1504.9,862.7 1505.7,862.7 1506.5,862.7 1507.3,862.7 1508.1,862.7 1508.9,862.7 1509.7,862.7 1510.6,862.7 1511.4,862.7 1512.2,862.7 1513.0,862.7 1513.8,862.7 1514.6,862.7 1515.4,862.7 1516.2,862.7 1517.0,862.7 1517.9,862.7 1518.7,862.7 1519.5,862.7 1520.3,862.7 1521.1,862.7 1521.9,862.7 1522.7,862.7 1523.5,862.7 1524.4,862.7 1525.2,862.7 1526.0,862.7 1526.8,862.7 1527.6,862.7 1528.4,862.7 1529.2,862.7 1530.0,862.7 1530.8,862.7 1531.7,862.7 1532.5,862.7 1533.3,862.7 1534.1,862.7 1534.9,862.7 1535.7,862.7 1536.5,862.7 1537.3,862.7 1538.1,862.7 1539.0,862.7 1539.8,862.7 1540.6,862.7 1541.4,862.7 1542.2,862.7 1543.0,862.7 1543.8,862.7 1544.6,862.7 1545.4,862.7 1546.3,862.7 1547.1,862.7 1547.9,862.7 1548.7,862.7 1549.5,862.7 1550.3,862.7 1551.1,862.7 1551.9,862.7 1552.8,862.7 1553.6,862.7 1554.4,862.7 1555.2,862.7 1556.0,862.7 1556.8,862.7 1557.6,862.7 1558.4,862.7 1559.2,862.7 1560.1,862.7 1560.9,862.7 1561.7,862.7 1562.5,862.7 1563.3,862.7 1564.1,862.7 1564.9,862.7 1565.7,862.7 1566.5,862.7 1567.4,862.7 1568.2,862.7 1569.0,862.7 1569.8,862.7 1570.6,862.7 1571.4,862.7 1572.2,862.7 1573.0,862.7 1573.9,862.7 1574.7,862.7 1575.5,862.7 1576.3,862.7 1577.1,862.7 1577.9,862.7 1578.7,862.7 1579.5,862.7 1580.3,862.7 1581.2,862.7 1582.0,862.7 1582.8,862.7 1583.6,862.7 1584.4,862.7 1585.2,862.7 1586.0,862.7 1586.8,862.7 1587.6,862.7 1588.5,862.7 1589.3,862.7 1590.1,862.7 1590.9,862.7 1591.7,862.7 1592.5,862.7 1593.3,862.7 1594.1,862.7 1595.0,862.7 1595.8,862.7 1596.6,862.7 1597.4,862.7 1598.2,862.7 1599.0,862.7 1599.8,862.7 1600.6,862.7 1601.4,862.7 1602.3,862.7 1603.1,862.7 1603.9,862.7 1604.7,862.7 1605.5,862.6 1606.3,862.6 1607.1,862.6 1607.9,862.6 1608.7,862.6 1609.6,862.6 1610.4,862.6 1611.2,862.6 1612.0,862.6 1612.8,862.6 1613.6,862.6 1614.4,862.6 1615.2,862.6 1616.0,862.6 1616.9,862.6 1617.7,862.6 1618.5,862.6 1619.3,862.6 1620.1,862.6 1620.9,862.6 1621.7,862.6 1622.5,862.6 1623.4,862.6 1624.2,862.6 1625.0,862.6 1625.8,862.6 1626.6,862.6 1627.4,862.6 1628.2,862.6 1629.0,862.6 1629.8,862.6 1630.7,862.6 1631.5,862.6 1632.3,862.6 1633.1,862.6 1633.9,862.6 1634.7,862.6 1635.5,862.6 1636.3,862.6 1637.1,862.6 1638.0,862.6 1638.8,862.6 1639.6,862.6 1640.4,862.6 1641.2,862.6 1642.0,862.6 1642.8,862.6 1643.6,862.6 1644.5,862.6 1645.3,862.6 1646.1,862.6 1646.9,862.6 1647.7,862.6 1648.5,862.6 1649.3,862.6 1650.1,862.6 1650.9,862.6 1651.8,862.6 1652.6,862.6 1653.4,862.6 1654.2,862.6 1655.0,862.6 1655.8,862.6 1656.6,862.6 1657.4,862.6 1658.2,862.6 1659.1,862.6 1659.9,862.6 1660.7,862.5 1661.5,862.5 1662.3,862.5 1663.1,862.5 1663.9,862.5 1664.7,862.5 1665.6,862.5 1666.4,862.5 1667.2,862.5 1668.0,862.5 1668.8,862.5 1669.6,862.5 1670.4,862.5 1671.2,862.5 1672.0,862.5 1672.9,862.5 1673.7,862.5 1674.5,862.5 1675.3,862.5 1676.1,862.4 1676.9,862.4 1677.7,862.4 1678.5,862.4 1679.3,862.4 1680.2,862.4 1681.0,862.4 1681.8,862.3 1682.6,862.3 1683.4,862.3 1684.2,862.3 1685.0,862.2 1685.8,862.2 1686.7,862.2 1687.5,862.1 1688.3,862.1 1689.1,862.0 1689.9,861.9 1690.7,861.9 1691.5,861.8 1692.3,861.7 1693.1,861.6 1694.0,861.4 1694.8,861.3 1695.6,861.2 1696.4,861.0 1697.2,860.8 1698.0,860.6 1698.8,860.4 1699.6,860.1 1700.4,859.8 1701.3,859.5 1702.1,859.2 1702.9,858.8 1703.7,858.4 1704.5,858.0 1705.3,857.5 1706.1,857.1 1706.9,856.5 1707.7,856.0 1708.6,855.4 1709.4,854.7 1710.2,854.1 1711.0,853.4 1711.8,852.7 1712.6,851.9 1713.4,851.1 1714.2,850.3 1715.1,849.5 1715.9,848.6 1716.7,847.8 1717.5,846.9 1718.3,846.0 1719.1,845.2 1719.9,844.3 1720.7,843.4 1721.5,842.6 1722.4,841.7 1723.2,840.9 1724.0,840.2 1724.8,839.4 1725.6,838.8 1726.4,838.1 1727.2,837.6 1728.0,837.1 1728.8,836.6 1729.7,836.3 1730.5,836.0 1731.3,835.8 1732.1,835.6 1732.9,835.6 1733.7,835.6 1734.5,835.8 1735.3,836.0 1736.2,836.3 1737.0,836.6 1737.8,837.1 1738.6,837.6 1739.4,838.1 1740.2,838.8 1741.0,839.4 1741.8,840.2 1742.6,840.9 1743.5,841.7 1744.3,842.6 1745.1,843.4 1745.9,844.3 1746.7,845.2 1747.5,846.0 1748.3,846.9 1749.1,847.8 1749.9,848.6 1750.8,849.5 1751.6,850.3 1752.4,851.1 1753.2,851.9 1754.0,852.7 1754.8,853.4 1755.6,854.1 1756.4,854.7 1757.3,855.4 1758.1,856.0 1758.9,856.5 1759.7,857.1 1760.5,857.5 1761.3,858.0 1762.1,858.4 1762.9,858.8 1763.7,859.2 1764.6,859.5 1765.4,859.8 1766.2,860.1 1767.0,860.4 1767.8,860.6 1768.6,860.8 1769.4,861.0 1770.2,861.2 1771.0,861.3 1771.9,861.4 1772.7,861.6 1773.5,861.7 1774.3,861.8 1775.1,861.9 1775.9,861.9 1776.7,862.0 1777.5,862.1 1778.3,862.1 1779.2,862.2 1780.0,862.2 1780.8,862.2 1781.6,862.3 1782.4,862.3 1783.2,862.3 1784.0,862.3 1784.8,862.4 1785.7,862.4 1786.5,862.4 1787.3,862.4 1788.1,862.4 1788.9,862.4 1789.7,862.4 1790.5,862.5 1791.3,862.5 1792.1,862.5 1793.0,862.5 1793.8,862.5 1794.6,862.5 1795.4,862.5 1796.2,862.5 1797.0,862.5 1797.8,862.5 1798.6,862.5 1799.4,862.5 1800.3,862.5 1801.1,862.5 1801.9,862.5 1802.7,862.5 1803.5,862.5 1804.3,862.5 1805.1,862.5 1805.9,862.6 1806.8,862.6 1807.6,862.6 1808.4,862.6 1809.2,862.6 1810.0,862.6 1810.8,862.6 1811.6,862.6 1812.4,862.6 1813.2,862.6 1814.1,862.6 1814.9,862.6 1815.7,862.6 1816.5,862.6 1817.3,862.6 1818.1,862.6 1818.9,862.6" fill="none" stroke="#ff8000" stroke-width="2.9" stroke-linejoin="round" stroke-linecap="round" />
<polyline points="1372.6,862.5 1373.4,862.2 1374.2,862.0 1375.0,861.7 1375.8,861.5 1376.7,861.2 1377.5,861.0 1378.3,860.8 1379.1,860.6 1379.9,860.4 1380.7,860.2 1381.5,860.0 1382.3,859.9 1383.1,859.7 1384.0,859.5 1384.8,859.3 1385.6,859.2 1386.4,859.0 1387.2,858.8 1388.0,858.7 1388.8,858.5 1389.6,858.3 1390.5,858.1 1391.3,858.0 1392.1,857.8 1392.9,857.6 1393.7,857.4 1394.5,857.2 1395.3,856.9 1396.1,856.7 1396.9,856.5 1397.8,856.2 1398.6,856.0 1399.4,855.7 1400.2,855.4 1401.0,855.1 1401.8,854.8 1402.6,854.5 1403.4,854.2 1404.2,853.8 1405.1,853.4 1405.9,853.0 1406.7,852.6 1407.5,852.2 1408.3,851.7 1409.1,851.2 1409.9,850.7 1410.7,850.2 1411.6,849.6 1412.4,849.1 1413.2,848.5 1414.0,847.8 1414.8,847.2 1415.6,846.5 1416.4,845.8 1417.2,845.0 1418.0,844.3 1418.9,843.5 1419.7,842.6 1420.5,841.7 1421.3,840.8 1422.1,839.9 1422.9,838.9 1423.7,837.9 1424.5,836.9 1425.3,835.8 1426.2,834.7 1427.0,833.5 1427.8,832.3 1428.6,831.0 1429.4,829.7 1430.2,828.4 1431.0,827.1 1431.8,825.7 1432.7,824.2 1433.5,822.8 1434.3,821.3 1435.1,819.7 1435.9,818.2 1436.7,816.6 1437.5,815.0 1438.3,813.4 1439.1,811.7 1440.0,810.0 1440.8,808.4 1441.6,806.6 1442.4,804.9 1443.2,803.2 1444.0,801.4 1444.8,799.6 1445.6,797.9 1446.4,796.1 1447.3,794.3 1448.1,792.5 1448.9,790.7 1449.7,788.9 1450.5,787.0 1451.3,785.2 1452.1,783.4 1452.9,781.6 1453.8,779.8 1454.6,778.0 1455.4,776.2 1456.2,774.4 1457.0,772.6 1457.8,770.9 1458.6,769.1 1459.4,767.4 1460.2,765.6 1461.1,763.9 1461.9,762.2 1462.7,760.6 1463.5,758.9 1464.3,757.3 1465.1,755.8 1465.9,754.3 1466.7,752.8 1467.5,751.4 1468.4,750.1 1469.2,748.8 1470.0,747.6 1470.8,746.6 1471.6,745.6 1472.4,744.7 1473.2,743.9 1474.0,743.2 1474.8,742.6 1475.7,742.2 1476.5,741.9 1477.3,741.7 1478.1,741.7 1478.9,741.8 1479.7,742.0 1480.5,742.4 1481.3,743.0 1482.2,743.6 1483.0,744.4 1483.8,745.3 1484.6,746.3 1485.4,747.3 1486.2,748.5 1487.0,749.8 1487.8,751.1 1488.6,752.5 1489.5,754.0 1490.3,755.5 1491.1,757.1 1491.9,758.7 1492.7,760.4 1493.5,762.1 1494.3,763.8 1495.1,765.5 1495.9,767.3 1496.8,769.1 1497.6,770.9 1498.4,772.6 1499.2,774.4 1500.0,776.2 1500.8,777.9 1501.6,779.6 1502.4,781.3 1503.3,782.9 1504.1,784.5 1504.9,786.1 1505.7,787.6 1506.5,789.0 1507.3,790.4 1508.1,791.7 1508.9,793.0 1509.7,794.2 1510.6,795.5 1511.4,796.7 1512.2,798.0 1513.0,799.3 1513.8,800.6 1514.6,802.0 1515.4,803.4 1516.2,804.9 1517.0,806.5 1517.9,808.1 1518.7,809.8 1519.5,811.5 1520.3,813.2 1521.1,814.9 1521.9,816.6 1522.7,818.4 1523.5,820.1 1524.4,821.7 1525.2,823.4 1526.0,825.0 1526.8,826.5 1527.6,828.0 1528.4,829.4 1529.2,830.8 1530.0,832.0 1530.8,833.1 1531.7,834.2 1532.5,835.1 1533.3,835.8 1534.1,836.5 1534.9,837.0 1535.7,837.4 1536.5,837.7 1537.3,837.9 1538.1,838.1 1539.0,838.1 1539.8,838.1 1540.6,838.0 1541.4,837.8 1542.2,837.6 1543.0,837.4 1543.8,837.1 1544.6,836.9 1545.4,836.6 1546.3,836.3 1547.1,836.0 1547.9,835.7 1548.7,835.5 1549.5,835.3 1550.3,835.1 1551.1,835.0 1551.9,834.9 1552.8,834.9 1553.6,835.0 1554.4,835.1 1555.2,835.2 1556.0,835.4 1556.8,835.6 1557.6,835.9 1558.4,836.2 1559.2,836.5 1560.1,836.9 1560.9,837.3 1561.7,837.7 1562.5,838.2 1563.3,838.7 1564.1,839.2 1564.9,839.7 1565.7,840.3 1566.5,840.9 1567.4,841.4 1568.2,842.0 1569.0,842.6 1569.8,843.2 1570.6,843.9 1571.4,844.5 1572.2,845.1 1573.0,845.7 1573.9,846.3 1574.7,846.9 1575.5,847.5 1576.3,848.1 1577.1,848.7 1577.9,849.3 1578.7,849.8 1579.5,850.3 1580.3,850.8 1581.2,851.3 1582.0,851.8 1582.8,852.2 1583.6,852.6 1584.4,853.0 1585.2,853.4 1586.0,853.7 1586.8,854.0 1587.6,854.3 1588.5,854.5 1589.3,854.8 1590.1,855.0 1590.9,855.2 1591.7,855.3 1592.5,855.5 1593.3,855.6 1594.1,855.7 1595.0,855.7 1595.8,855.8 1596.6,855.8 1597.4,855.8 1598.2,855.7 1599.0,855.6 1599.8,855.5 1600.6,855.4 1601.4,855.3 1602.3,855.1 1603.1,854.9 1603.9,854.6 1604.7,854.4 1605.5,854.1 1606.3,853.8 1607.1,853.4 1607.9,853.1 1608.7,852.7 1609.6,852.2 1610.4,851.8 1611.2,851.3 1612.0,850.8 1612.8,850.2 1613.6,849.7 1614.4,849.0 1615.2,848.4 1616.0,847.7 1616.9,846.9 1617.7,846.1 1618.5,845.2 1619.3,844.3 1620.1,843.3 1620.9,842.2 1621.7,841.1 1622.5,839.9 1623.4,838.6 1624.2,837.2 1625.0,835.7 1625.8,834.2 1626.6,832.5 1627.4,830.8 1628.2,829.0 1629.0,827.0 1629.8,825.0 1630.7,822.8 1631.5,820.5 1632.3,818.1 1633.1,815.6 1633.9,812.9 1634.7,810.2 1635.5,807.2 1636.3,804.2 1637.1,801.1 1638.0,797.9 1638.8,794.7 1639.6,791.4 1640.4,788.2 1641.2,784.9 1642.0,781.7 1642.8,778.6 1643.6,775.5 1644.5,772.6 1645.3,769.7 1646.1,767.0 1646.9,764.3 1647.7,761.6 1648.5,759.0 1649.3,756.3 1650.1,753.7 1650.9,751.0 1651.8,748.2 1652.6,745.3 1653.4,742.4 1654.2,739.4 1655.0,736.2 1655.8,733.0 1656.6,729.6 1657.4,726.2 1658.2,722.6 1659.1,719.0 1659.9,715.2 1660.7,711.3 1661.5,707.2 1662.3,703.1 1663.1,698.8 1663.9,694.4 1664.7,689.9 1665.6,685.3 1666.4,680.5 1667.2,675.6 1668.0,670.7 1668.8,665.7 1669.6,660.6 1670.4,655.4 1671.2,650.2 1672.0,645.0 1672.9,639.8 1673.7,634.7 1674.5,629.5 1675.3,624.5 1676.1,619.5 1676.9,614.6 1677.7,609.8 1678.5,605.2 1679.3,600.7 1680.2,596.4 1681.0,592.2 1681.8,588.3 1682.6,584.6 1683.4,581.1 1684.2,577.9 1685.0,575.0 1685.8,572.3 1686.7,569.9 1687.5,567.8 1688.3,565.8 1689.1,564.2 1689.9,562.8 1690.7,561.6 1691.5,560.6 1692.3,559.9 1693.1,559.4 1694.0,559.2 1694.8,559.2 1695.6,559.3 1696.4,559.7 1697.2,560.4 1698.0,561.2 1698.8,562.2 1699.6,563.4 1700.4,564.9 1701.3,566.5 1702.1,568.3 1702.9,570.4 1703.7,572.7 1704.5,575.2 1705.3,577.9 1706.1,580.8 1706.9,584.0 1707.7,587.4 1708.6,591.0 1709.4,594.9 1710.2,599.0 1711.0,603.4 1711.8,607.9 1712.6,612.7 1713.4,617.7 1714.2,622.8 1715.1,628.1 1715.9,633.6 1716.7,639.1 1717.5,644.8 1718.3,650.5 1719.1,656.3 1719.9,662.1 1720.7,668.0 1721.5,673.9 1722.4,679.8 1723.2,685.6 1724.0,691.5 1724.8,697.3 1725.6,703.1 1726.4,708.8 1727.2,714.4 1728.0,720.0 1728.8,725.5 1729.7,730.9 1730.5,736.2 1731.3,741.3 1732.1,746.4 1732.9,751.3 1733.7,756.0 1734.5,760.6 1735.3,765.0 1736.2,769.2 1737.0,773.3 1737.8,777.2 1738.6,781.0 1739.4,784.6 1740.2,788.0 1741.0,791.3 1741.8,794.5 1742.6,797.5 1743.5,800.4 1744.3,803.2 1745.1,805.9 1745.9,808.4 1746.7,810.8 1747.5,813.1 1748.3,815.3 1749.1,817.4 1749.9,819.4 1750.8,821.4 1751.6,823.2 1752.4,824.9 1753.2,826.6 1754.0,828.2 1754.8,829.7 1755.6,831.1 1756.4,832.5 1757.3,833.8 1758.1,835.1 1758.9,836.3 1759.7,837.5 1760.5,838.7 1761.3,839.8 1762.1,840.8 1762.9,841.8 1763.7,842.8 1764.6,843.7 1765.4,844.6 1766.2,845.5 1767.0,846.3 1767.8,847.1 1768.6,847.9 1769.4,848.6 1770.2,849.3 1771.0,850.0 1771.9,850.6 1772.7,851.2 1773.5,851.8 1774.3,852.3 1775.1,852.8 1775.9,853.3 1776.7,853.8 1777.5,854.2 1778.3,854.6 1779.2,855.0 1780.0,855.4 1780.8,855.7 1781.6,856.1 1782.4,856.4 1783.2,856.6 1784.0,856.9 1784.8,857.1 1785.7,857.4 1786.5,857.6 1787.3,857.8 1788.1,857.9 1788.9,858.1 1789.7,858.2 1790.5,858.4 1791.3,858.5 1792.1,858.6 1793.0,858.7 1793.8,858.8 1794.6,858.9 1795.4,859.0 1796.2,859.0 1797.0,859.1 1797.8,859.1 1798.6,859.2 1799.4,859.2 1800.3,859.3 1801.1,859.3 1801.9,859.3 1802.7,859.4 1803.5,859.4 1804.3,859.4 1805.1,859.5 1805.9,859.5 1806.8,859.5 1807.6,859.6 1808.4,859.6 1809.2,859.7 1810.0,859.7 1810.8,859.8 1811.6,859.9 1812.4,859.9 1813.2,860.0 1814.1,860.1 1814.9,860.2 1815.7,860.4 1816.5,860.5 1817.3,860.6 1818.1,860.8 1818.9,861.0" fill="none" stroke="#ff0000" stroke-width="3.1" stroke-linejoin="round" stroke-linecap="round" />
</g>
<rect x="1372.6" y="504.7" width="486.9" height="358" fill="none" stroke="#000" stroke-width="1.8"/>
<path d="M1372.6 862.7v7M1372.6 504.7v7M1413.17 862.7v4M1413.17 504.7v4M1453.75 862.7v7M1453.75 504.7v7M1494.32 862.7v4M1494.32 504.7v4M1534.9 862.7v7M1534.9 504.7v7M1575.47 862.7v4M1575.47 504.7v4M1616.05 862.7v7M1616.05 504.7v7M1656.62 862.7v4M1656.62 504.7v4M1697.2 862.7v7M1697.2 504.7v7M1737.78 862.7v4M1737.78 504.7v4M1778.35 862.7v7M1778.35 504.7v7M1818.92 862.7v4M1818.92 504.7v4M1859.5 862.7v7M1859.5 504.7v7M1372.6 862.7h-7M1859.5 862.7h-7M1372.6 783h-7M1859.5 783h-7M1372.6 703.3h-7M1859.5 703.3h-7M1372.6 623.6h-7M1859.5 623.6h-7M1372.6 543.9h-7M1859.5 543.9h-7M1372.6 822.85h-4M1859.5 822.85h-4M1372.6 743.15h-4M1859.5 743.15h-4M1372.6 663.45h-4M1859.5 663.45h-4M1372.6 583.75h-4M1859.5 583.75h-4M1372.6 504.05h-4M1859.5 504.05h-4" fill="none" stroke="#000" stroke-width="1.8"/>
<text transform="translate(1372.6,892.2) scale(0.955,1)" text-anchor="middle" font-size="22.9">730</text>
<text transform="translate(1453.75,892.2) scale(0.955,1)" text-anchor="middle" font-size="22.9">725</text>
<text transform="translate(1534.9,892.2) scale(0.955,1)" text-anchor="middle" font-size="22.9">720</text>
<text transform="translate(1616.05,892.2) scale(0.955,1)" text-anchor="middle" font-size="22.9">715</text>
<text transform="translate(1697.2,892.2) scale(0.955,1)" text-anchor="middle" font-size="22.9">710</text>
<text transform="translate(1778.35,892.2) scale(0.955,1)" text-anchor="middle" font-size="22.9">705</text>
<text transform="translate(1859.5,892.2) scale(0.955,1)" text-anchor="middle" font-size="22.9">700</text>
<text transform="translate(1360.1,871.7) scale(0.985,1)" text-anchor="end" font-size="22.9">0</text>
<text transform="translate(1360.1,792) scale(0.985,1)" text-anchor="end" font-size="22.9">1x10<tspan font-size="13.00" dy="-11">4</tspan></text>
<text transform="translate(1360.1,712.3) scale(0.985,1)" text-anchor="end" font-size="22.9">2x10<tspan font-size="13.00" dy="-11">4</tspan></text>
<text transform="translate(1360.1,632.6) scale(0.985,1)" text-anchor="end" font-size="22.9">3x10<tspan font-size="13.00" dy="-11">4</tspan></text>
<text transform="translate(1360.1,552.9) scale(0.985,1)" text-anchor="end" font-size="22.9">4x10<tspan font-size="13.00" dy="-11">4</tspan></text>
<text x="1614.05" y="931.7" text-anchor="middle" font-size="29">Binding Energy (eV)</text>
<text transform="translate(1287.1,681.4) rotate(-90)" text-anchor="middle" font-size="29">Intensity (a.u.)</text>

<text x="433.5" y="71" fill="#ff0000" font-size="38.3"><tspan>Zn</tspan><tspan font-size="25.66" dy="-16.85">2+</tspan><tspan dy="16.85"> 2p</tspan><tspan font-size="25.66" dy="11.87">3/2</tspan></text>
<text x="176.7" y="260.6" fill="#0000a0" font-size="38.3"><tspan>Zn</tspan><tspan font-size="25.66" dy="-16.85">2+</tspan><tspan dy="16.85"> 2p</tspan><tspan font-size="25.66" dy="11.87">1/2</tspan></text>
<text x="866" y="106.6" fill="#0000a0" font-size="38.3"><tspan>Cd</tspan><tspan font-size="25.66" dy="-16.85">2+</tspan><tspan dy="16.85"> 3d</tspan><tspan font-size="25.66" dy="11.87">3/2</tspan></text>
<text x="1049" y="66.5" fill="#ff0000" font-size="38.3"><tspan>Cd</tspan><tspan font-size="25.66" dy="-16.85">2+</tspan><tspan dy="16.85"> 3d</tspan><tspan font-size="25.66" dy="11.87">5/2</tspan></text>
<text x="1720" y="88" fill="#ff0000" font-size="38.3"><tspan>Mg</tspan><tspan font-size="25.66" dy="-16.85">2+</tspan><tspan dy="16.85"> 1s</tspan></text>
<text x="389.2" y="545.6" fill="#ff0000" font-size="38.3"><tspan>Ni</tspan><tspan font-size="25.66" dy="-16.85">2+</tspan><tspan dy="16.85"> 2p</tspan><tspan font-size="25.66" dy="11.87">3/2</tspan></text>
<text x="191" y="683.7" fill="#0000a0" font-size="38.3"><tspan>shake-up</tspan></text>
<text x="1109" y="550.6" fill="#ff0000" font-size="38.3"><tspan>O 1s</tspan></text>
<text x="766" y="651.6" fill="#007800" font-size="29"><tspan>contamination</tspan></text>
<text x="766" y="700.3" fill="#007800" font-size="29"><tspan>component</tspan></text>
<text x="1413.5" y="712" fill="#000" font-size="38.3"><tspan>Fe 2p</tspan><tspan font-size="25.66" dy="11.87">1/2</tspan></text>
<text x="1645" y="541.7" fill="#000" font-size="38.3"><tspan>Fe 2p</tspan><tspan font-size="25.66" dy="11.87">3/2</tspan></text>
<text x="1734.5" y="629.6" fill="#0000ee" font-size="38.3"><tspan>Fe</tspan><tspan font-size="25.66" dy="-16.85">2+</tspan></text>
<text x="1597" y="688.6" fill="#007800" font-size="38.3"><tspan>Fe</tspan><tspan font-size="25.66" dy="-16.85">3+</tspan></text>
<text x="1777" y="762.5" fill="#ff8a1a" font-size="29"><tspan>"pre-</tspan></text>
<text x="1777" y="811" fill="#ff8a1a" font-size="29"><tspan>peak"</tspan></text>
<path d="M862.9 702.8L901 759" stroke="#000" stroke-width="1.8" fill="none"/>
<path d="M904.5 765L895.5 757L902.5 752.5Z" fill="#000"/>
</svg></body></html>
